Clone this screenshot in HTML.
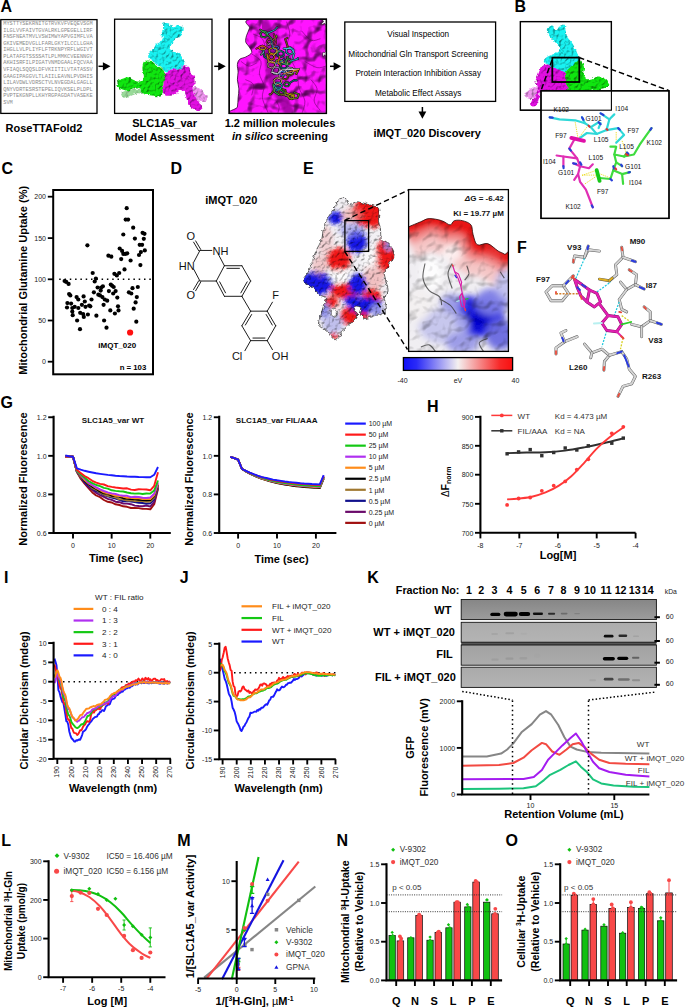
<!DOCTYPE html>
<html><head><meta charset="utf-8"><title>Figure</title>
<style>
html,body{margin:0;padding:0;background:#fff;}
body{width:685px;height:1007px;overflow:hidden;font-family:"Liberation Sans",sans-serif;}
svg{display:block;font-family:"Liberation Sans",sans-serif;}
</style></head><body>
<svg width="685" height="1007" viewBox="0 0 685 1007">
<rect width="685" height="1007" fill="#fff"/>
<defs>
<filter id="bump" x="-5%" y="-5%" width="110%" height="110%" color-interpolation-filters="sRGB">
 <feTurbulence type="fractalNoise" baseFrequency="0.28" numOctaves="2" seed="3" result="n"/>
 <feDisplacementMap in="SourceGraphic" in2="n" scale="4" xChannelSelector="R" yChannelSelector="G" result="d"/>
 <feTurbulence type="fractalNoise" baseFrequency="0.33" numOctaves="2" seed="9" result="n2"/>
 <feColorMatrix in="n2" type="matrix" values="0 0 0 0 0  0 0 0 0 0  0 0 0 0 0  1 0 0 0 0" result="na"/>
 <feDiffuseLighting in="na" surfaceScale="1.7" diffuseConstant="1.12" lighting-color="#ffffff" result="lit"><feDistantLight azimuth="230" elevation="62"/></feDiffuseLighting>
 <feComposite in="lit" in2="d" operator="arithmetic" k1="1" k2="0" k3="0" k4="0"/>
</filter>
<filter id="bumpE" x="-5%" y="-5%" width="110%" height="110%" color-interpolation-filters="sRGB">
 <feTurbulence type="fractalNoise" baseFrequency="0.26" numOctaves="2" seed="11" result="n"/>
 <feDisplacementMap in="SourceGraphic" in2="n" scale="4" xChannelSelector="R" yChannelSelector="G" result="d"/>
 <feTurbulence type="fractalNoise" baseFrequency="0.3" numOctaves="2" seed="21" result="n2"/>
 <feColorMatrix in="n2" type="matrix" values="0 0 0 0 0  0 0 0 0 0  0 0 0 0 0  1 0 0 0 0" result="na"/>
 <feDiffuseLighting in="na" surfaceScale="1.7" diffuseConstant="1.14" lighting-color="#ffffff" result="lit"><feDistantLight azimuth="230" elevation="62"/></feDiffuseLighting>
 <feComposite in="lit" in2="d" operator="arithmetic" k1="1" k2="0" k3="0" k4="0"/>
</filter>
<filter id="bumpM" x="0" y="0" width="100%" height="100%" color-interpolation-filters="sRGB">
 <feTurbulence type="fractalNoise" baseFrequency="0.075" numOctaves="2" seed="14" result="n2"/>
 <feColorMatrix in="n2" type="matrix" values="0 0 0 0 0  0 0 0 0 0  0 0 0 0 0  1 0 0 0 0" result="na"/>
 <feDiffuseLighting in="na" surfaceScale="8" diffuseConstant="1.14" lighting-color="#ffffff" result="lit"><feDistantLight azimuth="235" elevation="66"/></feDiffuseLighting>
 <feComposite in="lit" in2="SourceGraphic" operator="arithmetic" k1="1" k2="0" k3="0" k4="0"/>
</filter>
<filter id="blur15"><feGaussianBlur stdDeviation="1.5"/></filter>
<filter id="bumpI" x="0" y="0" width="100%" height="100%" color-interpolation-filters="sRGB">
 <feTurbulence type="fractalNoise" baseFrequency="0.085" numOctaves="2" seed="5" result="n2"/>
 <feColorMatrix in="n2" type="matrix" values="0 0 0 0 0  0 0 0 0 0  0 0 0 0 0  1 0 0 0 0" result="na"/>
 <feDiffuseLighting in="na" surfaceScale="2.6" diffuseConstant="1.1" lighting-color="#ffffff" result="lit"><feDistantLight azimuth="235" elevation="66"/></feDiffuseLighting>
 <feComposite in="lit" in2="SourceGraphic" operator="arithmetic" k1="1" k2="0" k3="0" k4="0"/>
</filter>
<filter id="blur1"><feGaussianBlur stdDeviation="1"/></filter>
<filter id="blur2"><feGaussianBlur stdDeviation="2"/></filter>
<filter id="blur3"><feGaussianBlur stdDeviation="3"/></filter>
<filter id="blur05"><feGaussianBlur stdDeviation="0.5"/></filter>
</defs>
<text x="0.4" y="11.8" font-size="16" font-weight="bold" text-anchor="start" fill="#000" >A</text>
<rect x="0.8" y="19.6" width="96.2" height="93.8" fill="#fff" stroke="#000" stroke-width="1.3"/>
<text x="3.2" y="25.30" font-family="Liberation Mono, monospace" font-size="4.6" fill="#8a8a8a" textLength="89.5" lengthAdjust="spacingAndGlyphs">MYSTTYSEKRNITGTRVKVFVEQEVSGM</text>
<text x="3.2" y="31.83" font-family="Liberation Mono, monospace" font-size="4.6" fill="#8a8a8a" textLength="89.5" lengthAdjust="spacingAndGlyphs">ILGLVVFAIVTGVALRKLGPEGELLIRF</text>
<text x="3.2" y="38.36" font-family="Liberation Mono, monospace" font-size="4.6" fill="#8a8a8a" textLength="89.5" lengthAdjust="spacingAndGlyphs">FNSFNEATMVLVSWIMWYAPVGIMFLVA</text>
<text x="3.2" y="44.89" font-family="Liberation Mono, monospace" font-size="4.6" fill="#8a8a8a" textLength="89.5" lengthAdjust="spacingAndGlyphs">GKIVEMEDVGLLFARLGKYILCCLLGHA</text>
<text x="3.2" y="51.42" font-family="Liberation Mono, monospace" font-size="4.6" fill="#8a8a8a" textLength="89.5" lengthAdjust="spacingAndGlyphs">IHGLLVLPLIYFLFTRKNPYRFLWGIVT</text>
<text x="3.2" y="57.95" font-family="Liberation Mono, monospace" font-size="4.6" fill="#8a8a8a" textLength="89.5" lengthAdjust="spacingAndGlyphs">PLATAFGTSSSSATLPLMMKCVEENNGV</text>
<text x="3.2" y="64.48" font-family="Liberation Mono, monospace" font-size="4.6" fill="#8a8a8a" textLength="89.5" lengthAdjust="spacingAndGlyphs">AKHISRFILPIGATVNMDGAALFQCVAA</text>
<text x="3.2" y="71.01" font-family="Liberation Mono, monospace" font-size="4.6" fill="#8a8a8a" textLength="89.5" lengthAdjust="spacingAndGlyphs">VFIAQLSQQSLDFVKIITILVTATASSV</text>
<text x="3.2" y="77.54" font-family="Liberation Mono, monospace" font-size="4.6" fill="#8a8a8a" textLength="89.5" lengthAdjust="spacingAndGlyphs">GAAGIPAGGVLTLAIILEAVNLPVDHIS</text>
<text x="3.2" y="84.07" font-family="Liberation Mono, monospace" font-size="4.6" fill="#8a8a8a" textLength="89.5" lengthAdjust="spacingAndGlyphs">LILAVDWLVDRSCTVLNVEGDALGAGLL</text>
<text x="3.2" y="90.60" font-family="Liberation Mono, monospace" font-size="4.6" fill="#8a8a8a" textLength="89.5" lengthAdjust="spacingAndGlyphs">QNYVDRTESRSTEPELIQVKSELPLDPL</text>
<text x="3.2" y="97.13" font-family="Liberation Mono, monospace" font-size="4.6" fill="#8a8a8a" textLength="89.5" lengthAdjust="spacingAndGlyphs">PVPTEKGNPLLKHYRGPAGDATVASEKE</text>
<text x="3.2" y="103.66" font-family="Liberation Mono, monospace" font-size="4.6" fill="#8a8a8a" textLength="9.6" lengthAdjust="spacingAndGlyphs">SVM</text>
<text x="5.5" y="132.4" font-size="11" font-weight="bold" text-anchor="start" fill="#000" >RoseTTAFold2</text>
<path d="M98.5,66.3H103.9" stroke="#000" stroke-width="1.5"/><path d="M110.5,66.3L102.9,62.199999999999996V70.39999999999999Z" fill="#000"/>
<rect x="114.6" y="19.2" width="97.4" height="94.2" fill="#fff" stroke="#000" stroke-width="1.3"/>
<g filter="url(#bump)">
<path d="M121.1,93.4C121.5,92.0 123.9,91.1 127.2,90.4C130.5,89.6 138.3,88.4 140.8,88.9C143.4,89.4 142.9,92.7 142.4,93.4C141.9,94.2 139.8,93.0 137.8,93.4C135.8,93.8 132.4,94.8 130.2,95.7C128.1,96.6 126.4,99.1 124.9,98.7C123.4,98.4 120.7,94.8 121.1,93.4Z" fill="#7fd27f" opacity="0.8"/>
<path d="M192.5,87.4C193.2,86.5 196.5,87.1 198.5,88.1C200.6,89.1 203.1,92.2 204.6,93.4C206.1,94.7 207.4,94.4 207.6,95.7C207.9,97.0 207.1,100.1 206.1,101.0C205.1,101.9 203.1,101.3 201.6,101.0C200.1,100.8 198.3,100.8 197.0,99.5C195.8,98.2 194.7,95.4 194.0,93.4C193.2,91.4 191.7,88.2 192.5,87.4Z" fill="#ee82ee" opacity="0.85"/>
<path d="M163.6,22.8C164.6,21.8 167.4,22.8 168.9,23.6C170.4,24.3 171.3,27.1 172.7,27.4C174.1,27.6 175.8,25.4 177.3,25.1C178.8,24.9 180.9,25.0 181.8,25.9C182.7,26.8 182.7,28.8 182.6,30.4C182.5,32.1 182.2,34.3 181.1,35.7C179.9,37.1 177.4,37.4 175.8,38.8C174.1,40.2 172.2,42.4 171.2,44.1C170.2,45.7 169.2,47.4 169.7,48.6C170.2,49.9 172.6,50.8 174.2,51.7C175.9,52.6 178.0,52.6 179.6,54.0C181.1,55.3 182.6,58.3 183.4,60.0C184.1,61.8 184.6,63.2 184.1,64.6C183.6,66.0 182.2,67.6 180.3,68.4C178.4,69.1 175.0,68.6 172.7,69.1C170.4,69.6 168.4,71.5 166.7,71.4C164.9,71.3 163.6,69.5 162.1,68.4C160.6,67.2 159.1,65.7 157.5,64.6C156.0,63.4 154.5,62.7 153.0,61.5C151.5,60.4 149.1,59.1 148.4,57.7C147.8,56.4 148.3,54.7 149.2,53.2C150.1,51.7 152.6,50.2 153.7,48.6C154.9,47.1 154.9,45.4 156.0,44.1C157.2,42.8 159.4,42.3 160.6,41.0C161.7,39.8 162.9,37.4 162.9,36.5C162.9,35.6 160.6,36.9 160.6,35.7C160.6,34.6 162.4,31.8 162.9,29.7C163.4,27.5 162.6,23.8 163.6,22.8Z" fill="#19f2f2"/>
<path d="M143.9,61.5C145.1,60.2 147.9,60.3 150.0,60.8C152.0,61.3 154.0,63.2 156.0,64.6C158.1,66.0 160.6,67.6 162.1,69.1C163.6,70.7 164.9,71.4 165.1,73.7C165.4,76.0 164.0,79.8 163.6,82.8C163.2,85.8 163.4,89.6 162.9,91.9C162.4,94.2 162.0,95.8 160.6,96.5C159.2,97.1 156.5,96.0 154.5,95.7C152.5,95.4 150.5,95.3 148.4,94.9C146.4,94.6 143.6,94.4 142.4,93.4C141.1,92.4 141.9,89.9 140.8,88.9C139.8,87.9 137.8,87.4 136.3,87.4C134.8,87.4 133.3,88.4 131.7,88.9C130.2,89.4 129.0,90.4 127.2,90.4C125.4,90.4 122.9,89.8 121.1,88.9C119.3,88.0 117.1,86.5 116.6,85.1C116.0,83.7 116.8,81.7 118.1,80.5C119.3,79.4 122.4,78.7 124.1,78.2C125.9,77.7 126.9,77.1 128.7,77.5C130.5,77.9 132.7,79.9 134.8,80.5C136.8,81.2 139.3,81.9 140.8,81.3C142.4,80.6 143.6,78.7 143.9,76.7C144.1,74.7 142.4,71.7 142.4,69.1C142.4,66.6 142.6,62.9 143.9,61.5Z" fill="#0fe60f"/>
<path d="M165.1,73.7C166.7,71.4 170.2,70.0 172.7,69.1C175.3,68.2 178.3,69.0 180.3,68.4C182.3,67.7 183.4,65.5 184.9,65.3C186.4,65.2 188.4,66.2 189.4,67.6C190.4,69.0 190.1,72.2 190.9,73.7C191.8,75.2 194.0,75.2 194.7,76.7C195.5,78.2 195.9,81.0 195.5,82.8C195.1,84.6 192.7,85.6 192.5,87.4C192.2,89.1 193.2,91.4 194.0,93.4C194.7,95.4 195.9,97.5 197.0,99.5C198.2,101.5 200.2,103.8 200.8,105.6C201.4,107.3 201.4,109.2 200.8,110.1C200.2,111.0 198.5,111.3 197.0,110.9C195.5,110.5 193.2,109.0 191.7,107.8C190.2,106.7 188.8,105.7 187.9,104.1C187.0,102.4 186.9,100.0 186.4,98.0C185.9,96.0 185.9,93.2 184.9,91.9C183.9,90.6 181.8,90.1 180.3,90.4C178.8,90.6 177.5,92.5 175.8,93.4C174.0,94.3 171.6,95.4 169.7,95.7C167.8,96.0 165.5,95.6 164.4,94.9C163.2,94.3 163.0,93.9 162.9,91.9C162.7,89.9 163.2,85.8 163.6,82.8C164.0,79.8 163.6,76.0 165.1,73.7Z" fill="#e10fe1"/>
</g>
<text x="164.6" y="127" font-size="11" font-weight="bold" text-anchor="middle" fill="#000" >SLC1A5_var</text>
<text x="164.6" y="140.6" font-size="11" font-weight="bold" text-anchor="middle" fill="#000" >Model Assessment</text>
<path d="M214.2,66.3H219.20000000000002" stroke="#000" stroke-width="1.5"/><path d="M225.8,66.3L218.20000000000002,62.199999999999996V70.39999999999999Z" fill="#000"/>
<rect x="229.2" y="19.2" width="97.2" height="94.2" fill="#fff" stroke="#000" stroke-width="1.3"/>
<clipPath id="cb3"><rect x="229.8" y="19.8" width="96" height="93"/></clipPath>
<g clip-path="url(#cb3)">
<g filter="url(#bumpM)"><path d="M251.0,19.3C239.8,20.8 250.3,25.4 249.5,28.1C248.8,30.9 247.1,33.5 246.5,35.7C245.9,38.0 245.4,40.0 245.7,41.8C246.1,43.6 247.8,44.6 248.8,46.4C249.8,48.1 252.3,50.7 251.8,52.4C251.3,54.2 247.8,55.9 245.7,57.0C243.7,58.1 241.1,58.0 239.7,59.3C238.3,60.5 237.6,62.4 237.4,64.6C237.1,66.7 238.1,69.6 238.1,72.2C238.1,74.7 237.3,77.0 237.4,79.8C237.5,82.5 238.8,85.8 238.9,88.9C239.0,91.9 238.4,94.9 238.1,98.0C237.9,101.0 237.9,104.5 237.4,107.1C236.9,109.7 220.4,112.4 235.1,113.5C249.8,114.5 310.6,122.5 325.7,113.5C340.8,104.4 326.2,68.7 325.7,59.3C325.3,49.9 323.6,58.1 323.2,57.0C322.7,55.9 322.4,53.6 322.9,52.4C323.3,51.3 325.3,54.7 325.7,50.2C326.2,45.7 326.4,29.7 325.7,25.4C325.1,21.1 323.1,25.4 321.6,24.3C320.2,23.3 328.9,20.2 317.1,19.3C305.3,18.5 262.3,17.9 251.0,19.3Z" fill="#ff14ff"/></g>
<path d="M251.0,19.3C239.8,20.8 250.3,25.4 249.5,28.1C248.8,30.9 247.1,33.5 246.5,35.7C245.9,38.0 245.4,40.0 245.7,41.8C246.1,43.6 247.8,44.6 248.8,46.4C249.8,48.1 252.3,50.7 251.8,52.4C251.3,54.2 247.8,55.9 245.7,57.0C243.7,58.1 241.1,58.0 239.7,59.3C238.3,60.5 237.6,62.4 237.4,64.6C237.1,66.7 238.1,69.6 238.1,72.2C238.1,74.7 237.3,77.0 237.4,79.8C237.5,82.5 238.8,85.8 238.9,88.9C239.0,91.9 238.4,94.9 238.1,98.0C237.9,101.0 237.9,104.5 237.4,107.1C236.9,109.7 220.4,112.4 235.1,113.5C249.8,114.5 310.6,122.5 325.7,113.5C340.8,104.4 326.2,68.7 325.7,59.3C325.3,49.9 323.6,58.1 323.2,57.0C322.7,55.9 322.4,53.6 322.9,52.4C323.3,51.3 325.3,54.7 325.7,50.2C326.2,45.7 326.4,29.7 325.7,25.4C325.1,21.1 323.1,25.4 321.6,24.3C320.2,23.3 328.9,20.2 317.1,19.3C305.3,18.5 262.3,17.9 251.0,19.3Z" fill="none" stroke="#300030" stroke-width="0.8"/>
<g filter="url(#blur1)">
<path d="M264.7,25.1C265.9,27.4 270.7,33.7 271.5,38.8C272.4,43.8 270.0,49.7 270.0,55.5C270.0,61.3 270.5,68.4 271.5,73.7C272.6,79.0 274.1,82.8 276.1,87.4C278.1,91.9 281.4,96.7 283.7,101.0C286.0,105.4 288.7,111.4 289.8,113.5" fill="none" stroke="#8a008a" stroke-width="10" stroke-linecap="round" opacity="0.7"/>
</g>
<g filter="url(#blur05)">
<path d="M286.7,22.1C287.2,24.1 289.8,30.2 289.8,34.2C289.8,38.3 286.5,42.1 286.7,46.4C287.0,50.7 289.5,55.5 291.3,60.0C293.1,64.6 296.1,69.1 297.4,73.7C298.6,78.2 297.6,82.8 298.9,87.4C300.1,91.9 304.4,96.7 304.9,101.0C305.4,105.4 302.4,111.4 301.9,113.5" fill="none" stroke="#5a005a" stroke-width="1.0" stroke-linecap="round" opacity="0.5"/>
<path d="M251.8,54.0C253.3,55.2 259.7,58.3 260.9,61.5C262.2,64.8 258.9,69.6 259.4,73.7C259.9,77.7 263.4,81.8 264.0,85.8C264.5,89.9 261.7,93.4 262.4,98.0C263.2,102.6 267.5,110.9 268.5,113.5" fill="none" stroke="#5a005a" stroke-width="1.0" stroke-linecap="round" opacity="0.5"/>
<path d="M304.9,61.5C307.0,62.6 313.6,66.9 317.1,67.6C320.6,68.4 324.3,66.4 325.7,66.1" fill="none" stroke="#5a005a" stroke-width="1.0" stroke-linecap="round" opacity="0.5"/>
<path d="M301.9,31.2C303.4,32.7 308.0,39.0 311.0,40.3C314.1,41.6 318.6,39.0 320.1,38.8" fill="none" stroke="#5a005a" stroke-width="1.0" stroke-linecap="round" opacity="0.5"/>
<path d="M245.7,79.8C247.0,80.5 252.3,81.8 253.3,84.3C254.3,86.8 252.1,93.2 251.8,94.9" fill="none" stroke="#5a005a" stroke-width="1.0" stroke-linecap="round" opacity="0.5"/>
<path d="M311.0,79.8C312.0,81.3 316.6,85.3 317.1,88.9C317.6,92.4 313.5,97.5 314.1,101.0C314.6,104.6 319.1,108.6 320.1,110.1" fill="none" stroke="#5a005a" stroke-width="1.0" stroke-linecap="round" opacity="0.5"/>
<path d="M253.3,34.2C254.8,35.0 260.4,36.2 262.4,38.8C264.5,41.3 265.0,47.6 265.5,49.4" fill="none" stroke="#5a005a" stroke-width="1.0" stroke-linecap="round" opacity="0.5"/>
<path d="M241.2,61.5C242.4,62.3 246.2,65.8 248.8,66.1C251.3,66.4 255.1,63.6 256.4,63.1" fill="none" stroke="#5a005a" stroke-width="1.0" stroke-linecap="round" opacity="0.5"/>
<path d="M276.1,101.0C276.6,102.0 278.9,105.0 279.1,107.1C279.4,109.2 277.9,112.4 277.6,113.5" fill="none" stroke="#5a005a" stroke-width="1.0" stroke-linecap="round" opacity="0.5"/>
</g>
<path d="M261.4,36.6L260.3,33.4L262.9,31.0L266.5,31.8L267.6,35.0L265.0,37.4Z" fill="none" stroke="#1a1a1a" stroke-width="2.1" stroke-linejoin="round" stroke-linecap="round"/>
<path d="M267.4,33.3L274.6,30.1L277.2,27.3" fill="none" stroke="#1a1a1a" stroke-width="2.1" stroke-linejoin="round" stroke-linecap="round"/>
<path d="M266.6,42.3L267.8,39.6L271.2,39.1L273.4,41.3L272.2,44.0L268.9,44.5Z" fill="none" stroke="#1a1a1a" stroke-width="2.1" stroke-linejoin="round" stroke-linecap="round"/>
<path d="M272.8,40.4L276.5,37.1L276.3,35.6" fill="none" stroke="#1a1a1a" stroke-width="2.1" stroke-linejoin="round" stroke-linecap="round"/>
<path d="M261.6,49.6L259.0,48.4L259.8,46.6L263.3,46.1L265.9,47.4L265.0,49.1Z" fill="none" stroke="#1a1a1a" stroke-width="2.1" stroke-linejoin="round" stroke-linecap="round"/>
<path d="M263.2,50.3L264.3,56.7L266.8,58.3" fill="none" stroke="#1a1a1a" stroke-width="2.1" stroke-linejoin="round" stroke-linecap="round"/>
<path d="M273.8,48.9L273.4,47.2L275.8,46.2L278.4,46.9L278.7,48.5L276.4,49.5Z" fill="none" stroke="#1a1a1a" stroke-width="2.1" stroke-linejoin="round" stroke-linecap="round"/>
<path d="M274.0,46.5L270.5,42.8L267.5,45.1" fill="none" stroke="#1a1a1a" stroke-width="2.1" stroke-linejoin="round" stroke-linecap="round"/>
<path d="M273.9,58.8L271.1,59.9L268.8,58.1L269.2,55.1L272.0,54.1L274.3,55.9Z" fill="none" stroke="#1a1a1a" stroke-width="2.1" stroke-linejoin="round" stroke-linecap="round"/>
<path d="M273.6,55.5L277.4,50.9L280.2,51.2" fill="none" stroke="#1a1a1a" stroke-width="2.1" stroke-linejoin="round" stroke-linecap="round"/>
<path d="M292.8,53.1L289.3,54.6L286.2,52.4L286.7,48.7L290.2,47.2L293.3,49.5Z" fill="none" stroke="#1a1a1a" stroke-width="2.1" stroke-linejoin="round" stroke-linecap="round"/>
<path d="M288.4,48.4L285.1,39.1L287.5,37.9" fill="none" stroke="#1a1a1a" stroke-width="2.1" stroke-linejoin="round" stroke-linecap="round"/>
<path d="M282.0,62.5L279.1,63.4L276.3,62.5L276.3,60.6L279.1,59.7L281.9,60.6Z" fill="none" stroke="#1a1a1a" stroke-width="2.1" stroke-linejoin="round" stroke-linecap="round"/>
<path d="M282.1,62.4L287.2,65.0L287.8,62.0" fill="none" stroke="#1a1a1a" stroke-width="2.1" stroke-linejoin="round" stroke-linecap="round"/>
<path d="M285.6,68.3L281.7,68.2L279.9,66.1L281.8,63.9L285.6,63.9L287.5,66.1Z" fill="none" stroke="#1a1a1a" stroke-width="2.1" stroke-linejoin="round" stroke-linecap="round"/>
<path d="M285.3,63.7L287.9,56.8L286.8,56.7" fill="none" stroke="#1a1a1a" stroke-width="2.1" stroke-linejoin="round" stroke-linecap="round"/>
<path d="M279.9,71.3L277.4,74.2L273.6,73.6L272.3,70.0L274.8,67.1L278.6,67.7Z" fill="none" stroke="#1a1a1a" stroke-width="2.1" stroke-linejoin="round" stroke-linecap="round"/>
<path d="M279.9,71.0L287.6,72.3L289.7,69.4" fill="none" stroke="#1a1a1a" stroke-width="2.1" stroke-linejoin="round" stroke-linecap="round"/>
<path d="M291.4,73.5L287.4,73.2L285.8,70.3L288.1,67.8L292.1,68.1L293.8,71.0Z" fill="none" stroke="#1a1a1a" stroke-width="2.1" stroke-linejoin="round" stroke-linecap="round"/>
<path d="M293.8,70.8L298.0,71.1L296.1,73.9" fill="none" stroke="#1a1a1a" stroke-width="2.1" stroke-linejoin="round" stroke-linecap="round"/>
<path d="M283.1,78.7L282.4,75.9L284.5,74.0L287.3,74.7L288.0,77.5L285.9,79.5Z" fill="none" stroke="#1a1a1a" stroke-width="2.1" stroke-linejoin="round" stroke-linecap="round"/>
<path d="M288.0,76.0L293.3,73.6L292.4,73.8" fill="none" stroke="#1a1a1a" stroke-width="2.1" stroke-linejoin="round" stroke-linecap="round"/>
<path d="M281.4,82.4L278.3,84.7L274.6,83.6L273.8,80.1L276.9,77.8L280.7,79.0Z" fill="none" stroke="#1a1a1a" stroke-width="2.1" stroke-linejoin="round" stroke-linecap="round"/>
<path d="M278.8,78.6L281.2,69.5L278.4,72.2" fill="none" stroke="#1a1a1a" stroke-width="2.1" stroke-linejoin="round" stroke-linecap="round"/>
<path d="M288.1,86.3L285.3,86.2L284.0,84.3L285.4,82.4L288.2,82.4L289.5,84.4Z" fill="none" stroke="#1a1a1a" stroke-width="2.1" stroke-linejoin="round" stroke-linecap="round"/>
<path d="M289.1,83.4L294.1,80.1L296.6,80.4" fill="none" stroke="#1a1a1a" stroke-width="2.1" stroke-linejoin="round" stroke-linecap="round"/>
<path d="M279.3,90.4L276.2,90.5L274.5,89.0L275.9,87.3L279.1,87.2L280.8,88.8Z" fill="none" stroke="#1a1a1a" stroke-width="2.1" stroke-linejoin="round" stroke-linecap="round"/>
<path d="M280.4,89.9L284.6,92.6L285.7,95.6" fill="none" stroke="#1a1a1a" stroke-width="2.1" stroke-linejoin="round" stroke-linecap="round"/>
<path d="M294.1,96.9L292.3,99.1L289.5,98.7L288.4,96.0L290.2,93.8L293.1,94.2Z" fill="none" stroke="#1a1a1a" stroke-width="2.1" stroke-linejoin="round" stroke-linecap="round"/>
<path d="M288.5,96.0L282.6,94.6L281.0,95.2" fill="none" stroke="#1a1a1a" stroke-width="2.1" stroke-linejoin="round" stroke-linecap="round"/>
<path d="M282.7,94.8L279.0,93.7L278.4,90.8L281.6,89.0L285.4,90.1L286.0,93.0Z" fill="none" stroke="#1a1a1a" stroke-width="2.1" stroke-linejoin="round" stroke-linecap="round"/>
<path d="M286.0,92.9L294.1,96.2L291.3,96.2" fill="none" stroke="#1a1a1a" stroke-width="2.1" stroke-linejoin="round" stroke-linecap="round"/>
<path d="M275.3,66.0L272.0,68.1L268.2,66.7L267.8,63.2L271.1,61.0L274.8,62.5Z" fill="none" stroke="#1a1a1a" stroke-width="2.1" stroke-linejoin="round" stroke-linecap="round"/>
<path d="M275.4,63.7L282.2,61.1L284.0,58.7" fill="none" stroke="#1a1a1a" stroke-width="2.1" stroke-linejoin="round" stroke-linecap="round"/>
<path d="M283.7,55.4L280.8,57.1L277.8,55.7L277.6,52.5L280.5,50.8L283.5,52.2Z" fill="none" stroke="#1a1a1a" stroke-width="2.1" stroke-linejoin="round" stroke-linecap="round"/>
<path d="M279.7,56.2L278.0,63.2L281.0,65.3" fill="none" stroke="#1a1a1a" stroke-width="2.1" stroke-linejoin="round" stroke-linecap="round"/>
<path d="M273.7,54.1L269.6,52.9L269.0,49.7L272.4,47.7L276.5,48.9L277.1,52.1Z" fill="none" stroke="#1a1a1a" stroke-width="2.1" stroke-linejoin="round" stroke-linecap="round"/>
<path d="M272.5,47.9L271.7,40.3L270.4,39.7" fill="none" stroke="#1a1a1a" stroke-width="2.1" stroke-linejoin="round" stroke-linecap="round"/>
<path d="M289.3,64.2L286.5,63.8L285.4,61.2L287.2,58.9L290.0,59.3L291.1,61.9Z" fill="none" stroke="#1a1a1a" stroke-width="2.1" stroke-linejoin="round" stroke-linecap="round"/>
<path d="M291.0,61.0L297.9,59.0L297.9,58.0" fill="none" stroke="#1a1a1a" stroke-width="2.1" stroke-linejoin="round" stroke-linecap="round"/>
<path d="M284.0,75.5L281.3,76.0L279.5,74.2L280.4,71.8L283.1,71.4L284.9,73.2Z" fill="none" stroke="#1a1a1a" stroke-width="2.1" stroke-linejoin="round" stroke-linecap="round"/>
<path d="M284.0,72.3L287.9,67.3L289.6,69.0" fill="none" stroke="#1a1a1a" stroke-width="2.1" stroke-linejoin="round" stroke-linecap="round"/>
<path d="M276.5,88.8L274.5,85.9L276.4,82.9L280.3,82.9L282.2,85.8L280.3,88.8Z" fill="none" stroke="#1a1a1a" stroke-width="2.1" stroke-linejoin="round" stroke-linecap="round"/>
<path d="M275.9,87.9L270.9,94.4L269.6,94.4" fill="none" stroke="#1a1a1a" stroke-width="2.1" stroke-linejoin="round" stroke-linecap="round"/>
<path d="M260.2,29.7L267.0,34.2L271.5,38.8" fill="none" stroke="#1a1a1a" stroke-width="2.1" stroke-linejoin="round" stroke-linecap="round"/>
<path d="M256.4,48.6L262.4,45.6L267.7,48.6" fill="none" stroke="#1a1a1a" stroke-width="2.1" stroke-linejoin="round" stroke-linecap="round"/>
<path d="M273.8,34.2L276.1,41.8L274.6,46.4" fill="none" stroke="#1a1a1a" stroke-width="2.1" stroke-linejoin="round" stroke-linecap="round"/>
<path d="M271.5,72.2L277.6,73.7L282.2,69.9L298.9,69.1" fill="none" stroke="#1a1a1a" stroke-width="2.1" stroke-linejoin="round" stroke-linecap="round"/>
<path d="M283.7,73.7L291.3,71.4L298.9,69.4" fill="none" stroke="#1a1a1a" stroke-width="2.1" stroke-linejoin="round" stroke-linecap="round"/>
<path d="M285.2,94.9L291.3,98.7L297.4,98.0L298.9,94.2L294.3,92.7" fill="none" stroke="#1a1a1a" stroke-width="2.1" stroke-linejoin="round" stroke-linecap="round"/>
<path d="M267.0,54.0L268.5,61.5L274.6,63.1" fill="none" stroke="#1a1a1a" stroke-width="2.1" stroke-linejoin="round" stroke-linecap="round"/>
<path d="M283.7,48.6L291.3,48.6L294.3,53.2L292.8,58.5" fill="none" stroke="#1a1a1a" stroke-width="2.1" stroke-linejoin="round" stroke-linecap="round"/>
<path d="M273.1,84.3L274.6,91.9L279.1,94.9" fill="none" stroke="#1a1a1a" stroke-width="2.1" stroke-linejoin="round" stroke-linecap="round"/>
<path d="M260.9,54.7L264.0,51.7" fill="none" stroke="#1a1a1a" stroke-width="2.1" stroke-linejoin="round" stroke-linecap="round"/>
<path d="M261.4,36.6L260.3,33.4L262.9,31.0L266.5,31.8L267.6,35.0L265.0,37.4Z" fill="none" stroke="#2f9e44" stroke-width="0.9" stroke-linejoin="round" stroke-linecap="round"/>
<path d="M267.4,33.3L274.6,30.1L277.2,27.3" fill="none" stroke="#22b8cf" stroke-width="0.9" stroke-linejoin="round" stroke-linecap="round"/>
<path d="M266.6,42.3L267.8,39.6L271.2,39.1L273.4,41.3L272.2,44.0L268.9,44.5Z" fill="none" stroke="#c2255c" stroke-width="0.9" stroke-linejoin="round" stroke-linecap="round"/>
<path d="M272.8,40.4L276.5,37.1L276.3,35.6" fill="none" stroke="#74b816" stroke-width="0.9" stroke-linejoin="round" stroke-linecap="round"/>
<path d="M261.6,49.6L259.0,48.4L259.8,46.6L263.3,46.1L265.9,47.4L265.0,49.1Z" fill="none" stroke="#c9a800" stroke-width="0.9" stroke-linejoin="round" stroke-linecap="round"/>
<path d="M263.2,50.3L264.3,56.7L266.8,58.3" fill="none" stroke="#0b7285" stroke-width="0.9" stroke-linejoin="round" stroke-linecap="round"/>
<path d="M273.8,48.9L273.4,47.2L275.8,46.2L278.4,46.9L278.7,48.5L276.4,49.5Z" fill="none" stroke="#3b5bdb" stroke-width="0.9" stroke-linejoin="round" stroke-linecap="round"/>
<path d="M274.0,46.5L270.5,42.8L267.5,45.1" fill="none" stroke="#9c8cc0" stroke-width="0.9" stroke-linejoin="round" stroke-linecap="round"/>
<path d="M273.9,58.8L271.1,59.9L268.8,58.1L269.2,55.1L272.0,54.1L274.3,55.9Z" fill="none" stroke="#e8590c" stroke-width="0.9" stroke-linejoin="round" stroke-linecap="round"/>
<path d="M273.6,55.5L277.4,50.9L280.2,51.2" fill="none" stroke="#b8b8b8" stroke-width="0.9" stroke-linejoin="round" stroke-linecap="round"/>
<path d="M292.8,53.1L289.3,54.6L286.2,52.4L286.7,48.7L290.2,47.2L293.3,49.5Z" fill="none" stroke="#22b8cf" stroke-width="0.9" stroke-linejoin="round" stroke-linecap="round"/>
<path d="M288.4,48.4L285.1,39.1L287.5,37.9" fill="none" stroke="#8a5a20" stroke-width="0.9" stroke-linejoin="round" stroke-linecap="round"/>
<path d="M282.0,62.5L279.1,63.4L276.3,62.5L276.3,60.6L279.1,59.7L281.9,60.6Z" fill="none" stroke="#74b816" stroke-width="0.9" stroke-linejoin="round" stroke-linecap="round"/>
<path d="M282.1,62.4L287.2,65.0L287.8,62.0" fill="none" stroke="#d9a066" stroke-width="0.9" stroke-linejoin="round" stroke-linecap="round"/>
<path d="M285.6,68.3L281.7,68.2L279.9,66.1L281.8,63.9L285.6,63.9L287.5,66.1Z" fill="none" stroke="#0b7285" stroke-width="0.9" stroke-linejoin="round" stroke-linecap="round"/>
<path d="M285.3,63.7L287.9,56.8L286.8,56.7" fill="none" stroke="#2b8a3e" stroke-width="0.9" stroke-linejoin="round" stroke-linecap="round"/>
<path d="M279.9,71.3L277.4,74.2L273.6,73.6L272.3,70.0L274.8,67.1L278.6,67.7Z" fill="none" stroke="#9c8cc0" stroke-width="0.9" stroke-linejoin="round" stroke-linecap="round"/>
<path d="M279.9,71.0L287.6,72.3L289.7,69.4" fill="none" stroke="#1864ab" stroke-width="0.9" stroke-linejoin="round" stroke-linecap="round"/>
<path d="M291.4,73.5L287.4,73.2L285.8,70.3L288.1,67.8L292.1,68.1L293.8,71.0Z" fill="none" stroke="#b8b8b8" stroke-width="0.9" stroke-linejoin="round" stroke-linecap="round"/>
<path d="M293.8,70.8L298.0,71.1L296.1,73.9" fill="none" stroke="#b08900" stroke-width="0.9" stroke-linejoin="round" stroke-linecap="round"/>
<path d="M283.1,78.7L282.4,75.9L284.5,74.0L287.3,74.7L288.0,77.5L285.9,79.5Z" fill="none" stroke="#8a5a20" stroke-width="0.9" stroke-linejoin="round" stroke-linecap="round"/>
<path d="M288.0,76.0L293.3,73.6L292.4,73.8" fill="none" stroke="#5c6b00" stroke-width="0.9" stroke-linejoin="round" stroke-linecap="round"/>
<path d="M281.4,82.4L278.3,84.7L274.6,83.6L273.8,80.1L276.9,77.8L280.7,79.0Z" fill="none" stroke="#d9a066" stroke-width="0.9" stroke-linejoin="round" stroke-linecap="round"/>
<path d="M278.8,78.6L281.2,69.5L278.4,72.2" fill="none" stroke="#c98a9a" stroke-width="0.9" stroke-linejoin="round" stroke-linecap="round"/>
<path d="M288.1,86.3L285.3,86.2L284.0,84.3L285.4,82.4L288.2,82.4L289.5,84.4Z" fill="none" stroke="#2b8a3e" stroke-width="0.9" stroke-linejoin="round" stroke-linecap="round"/>
<path d="M289.1,83.4L294.1,80.1L296.6,80.4" fill="none" stroke="#087f7f" stroke-width="0.9" stroke-linejoin="round" stroke-linecap="round"/>
<path d="M279.3,90.4L276.2,90.5L274.5,89.0L275.9,87.3L279.1,87.2L280.8,88.8Z" fill="none" stroke="#1864ab" stroke-width="0.9" stroke-linejoin="round" stroke-linecap="round"/>
<path d="M280.4,89.9L284.6,92.6L285.7,95.6" fill="none" stroke="#2f9e44" stroke-width="0.9" stroke-linejoin="round" stroke-linecap="round"/>
<path d="M294.1,96.9L292.3,99.1L289.5,98.7L288.4,96.0L290.2,93.8L293.1,94.2Z" fill="none" stroke="#b08900" stroke-width="0.9" stroke-linejoin="round" stroke-linecap="round"/>
<path d="M288.5,96.0L282.6,94.6L281.0,95.2" fill="none" stroke="#c2255c" stroke-width="0.9" stroke-linejoin="round" stroke-linecap="round"/>
<path d="M282.7,94.8L279.0,93.7L278.4,90.8L281.6,89.0L285.4,90.1L286.0,93.0Z" fill="none" stroke="#5c6b00" stroke-width="0.9" stroke-linejoin="round" stroke-linecap="round"/>
<path d="M286.0,92.9L294.1,96.2L291.3,96.2" fill="none" stroke="#c9a800" stroke-width="0.9" stroke-linejoin="round" stroke-linecap="round"/>
<path d="M275.3,66.0L272.0,68.1L268.2,66.7L267.8,63.2L271.1,61.0L274.8,62.5Z" fill="none" stroke="#c98a9a" stroke-width="0.9" stroke-linejoin="round" stroke-linecap="round"/>
<path d="M275.4,63.7L282.2,61.1L284.0,58.7" fill="none" stroke="#3b5bdb" stroke-width="0.9" stroke-linejoin="round" stroke-linecap="round"/>
<path d="M283.7,55.4L280.8,57.1L277.8,55.7L277.6,52.5L280.5,50.8L283.5,52.2Z" fill="none" stroke="#087f7f" stroke-width="0.9" stroke-linejoin="round" stroke-linecap="round"/>
<path d="M279.7,56.2L278.0,63.2L281.0,65.3" fill="none" stroke="#e8590c" stroke-width="0.9" stroke-linejoin="round" stroke-linecap="round"/>
<path d="M273.7,54.1L269.6,52.9L269.0,49.7L272.4,47.7L276.5,48.9L277.1,52.1Z" fill="none" stroke="#c9a800" stroke-width="0.9" stroke-linejoin="round" stroke-linecap="round"/>
<path d="M272.5,47.9L271.7,40.3L270.4,39.7" fill="none" stroke="#0b7285" stroke-width="0.9" stroke-linejoin="round" stroke-linecap="round"/>
<path d="M289.3,64.2L286.5,63.8L285.4,61.2L287.2,58.9L290.0,59.3L291.1,61.9Z" fill="none" stroke="#2f9e44" stroke-width="0.9" stroke-linejoin="round" stroke-linecap="round"/>
<path d="M291.0,61.0L297.9,59.0L297.9,58.0" fill="none" stroke="#22b8cf" stroke-width="0.9" stroke-linejoin="round" stroke-linecap="round"/>
<path d="M284.0,75.5L281.3,76.0L279.5,74.2L280.4,71.8L283.1,71.4L284.9,73.2Z" fill="none" stroke="#3b5bdb" stroke-width="0.9" stroke-linejoin="round" stroke-linecap="round"/>
<path d="M284.0,72.3L287.9,67.3L289.6,69.0" fill="none" stroke="#9c8cc0" stroke-width="0.9" stroke-linejoin="round" stroke-linecap="round"/>
<path d="M276.5,88.8L274.5,85.9L276.4,82.9L280.3,82.9L282.2,85.8L280.3,88.8Z" fill="none" stroke="#22b8cf" stroke-width="0.9" stroke-linejoin="round" stroke-linecap="round"/>
<path d="M275.9,87.9L270.9,94.4L269.6,94.4" fill="none" stroke="#8a5a20" stroke-width="0.9" stroke-linejoin="round" stroke-linecap="round"/>
<path d="M260.2,29.7L267.0,34.2L271.5,38.8" fill="none" stroke="#3cb44b" stroke-width="0.9" stroke-linejoin="round" stroke-linecap="round"/>
<path d="M256.4,48.6L262.4,45.6L267.7,48.6" fill="none" stroke="#e6194b" stroke-width="0.9" stroke-linejoin="round" stroke-linecap="round"/>
<path d="M273.8,34.2L276.1,41.8L274.6,46.4" fill="none" stroke="#d01c5c" stroke-width="0.9" stroke-linejoin="round" stroke-linecap="round"/>
<path d="M271.5,72.2L277.6,73.7L282.2,69.9L298.9,69.1" fill="none" stroke="#e0e0e0" stroke-width="0.9" stroke-linejoin="round" stroke-linecap="round"/>
<path d="M283.7,73.7L291.3,71.4L298.9,69.4" fill="none" stroke="#f58231" stroke-width="0.9" stroke-linejoin="round" stroke-linecap="round"/>
<path d="M285.2,94.9L291.3,98.7L297.4,98.0L298.9,94.2L294.3,92.7" fill="none" stroke="#6b8e23" stroke-width="0.9" stroke-linejoin="round" stroke-linecap="round"/>
<path d="M267.0,54.0L268.5,61.5L274.6,63.1" fill="none" stroke="#d4a017" stroke-width="0.9" stroke-linejoin="round" stroke-linecap="round"/>
<path d="M283.7,48.6L291.3,48.6L294.3,53.2L292.8,58.5" fill="none" stroke="#42d4f4" stroke-width="0.9" stroke-linejoin="round" stroke-linecap="round"/>
<path d="M273.1,84.3L274.6,91.9L279.1,94.9" fill="none" stroke="#3cb44b" stroke-width="0.9" stroke-linejoin="round" stroke-linecap="round"/>
<path d="M260.9,54.7L264.0,51.7" fill="none" stroke="#9ad0d0" stroke-width="0.9" stroke-linejoin="round" stroke-linecap="round"/>
</g>
<rect x="229.2" y="19.2" width="97.2" height="94.2" fill="none" stroke="#000" stroke-width="1.3"/>
<text x="280" y="126.6" font-size="11" font-weight="bold" text-anchor="middle" fill="#000" >1.2 million molecules</text>
<text x="280" y="139.7" font-size="11" font-weight="bold" text-anchor="middle"><tspan font-style="italic">in silico</tspan> screening</text>
<path d="M330,66.3H334.59999999999997" stroke="#000" stroke-width="1.5"/><path d="M341.2,66.3L333.59999999999997,62.199999999999996V70.39999999999999Z" fill="#000"/>
<rect x="344.8" y="22" width="150.8" height="79.4" fill="#fff" stroke="#000" stroke-width="1.3"/>
<text x="418.2" y="36.7" font-size="8.2" font-weight="normal" text-anchor="middle" fill="#000" >Visual Inspection</text>
<text x="418.2" y="56.5" font-size="8.2" font-weight="normal" text-anchor="middle" fill="#000" >Mitochondrial Gln Transport Screening</text>
<text x="418.2" y="76.1" font-size="8.2" font-weight="normal" text-anchor="middle" fill="#000" >Protein Interaction Inhibition Assay</text>
<text x="418.2" y="95.8" font-size="8.2" font-weight="normal" text-anchor="middle" fill="#000" >Metabolic Effect Assays</text>
<path d="M422.4,107V112.39999999999999" stroke="#000" stroke-width="1.5"/><path d="M422.4,118.8L418.5,111.39999999999999H426.29999999999995Z" fill="#000"/>
<text x="427.2" y="137" font-size="11" font-weight="bold" text-anchor="middle" fill="#000" >iMQT_020 Discovery</text>
<text x="514.5" y="12.3" font-size="16" font-weight="bold" text-anchor="start" fill="#000" >B</text>
<rect x="520.4" y="21.6" width="91" height="88.6" fill="#fff" stroke="#000" stroke-width="1.3"/>
<g filter="url(#bump)">
<path d="M524.1,94.2C524.4,92.9 527.1,91.7 528.7,90.4C530.2,89.1 531.7,87.1 533.2,86.6C534.7,86.1 537.4,86.0 537.8,87.4C538.2,88.7 536.5,93.0 535.5,94.9C534.5,96.8 533.1,98.2 531.7,98.7C530.3,99.2 528.4,98.7 527.1,98.0C525.9,97.2 523.9,95.4 524.1,94.2Z" fill="#ee82ee" opacity="0.85"/>
<path d="M547.6,27.4C548.5,26.6 550.7,26.2 552.2,26.6C553.7,27.0 555.5,29.8 556.7,29.7C558.0,29.5 558.5,26.6 559.8,25.9C561.1,25.1 563.3,24.2 564.3,25.1C565.4,26.0 565.4,29.2 565.9,31.2C566.4,33.2 566.4,35.4 567.4,37.3C568.4,39.2 570.7,40.7 571.9,42.6C573.2,44.5 574.2,46.7 575.0,48.6C575.7,50.5 575.7,52.6 576.5,54.0C577.2,55.3 579.0,55.7 579.5,57.0C580.0,58.3 580.2,60.5 579.5,61.5C578.9,62.6 578.1,61.2 575.7,63.1C573.3,65.0 568.9,72.2 565.1,72.9C561.3,73.7 555.9,69.0 553.0,67.6C550.0,66.2 549.2,65.6 547.6,64.6C546.1,63.6 544.0,62.8 543.8,61.5C543.7,60.3 545.2,58.3 546.9,57.0C548.5,55.7 551.7,55.1 553.7,54.0C555.7,52.8 558.4,51.7 559.0,50.2C559.7,48.6 558.5,46.5 557.5,44.8C556.5,43.2 554.3,41.8 553.0,40.3C551.6,38.8 550.2,37.3 549.2,35.7C548.1,34.2 547.1,32.6 546.9,31.2C546.6,29.8 546.8,28.1 547.6,27.4Z" fill="#19f2f2"/>
<path d="M565.1,72.9C567.1,69.3 575.2,62.7 578.0,60.8C580.8,58.9 580.8,60.4 581.8,61.5C582.8,62.7 583.8,65.6 584.1,67.6C584.3,69.6 582.9,71.9 583.3,73.7C583.7,75.5 585.1,77.2 586.4,78.2C587.6,79.3 589.1,80.0 590.9,79.8C592.7,79.5 595.0,77.1 597.0,76.7C599.0,76.3 601.3,76.9 603.1,77.5C604.8,78.1 606.7,79.3 607.6,80.5C608.5,81.8 608.9,83.8 608.4,85.1C607.9,86.3 606.5,87.4 604.6,88.1C602.7,88.9 599.8,89.1 597.0,89.6C594.2,90.1 593.1,90.9 587.9,91.1C582.7,91.4 569.5,92.5 565.9,91.1C562.2,89.8 566.0,85.8 565.9,82.8C565.7,79.8 563.1,76.6 565.1,72.9Z" fill="#0fe60f"/>
<path d="M541.6,66.9C543.2,65.1 545.7,64.5 547.6,64.6C549.5,64.7 550.0,66.2 553.0,67.6C555.9,69.0 562.9,70.4 565.1,72.9C567.2,75.5 565.7,79.8 565.9,82.8C566.0,85.8 569.8,89.8 565.9,91.1C561.9,92.5 546.8,90.3 542.3,91.1C537.9,92.0 540.0,94.6 539.3,96.5C538.5,98.4 538.5,100.9 537.8,102.5C537.0,104.2 536.0,105.9 534.7,106.3C533.5,106.7 530.7,105.8 530.2,104.8C529.7,103.8 530.8,101.9 531.7,100.3C532.6,98.6 534.5,97.1 535.5,94.9C536.5,92.8 537.8,89.6 537.8,87.4C537.8,85.1 535.5,83.3 535.5,81.3C535.5,79.3 536.8,77.6 537.8,75.2C538.8,72.8 539.9,68.6 541.6,66.9Z" fill="#e10fe1"/>
</g>
<rect x="541" y="90.8" width="128" height="127.6" fill="#fff" stroke="#000" stroke-width="1.3"/>
<path d="M575.2,122.2L578.1,138.9" stroke="#e8d800" stroke-width="0.8" stroke-dasharray="1.3,0.9" fill="none"/>
<path d="M586.9,127.1L578.1,138.9" stroke="#e8d800" stroke-width="0.8" stroke-dasharray="1.3,0.9" fill="none"/>
<path d="M616.2,132.0L616.2,141.8" stroke="#e8d800" stroke-width="0.8" stroke-dasharray="1.3,0.9" fill="none"/>
<path d="M622.1,140.8L626.0,152.6" stroke="#e8d800" stroke-width="0.8" stroke-dasharray="1.3,0.9" fill="none"/>
<path d="M582.0,175.1L596.7,175.1" stroke="#e8d800" stroke-width="0.8" stroke-dasharray="1.3,0.9" fill="none"/>
<path d="M582.0,175.4L596.7,170.2" stroke="#e8d800" stroke-width="0.8" stroke-dasharray="1.3,0.9" fill="none"/>
<path d="M584.9,183.9L596.7,176.0" stroke="#e8d800" stroke-width="0.8" stroke-dasharray="1.3,0.9" fill="none"/>
<path d="M600.6,174.1L610.4,178.0" stroke="#e8d800" stroke-width="0.8" stroke-dasharray="1.3,0.9" fill="none"/>
<path d="M549.7,117.3L559.5,119.3L575.2,120.3L584.9,123.2L590.8,127.1L596.7,134.0L606.5,130.1L618.2,128.1L624.1,134.9L616.2,142.8" fill="none" stroke="#2fd8d8" stroke-width="2.2" stroke-linejoin="round" stroke-linecap="round"/>
<path d="M606.5,130.1L609.4,119.3L614.3,114.4" fill="none" stroke="#2fd8d8" stroke-width="2.2" stroke-linejoin="round" stroke-linecap="round"/>
<path d="M609.4,119.3L600.6,113.4" fill="none" stroke="#2fd8d8" stroke-width="2.2" stroke-linejoin="round" stroke-linecap="round"/>
<path d="M584.9,123.2L582.0,117.3" fill="none" stroke="#2fd8d8" stroke-width="2.2" stroke-linejoin="round" stroke-linecap="round"/>
<path d="M590.8,127.1L598.6,122.2" fill="none" stroke="#2fd8d8" stroke-width="2.2" stroke-linejoin="round" stroke-linecap="round"/>
<path d="M596.7,134.0L586.9,133.0L580.1,137.9" fill="none" stroke="#2fd8d8" stroke-width="2.2" stroke-linejoin="round" stroke-linecap="round"/>
<path d="M598.6,128.1L600.6,123.2" fill="none" stroke="#2fd8d8" stroke-width="2.2" stroke-linejoin="round" stroke-linecap="round"/>
<path d="M574.2,139.8L569.3,148.6L577.1,158.4L580.1,166.2L578.1,174.1L580.1,181.9L585.9,189.7L589.8,199.5L592.8,207.3" fill="none" stroke="#e02fb4" stroke-width="2.2" stroke-linejoin="round" stroke-linecap="round"/>
<path d="M577.1,158.4L563.4,156.5L556.6,155.5" fill="none" stroke="#e02fb4" stroke-width="2.2" stroke-linejoin="round" stroke-linecap="round"/>
<path d="M563.4,156.5L563.4,166.2" fill="none" stroke="#e02fb4" stroke-width="2.2" stroke-linejoin="round" stroke-linecap="round"/>
<path d="M580.1,166.2L588.9,168.2L592.8,164.3" fill="none" stroke="#e02fb4" stroke-width="2.2" stroke-linejoin="round" stroke-linecap="round"/>
<path d="M580.1,166.2L573.2,163.3" fill="none" stroke="#e02fb4" stroke-width="2.2" stroke-linejoin="round" stroke-linecap="round"/>
<path d="M578.1,174.1L574.2,179.9" fill="none" stroke="#e02fb4" stroke-width="2.2" stroke-linejoin="round" stroke-linecap="round"/>
<path d="M599.6,178.0L610.4,179.0L613.3,170.2L616.2,162.3L614.3,154.5L624.1,156.5L633.9,154.5L639.7,144.7L646.6,134.9L651.5,128.1" fill="none" stroke="#3fdc3f" stroke-width="2.2" stroke-linejoin="round" stroke-linecap="round"/>
<path d="M613.3,170.2L622.1,174.1L629.9,172.1" fill="none" stroke="#3fdc3f" stroke-width="2.2" stroke-linejoin="round" stroke-linecap="round"/>
<path d="M622.1,174.1L623.1,183.9" fill="none" stroke="#3fdc3f" stroke-width="2.2" stroke-linejoin="round" stroke-linecap="round"/>
<path d="M616.2,162.3L622.1,166.2" fill="none" stroke="#3fdc3f" stroke-width="2.2" stroke-linejoin="round" stroke-linecap="round"/>
<path d="M614.3,154.5L616.2,146.7L610.4,146.7" fill="none" stroke="#3fdc3f" stroke-width="2.2" stroke-linejoin="round" stroke-linecap="round"/>
<path d="M624.1,156.5L627.0,152.6" fill="none" stroke="#3fdc3f" stroke-width="2.2" stroke-linejoin="round" stroke-linecap="round"/>
<path d="M571.3,137.9L584.0,140.8" fill="none" stroke="#e010a8" stroke-width="3.8" stroke-linejoin="round" stroke-linecap="round"/>
<path d="M596.7,170.2L599.6,180.9" fill="none" stroke="#18c818" stroke-width="3.8" stroke-linejoin="round" stroke-linecap="round"/>
<path d="M549.7,117.3L552.7,117.7" fill="none" stroke="#2a3fd8" stroke-width="2.2" stroke-linejoin="round" stroke-linecap="round"/>
<path d="M582.0,117.3L583.4,119.7" fill="none" stroke="#2a3fd8" stroke-width="2.2" stroke-linejoin="round" stroke-linecap="round"/>
<path d="M598.6,122.2L600.6,124.2" fill="none" stroke="#2a3fd8" stroke-width="2.2" stroke-linejoin="round" stroke-linecap="round"/>
<path d="M600.6,113.4L603.5,115.0" fill="none" stroke="#2a3fd8" stroke-width="2.2" stroke-linejoin="round" stroke-linecap="round"/>
<path d="M618.2,128.1L619.8,129.7" fill="none" stroke="#2a3fd8" stroke-width="2.2" stroke-linejoin="round" stroke-linecap="round"/>
<path d="M569.3,148.6L570.9,150.6" fill="none" stroke="#2a3fd8" stroke-width="2.2" stroke-linejoin="round" stroke-linecap="round"/>
<path d="M580.1,162.3L581.4,164.7" fill="none" stroke="#2a3fd8" stroke-width="2.2" stroke-linejoin="round" stroke-linecap="round"/>
<path d="M573.2,163.3L576.1,163.9" fill="none" stroke="#2a3fd8" stroke-width="2.2" stroke-linejoin="round" stroke-linecap="round"/>
<path d="M563.4,166.2L563.6,168.2" fill="none" stroke="#2a3fd8" stroke-width="2.2" stroke-linejoin="round" stroke-linecap="round"/>
<path d="M592.8,207.3L591.8,205.4" fill="none" stroke="#2a3fd8" stroke-width="2.2" stroke-linejoin="round" stroke-linecap="round"/>
<path d="M613.3,166.2L613.9,168.6" fill="none" stroke="#2a3fd8" stroke-width="2.2" stroke-linejoin="round" stroke-linecap="round"/>
<path d="M622.1,166.2L621.1,164.7" fill="none" stroke="#2a3fd8" stroke-width="2.2" stroke-linejoin="round" stroke-linecap="round"/>
<path d="M629.9,172.1L628.4,172.5" fill="none" stroke="#2a3fd8" stroke-width="2.2" stroke-linejoin="round" stroke-linecap="round"/>
<path d="M651.5,128.1L650.3,129.9" fill="none" stroke="#2a3fd8" stroke-width="2.2" stroke-linejoin="round" stroke-linecap="round"/>
<path d="M610.4,179.0L611.9,180.3" fill="none" stroke="#2a3fd8" stroke-width="2.2" stroke-linejoin="round" stroke-linecap="round"/>
<path d="M627.0,152.6L628.4,154.1" fill="none" stroke="#2a3fd8" stroke-width="2.2" stroke-linejoin="round" stroke-linecap="round"/>
<path d="M588.5,125.6L589.6,126.7" fill="none" stroke="#e03030" stroke-width="2.0" stroke-linejoin="round" stroke-linecap="round"/>
<path d="M606.5,129.1L607.6,129.9" fill="none" stroke="#e03030" stroke-width="2.0" stroke-linejoin="round" stroke-linecap="round"/>
<path d="M626.0,154.1L628.0,155.3" fill="none" stroke="#e03030" stroke-width="2.0" stroke-linejoin="round" stroke-linecap="round"/>
<path d="M615.3,168.2L616.2,169.4" fill="none" stroke="#e03030" stroke-width="2.0" stroke-linejoin="round" stroke-linecap="round"/>
<text x="553.6" y="111.5" font-size="6.6" font-weight="normal" text-anchor="start" fill="#111" >K102</text>
<text x="585.5" y="120.9" font-size="6.6" font-weight="normal" text-anchor="start" fill="#111" >G101</text>
<text x="615.3" y="111.1" font-size="6.6" font-weight="normal" text-anchor="start" fill="#111" >I104</text>
<text x="555.2" y="137.9" font-size="6.6" font-weight="normal" text-anchor="start" fill="#111" >F97</text>
<text x="593.8" y="142.4" font-size="6.6" font-weight="normal" text-anchor="start" fill="#111" >L105</text>
<text x="627.6" y="133.0" font-size="6.6" font-weight="normal" text-anchor="start" fill="#111" >F97</text>
<text x="646.6" y="144.7" font-size="6.6" font-weight="normal" text-anchor="start" fill="#111" >K102</text>
<text x="619.2" y="148.6" font-size="6.6" font-weight="normal" text-anchor="start" fill="#111" >L105</text>
<text x="588.5" y="160.0" font-size="6.6" font-weight="normal" text-anchor="start" fill="#111" >L105</text>
<text x="542.9" y="163.9" font-size="6.6" font-weight="normal" text-anchor="start" fill="#111" >I104</text>
<text x="558.1" y="175.4" font-size="6.6" font-weight="normal" text-anchor="start" fill="#111" >G101</text>
<text x="625.1" y="168.8" font-size="6.6" font-weight="normal" text-anchor="start" fill="#111" >G101</text>
<text x="629.0" y="185.2" font-size="6.6" font-weight="normal" text-anchor="start" fill="#111" >I104</text>
<text x="597.1" y="193.6" font-size="6.6" font-weight="normal" text-anchor="start" fill="#111" >F97</text>
<text x="565.4" y="208.7" font-size="6.6" font-weight="normal" text-anchor="start" fill="#111" >K102</text>
<rect x="520.4" y="21.6" width="91" height="88.6" fill="none" stroke="#000" stroke-width="1.1"/>
<rect x="541" y="90.8" width="128" height="127.6" fill="none" stroke="#000" stroke-width="1.3"/>
<rect x="552.3" y="57.6" width="27" height="24.4" fill="none" stroke="#000" stroke-width="1.8"/>
<path d="M579,57.5L669,90.6" stroke="#000" stroke-width="1.5" stroke-dasharray="5.5,3"/>
<path d="M552,60L541,90.5" stroke="#000" stroke-width="1.5" stroke-dasharray="5.5,3"/>
<text x="1.5" y="174.3" font-size="16" font-weight="bold" text-anchor="start" fill="#000" >C</text>
<rect x="53.2" y="190" width="99.8" height="184.3" fill="#fff" stroke="#000" stroke-width="2"/>
<path d="M47.80,196.70L53.00,196.70" stroke="#000" stroke-width="1.8" fill="none" />
<text x="46" y="199.29999999999998" font-size="7" font-weight="normal" text-anchor="end" fill="#222" >200</text>
<path d="M47.80,238.10L53.00,238.10" stroke="#000" stroke-width="1.8" fill="none" />
<text x="46" y="240.7" font-size="7" font-weight="normal" text-anchor="end" fill="#222" >150</text>
<path d="M47.80,279.30L53.00,279.30" stroke="#000" stroke-width="1.8" fill="none" />
<text x="46" y="281.90000000000003" font-size="7" font-weight="normal" text-anchor="end" fill="#222" >100</text>
<path d="M47.80,320.50L53.00,320.50" stroke="#000" stroke-width="1.8" fill="none" />
<text x="46" y="323.1" font-size="7" font-weight="normal" text-anchor="end" fill="#222" >50</text>
<path d="M47.80,361.70L53.00,361.70" stroke="#000" stroke-width="1.8" fill="none" />
<text x="46" y="364.3" font-size="7" font-weight="normal" text-anchor="end" fill="#222" >0</text>
<text transform="translate(26.8,280.3) rotate(-90)" font-size="11" font-weight="bold" text-anchor="middle" fill="#000">Mitochondrial Glutamine Uptake (%)</text>
<path d="M59.20,279.30L153.00,279.30" stroke="#000" stroke-width="1.5" fill="none" stroke-dasharray="1.5,3.8"/>
<circle cx="64.6" cy="281.0" r="2.1"/>
<circle cx="66.2" cy="281.9" r="2.1"/>
<circle cx="68.6" cy="283.9" r="2.1"/>
<circle cx="69.1" cy="294.0" r="2.1"/>
<circle cx="70.3" cy="295.4" r="2.1"/>
<circle cx="67.4" cy="303.1" r="2.1"/>
<circle cx="71.1" cy="303.6" r="2.1"/>
<circle cx="67.0" cy="307.5" r="2.1"/>
<circle cx="72.3" cy="308.0" r="2.1"/>
<circle cx="74.7" cy="306.8" r="2.1"/>
<circle cx="76.6" cy="297.1" r="2.1"/>
<circle cx="78.3" cy="299.5" r="2.1"/>
<circle cx="72.3" cy="311.6" r="2.1"/>
<circle cx="72.7" cy="315.2" r="2.1"/>
<circle cx="77.1" cy="320.5" r="2.1"/>
<circle cx="78.3" cy="308.0" r="2.1"/>
<circle cx="80.0" cy="329.2" r="2.1"/>
<circle cx="80.2" cy="312.8" r="2.1"/>
<circle cx="81.9" cy="304.8" r="2.1"/>
<circle cx="83.1" cy="314.0" r="2.1"/>
<circle cx="83.8" cy="316.9" r="2.1"/>
<circle cx="83.6" cy="296.4" r="2.1"/>
<circle cx="84.8" cy="301.5" r="2.1"/>
<circle cx="85.5" cy="306.8" r="2.1"/>
<circle cx="87.4" cy="245.3" r="2.1"/>
<circle cx="87.9" cy="314.5" r="2.1"/>
<circle cx="89.1" cy="305.5" r="2.1"/>
<circle cx="90.3" cy="306.3" r="2.1"/>
<circle cx="91.5" cy="299.5" r="2.1"/>
<circle cx="92.7" cy="273.0" r="2.1"/>
<circle cx="93.9" cy="292.3" r="2.1"/>
<circle cx="94.7" cy="281.5" r="2.1"/>
<circle cx="95.9" cy="278.6" r="2.1"/>
<circle cx="96.4" cy="315.7" r="2.1"/>
<circle cx="97.6" cy="287.5" r="2.1"/>
<circle cx="98.3" cy="294.7" r="2.1"/>
<circle cx="100.0" cy="295.4" r="2.1"/>
<circle cx="100.7" cy="290.6" r="2.1"/>
<circle cx="101.2" cy="287.5" r="2.1"/>
<circle cx="102.4" cy="297.1" r="2.1"/>
<circle cx="102.9" cy="286.3" r="2.1"/>
<circle cx="103.6" cy="304.8" r="2.1"/>
<circle cx="104.1" cy="320.5" r="2.1"/>
<circle cx="104.8" cy="299.5" r="2.1"/>
<circle cx="106.5" cy="327.7" r="2.1"/>
<circle cx="107.2" cy="300.7" r="2.1"/>
<circle cx="108.4" cy="255.7" r="2.1"/>
<circle cx="108.9" cy="291.1" r="2.1"/>
<circle cx="110.3" cy="310.4" r="2.1"/>
<circle cx="110.8" cy="284.6" r="2.1"/>
<circle cx="111.3" cy="256.7" r="2.1"/>
<circle cx="112.2" cy="285.8" r="2.1"/>
<circle cx="113.2" cy="293.5" r="2.1"/>
<circle cx="113.7" cy="287.0" r="2.1"/>
<circle cx="114.4" cy="273.8" r="2.1"/>
<circle cx="114.9" cy="313.5" r="2.1"/>
<circle cx="115.6" cy="291.1" r="2.1"/>
<circle cx="116.8" cy="275.4" r="2.1"/>
<circle cx="117.3" cy="297.6" r="2.1"/>
<circle cx="118.0" cy="306.3" r="2.1"/>
<circle cx="118.5" cy="310.4" r="2.1"/>
<circle cx="119.2" cy="273.0" r="2.1"/>
<circle cx="119.7" cy="248.5" r="2.1"/>
<circle cx="121.2" cy="259.1" r="2.1"/>
<circle cx="122.1" cy="250.9" r="2.1"/>
<circle cx="123.3" cy="253.8" r="2.1"/>
<circle cx="123.3" cy="234.5" r="2.1"/>
<circle cx="124.5" cy="269.4" r="2.1"/>
<circle cx="125.3" cy="253.8" r="2.1"/>
<circle cx="125.7" cy="219.6" r="2.1"/>
<circle cx="126.7" cy="208.2" r="2.1"/>
<circle cx="127.2" cy="253.3" r="2.1"/>
<circle cx="128.1" cy="219.6" r="2.1"/>
<circle cx="128.9" cy="292.3" r="2.1"/>
<circle cx="130.6" cy="260.5" r="2.1"/>
<circle cx="131.3" cy="293.5" r="2.1"/>
<circle cx="132.5" cy="288.2" r="2.1"/>
<circle cx="133.2" cy="227.7" r="2.1"/>
<circle cx="133.7" cy="308.7" r="2.1"/>
<circle cx="134.9" cy="238.6" r="2.1"/>
<circle cx="135.6" cy="302.4" r="2.1"/>
<circle cx="136.3" cy="321.7" r="2.1"/>
<circle cx="136.8" cy="297.1" r="2.1"/>
<circle cx="137.8" cy="287.0" r="2.1"/>
<circle cx="139.0" cy="255.0" r="2.1"/>
<circle cx="139.7" cy="244.8" r="2.1"/>
<circle cx="140.4" cy="265.1" r="2.1"/>
<circle cx="140.9" cy="252.1" r="2.1"/>
<circle cx="142.1" cy="244.8" r="2.1"/>
<circle cx="142.6" cy="232.8" r="2.1"/>
<circle cx="143.8" cy="238.8" r="2.1"/>
<circle cx="144.5" cy="233.8" r="2.1"/>
<circle cx="144.8" cy="250.4" r="2.1"/>
<circle cx="130.1" cy="332.5" r="3.1" fill="#ff1010"/>
<text x="117.2" y="347.8" font-size="8" font-weight="bold" text-anchor="middle" fill="#000" >iMQT_020</text>
<text x="146.3" y="369.5" font-size="7.8" font-weight="bold" text-anchor="end" fill="#000" >n = 103</text>
<text x="170.5" y="174.3" font-size="16" font-weight="bold" text-anchor="start" fill="#000" >D</text>
<text x="231.3" y="203.5" font-size="11" font-weight="bold" text-anchor="middle" fill="#000" >iMQT_020</text>
<path d="M199.95,250.44L211.83,250.44" stroke="#111" stroke-width="0.95" fill="none" stroke-linecap="round"/>
<path d="M218.43,254.42L224.41,265.73" stroke="#111" stroke-width="0.95" fill="none" stroke-linecap="round"/>
<path d="M224.41,265.73L216.33,281.02" stroke="#111" stroke-width="0.95" fill="none" stroke-linecap="round"/>
<path d="M216.33,281.02L199.95,281.02" stroke="#111" stroke-width="0.95" fill="none" stroke-linecap="round"/>
<path d="M199.95,281.02L193.97,269.71" stroke="#111" stroke-width="0.95" fill="none" stroke-linecap="round"/>
<path d="M193.97,261.75L199.95,250.44" stroke="#111" stroke-width="0.95" fill="none" stroke-linecap="round"/>
<path d="M200.98,249.83L195.46,240.58" stroke="#111" stroke-width="0.95" fill="none" />
<path d="M198.91,251.06L193.40,241.81" stroke="#111" stroke-width="0.95" fill="none" />
<path d="M198.91,280.41L193.36,289.86" stroke="#111" stroke-width="0.95" fill="none" />
<path d="M200.98,281.63L195.43,291.08" stroke="#111" stroke-width="0.95" fill="none" />
<path d="M224.41,265.73L241.88,265.73" stroke="#111" stroke-width="0.95" fill="none" stroke-linecap="round"/>
<path d="M241.88,265.73L250.62,281.02" stroke="#111" stroke-width="0.95" fill="none" stroke-linecap="round"/>
<path d="M250.62,281.02L241.88,296.31" stroke="#111" stroke-width="0.95" fill="none" stroke-linecap="round"/>
<path d="M241.88,296.31L224.41,296.31" stroke="#111" stroke-width="0.95" fill="none" stroke-linecap="round"/>
<path d="M224.41,296.31L216.33,281.02" stroke="#111" stroke-width="0.95" fill="none" stroke-linecap="round"/>
<path d="M226.85,268.33L239.43,268.33" stroke="#111" stroke-width="0.95" fill="none" stroke-linecap="round"/>
<path d="M247.15,281.85L240.86,292.86" stroke="#111" stroke-width="0.95" fill="none" stroke-linecap="round"/>
<path d="M225.51,292.83L219.69,281.83" stroke="#111" stroke-width="0.95" fill="none" stroke-linecap="round"/>
<path d="M241.88,296.31L250.62,311.16" stroke="#111" stroke-width="0.95" fill="none" stroke-linecap="round"/>
<path d="M250.62,311.16L267.21,311.16" stroke="#111" stroke-width="0.95" fill="none" stroke-linecap="round"/>
<path d="M267.21,311.16L275.73,325.79" stroke="#111" stroke-width="0.95" fill="none" stroke-linecap="round"/>
<path d="M275.73,325.79L267.21,340.65" stroke="#111" stroke-width="0.95" fill="none" stroke-linecap="round"/>
<path d="M267.21,340.65L250.62,340.65" stroke="#111" stroke-width="0.95" fill="none" stroke-linecap="round"/>
<path d="M250.62,340.65L241.88,325.79" stroke="#111" stroke-width="0.95" fill="none" stroke-linecap="round"/>
<path d="M241.88,325.79L250.62,311.16" stroke="#111" stroke-width="0.95" fill="none" stroke-linecap="round"/>
<path d="M251.64,314.51L245.35,325.05" stroke="#111" stroke-width="0.95" fill="none" stroke-linecap="round"/>
<path d="M266.16,314.52L272.29,325.05" stroke="#111" stroke-width="0.95" fill="none" stroke-linecap="round"/>
<path d="M264.89,338.05L252.94,338.05" stroke="#111" stroke-width="0.95" fill="none" stroke-linecap="round"/>
<path d="M267.21,311.16L272.44,302.17" stroke="#111" stroke-width="0.95" fill="none" stroke-linecap="round"/>
<path d="M250.62,340.65L244.92,350.71" stroke="#111" stroke-width="0.95" fill="none" stroke-linecap="round"/>
<path d="M267.21,340.65L272.44,349.63" stroke="#111" stroke-width="0.95" fill="none" stroke-linecap="round"/>
<text x="190.8" y="239.5" font-size="11" font-weight="normal" text-anchor="middle" fill="#111" >O</text>
<text x="190.8" y="299.4" font-size="11" font-weight="normal" text-anchor="middle" fill="#111" >O</text>
<text x="220.5" y="255.0" font-size="11" font-weight="normal" text-anchor="middle" fill="#111" >NH</text>
<text x="186.8" y="270.1" font-size="11" font-weight="normal" text-anchor="middle" fill="#111" >HN</text>
<text x="275.7" y="299.4" font-size="11" font-weight="normal" text-anchor="middle" fill="#111" >F</text>
<text x="237.1" y="360.3" font-size="11" font-weight="normal" text-anchor="middle" fill="#111" >Cl</text>
<text x="280.1" y="360.3" font-size="11" font-weight="normal" text-anchor="middle" fill="#111" >OH</text>
<text x="303" y="174.3" font-size="16" font-weight="bold" text-anchor="start" fill="#000" >E</text>
<clipPath id="ce1"><path d="M339.6,198.9C341.3,198.0 344.7,198.0 346.2,198.9C347.8,199.9 347.2,204.1 349.1,204.6C351.0,205.1 354.0,201.6 357.6,201.8C361.3,201.9 367.4,204.4 370.9,205.5C374.4,206.7 377.2,205.9 378.5,208.4C379.8,210.9 378.2,217.4 378.5,220.7C378.8,224.1 379.9,225.2 380.4,228.3C380.9,231.5 380.4,237.5 381.4,239.7C382.3,241.9 384.2,240.0 386.1,241.6C388.0,243.2 391.5,246.7 392.7,249.2C394.0,251.7 394.5,253.9 393.7,256.8C392.9,259.6 389.6,263.8 388.0,266.3C386.4,268.8 384.5,269.4 384.2,272.0C383.9,274.5 385.5,278.3 386.1,281.5C386.7,284.6 388.3,288.1 388.0,291.0C387.7,293.8 384.5,296.0 384.2,298.5C383.9,301.1 386.3,303.6 386.1,306.1C385.9,308.7 385.1,312.1 383.3,313.7C381.4,315.3 377.7,314.8 374.7,315.6C371.7,316.4 367.6,318.6 365.2,318.5C362.8,318.3 361.1,316.4 360.5,314.7C359.8,312.9 362.2,309.5 361.4,308.0C360.6,306.6 357.0,305.8 355.7,306.1C354.5,306.5 353.5,308.7 353.8,309.9C354.2,311.2 357.3,312.1 357.6,313.7C357.9,315.3 357.3,317.5 355.7,319.4C354.2,321.3 350.2,323.2 348.1,325.1C346.1,327.0 345.5,328.4 343.4,330.8C341.3,333.2 337.9,338.4 335.8,339.4C333.7,340.3 332.8,338.1 331.1,336.5C329.3,334.9 327.4,331.8 325.4,329.9C323.3,328.0 319.5,327.5 318.7,325.1C317.9,322.7 319.8,318.8 320.6,315.6C321.4,312.5 322.5,309.0 323.5,306.1C324.4,303.3 326.9,300.4 326.3,298.5C325.7,296.6 321.7,296.3 319.7,294.8C317.6,293.2 316.7,291.4 314.0,289.1C311.3,286.7 304.5,283.4 303.5,280.5C302.6,277.7 306.9,275.0 308.3,272.0C309.7,269.0 310.8,266.0 312.1,262.5C313.3,259.0 314.3,254.9 315.9,251.1C317.5,247.3 320.3,243.5 321.6,239.7C322.8,235.9 322.5,231.8 323.5,228.3C324.4,224.8 325.8,221.7 327.3,218.8C328.7,216.0 330.6,213.6 332.0,211.2C333.4,208.9 334.5,206.7 335.8,204.6C337.1,202.5 337.9,199.9 339.6,198.9Z"/></clipPath>
<g filter="url(#bumpE)">
<g clip-path="url(#ce1)"><rect x="295" y="190" width="115" height="160" fill="#f2f0f4"/>
<g filter="url(#blur2)">
<ellipse cx="368.1" cy="212.2" rx="15.7" ry="14.4" fill="#f01414" opacity="1"/>
<ellipse cx="374.7" cy="216.9" rx="7.9" ry="10.5" fill="#f01414" opacity="1"/>
<ellipse cx="338.7" cy="259.6" rx="11.8" ry="11.8" fill="#f01414" opacity="1"/>
<ellipse cx="386.1" cy="255.8" rx="10.5" ry="17.0" fill="#f01414" opacity="1"/>
<ellipse cx="346.2" cy="291.0" rx="15.7" ry="7.9" fill="#f01414" opacity="1"/>
<ellipse cx="371.9" cy="296.6" rx="9.2" ry="7.9" fill="#f01414" opacity="1"/>
<ellipse cx="350.0" cy="315.6" rx="9.2" ry="9.2" fill="#f01414" opacity="1"/>
<ellipse cx="330.1" cy="302.3" rx="7.9" ry="5.8" fill="#f01414" opacity="1"/>
<ellipse cx="363.3" cy="315.6" rx="5.2" ry="4.7" fill="#f01414" opacity="1"/>
<ellipse cx="333.9" cy="336.5" rx="3.9" ry="3.1" fill="#f01414" opacity="1"/>
<ellipse cx="335.8" cy="217.9" rx="7.3" ry="6.5" fill="#1414e6" opacity="1"/>
<ellipse cx="356.7" cy="241.6" rx="10.0" ry="11.0" fill="#1414e6" opacity="1"/>
<ellipse cx="315.9" cy="283.4" rx="17.0" ry="11.8" fill="#1414e6" opacity="1"/>
<ellipse cx="357.6" cy="284.3" rx="9.2" ry="10.5" fill="#1414e6" opacity="1"/>
<ellipse cx="365.2" cy="305.2" rx="17.0" ry="7.9" fill="#1414e6" opacity="1"/>
<ellipse cx="351.9" cy="300.4" rx="7.9" ry="5.2" fill="#1414e6" opacity="1"/>
<ellipse cx="388.0" cy="245.4" rx="3.9" ry="5.2" fill="#8f8fe8" opacity="1"/>
<ellipse cx="323.5" cy="309.9" rx="6.5" ry="7.9" fill="#8f8fe8" opacity="1"/>
<ellipse cx="376.6" cy="309.9" rx="6.5" ry="6.5" fill="#8f8fe8" opacity="1"/>
<ellipse cx="351.9" cy="230.2" rx="13.1" ry="7.9" fill="#8f8fe8" opacity="0.6"/>
<ellipse cx="333.0" cy="323.2" rx="10.5" ry="10.5" fill="#8f8fe8" opacity="0.5"/>
<ellipse cx="325.4" cy="241.6" rx="7.9" ry="15.7" fill="#f0a0a0" opacity="0.4"/>
<ellipse cx="374.7" cy="275.8" rx="10.5" ry="13.1" fill="#f0a0a0" opacity="0.6"/>
<ellipse cx="319.7" cy="266.3" rx="7.9" ry="10.5" fill="#f0a0a0" opacity="0.5"/>
<ellipse cx="351.9" cy="215.0" rx="10.5" ry="7.9" fill="#f0a0a0" opacity="0.6"/>
<ellipse cx="338.7" cy="275.8" rx="10.5" ry="6.5" fill="#fff" opacity="0.8"/>
<ellipse cx="370.9" cy="258.7" rx="7.9" ry="10.5" fill="#fff" opacity="0.6"/>
</g></g>
<path d="M339.6,198.9C341.3,198.0 344.7,198.0 346.2,198.9C347.8,199.9 347.2,204.1 349.1,204.6C351.0,205.1 354.0,201.6 357.6,201.8C361.3,201.9 367.4,204.4 370.9,205.5C374.4,206.7 377.2,205.9 378.5,208.4C379.8,210.9 378.2,217.4 378.5,220.7C378.8,224.1 379.9,225.2 380.4,228.3C380.9,231.5 380.4,237.5 381.4,239.7C382.3,241.9 384.2,240.0 386.1,241.6C388.0,243.2 391.5,246.7 392.7,249.2C394.0,251.7 394.5,253.9 393.7,256.8C392.9,259.6 389.6,263.8 388.0,266.3C386.4,268.8 384.5,269.4 384.2,272.0C383.9,274.5 385.5,278.3 386.1,281.5C386.7,284.6 388.3,288.1 388.0,291.0C387.7,293.8 384.5,296.0 384.2,298.5C383.9,301.1 386.3,303.6 386.1,306.1C385.9,308.7 385.1,312.1 383.3,313.7C381.4,315.3 377.7,314.8 374.7,315.6C371.7,316.4 367.6,318.6 365.2,318.5C362.8,318.3 361.1,316.4 360.5,314.7C359.8,312.9 362.2,309.5 361.4,308.0C360.6,306.6 357.0,305.8 355.7,306.1C354.5,306.5 353.5,308.7 353.8,309.9C354.2,311.2 357.3,312.1 357.6,313.7C357.9,315.3 357.3,317.5 355.7,319.4C354.2,321.3 350.2,323.2 348.1,325.1C346.1,327.0 345.5,328.4 343.4,330.8C341.3,333.2 337.9,338.4 335.8,339.4C333.7,340.3 332.8,338.1 331.1,336.5C329.3,334.9 327.4,331.8 325.4,329.9C323.3,328.0 319.5,327.5 318.7,325.1C317.9,322.7 319.8,318.8 320.6,315.6C321.4,312.5 322.5,309.0 323.5,306.1C324.4,303.3 326.9,300.4 326.3,298.5C325.7,296.6 321.7,296.3 319.7,294.8C317.6,293.2 316.7,291.4 314.0,289.1C311.3,286.7 304.5,283.4 303.5,280.5C302.6,277.7 306.9,275.0 308.3,272.0C309.7,269.0 310.8,266.0 312.1,262.5C313.3,259.0 314.3,254.9 315.9,251.1C317.5,247.3 320.3,243.5 321.6,239.7C322.8,235.9 322.5,231.8 323.5,228.3C324.4,224.8 325.8,221.7 327.3,218.8C328.7,216.0 330.6,213.6 332.0,211.2C333.4,208.9 334.5,206.7 335.8,204.6C337.1,202.5 337.9,199.9 339.6,198.9Z" fill="none" stroke="#222" stroke-width="0.7"/>
<ellipse cx="333.9" cy="312.8" rx="3.6" ry="4.6" fill="#fff" stroke="#222" stroke-width="0.5"/>
</g>
<rect x="344.9" y="220.6" width="23.7" height="30.8" fill="none" stroke="#000" stroke-width="1.3"/>
<path d="M344.7,220.4L408.6,190" stroke="#000" stroke-width="1.4" stroke-dasharray="5.5,3.2"/>
<path d="M344.7,251.5L407.5,349.5" stroke="#000" stroke-width="1.4" stroke-dasharray="5.5,3.2"/>
<clipPath id="ce2"><rect x="408.6" y="189.6" width="99.8" height="161.8"/></clipPath>
<g clip-path="url(#ce2)">
<clipPath id="ce3"><path d="M404.2,229.0C404.9,207.0 405.6,228.2 408.3,227.0C411.1,225.7 417.4,223.1 420.9,221.7C424.3,220.3 425.7,218.8 429.2,218.6C432.7,218.4 438.3,219.6 441.7,220.7C445.2,221.7 448.0,224.9 450.1,224.9C452.2,224.9 452.2,221.4 454.3,220.7C456.3,220.0 459.8,220.0 462.6,220.7C465.4,221.4 469.2,222.6 471.0,224.9C472.7,227.1 472.0,231.0 473.0,234.3C474.1,237.6 474.8,243.1 477.2,244.7C479.6,246.3 484.2,242.6 487.6,243.6C491.1,244.7 495.3,249.2 498.1,251.0C500.9,252.7 501.9,252.5 504.3,254.1C506.8,255.6 511.3,242.8 512.7,260.3C514.1,277.9 530.8,342.9 512.7,359.5C494.6,376.0 422.3,381.2 404.2,359.5C386.1,337.7 403.5,251.1 404.2,229.0Z"/></clipPath>
<g clip-path="url(#ce3)"><g filter="url(#bumpI)"><rect x="400" y="180" width="120" height="180" fill="#f0eef2"/>
<g filter="url(#blur3)">
<path d="M404.2,229.0C404.9,228.7 405.6,228.2 408.3,227.0C411.1,225.7 417.4,223.1 420.9,221.7C424.3,220.3 425.7,218.8 429.2,218.6C432.7,218.4 438.3,219.6 441.7,220.7C445.2,221.7 448.0,224.9 450.1,224.9C452.2,224.9 452.2,221.4 454.3,220.7C456.3,220.0 459.8,220.0 462.6,220.7C465.4,221.4 469.2,222.6 471.0,224.9C472.7,227.1 472.0,231.0 473.0,234.3C474.1,237.6 474.8,243.1 477.2,244.7C479.6,246.3 484.2,242.6 487.6,243.6C491.1,244.7 495.3,249.2 498.1,251.0C500.9,252.7 501.9,252.5 504.3,254.1C506.8,255.6 511.3,259.3 512.7,260.3" fill="none" stroke="#f6c4c4" stroke-width="62" opacity="0.95"/>
<path d="M404.2,229.0C404.9,228.7 405.6,228.2 408.3,227.0C411.1,225.7 417.4,223.1 420.9,221.7C424.3,220.3 425.7,218.8 429.2,218.6C432.7,218.4 438.3,219.6 441.7,220.7C445.2,221.7 448.0,224.9 450.1,224.9C452.2,224.9 452.2,221.4 454.3,220.7C456.3,220.0 459.8,220.0 462.6,220.7C465.4,221.4 469.2,222.6 471.0,224.9C472.7,227.1 472.0,231.0 473.0,234.3C474.1,237.6 474.8,243.1 477.2,244.7C479.6,246.3 484.2,242.6 487.6,243.6C491.1,244.7 495.3,249.2 498.1,251.0C500.9,252.7 501.9,252.5 504.3,254.1C506.8,255.6 511.3,259.3 512.7,260.3" fill="none" stroke="#f08080" stroke-width="34" opacity="0.8"/>
<path d="M404.2,229.0C404.9,228.7 405.6,228.2 408.3,227.0C411.1,225.7 417.4,223.1 420.9,221.7C424.3,220.3 425.7,218.8 429.2,218.6C432.7,218.4 438.3,219.6 441.7,220.7C445.2,221.7 448.0,224.9 450.1,224.9C452.2,224.9 452.2,221.4 454.3,220.7C456.3,220.0 459.8,220.0 462.6,220.7C465.4,221.4 469.2,222.6 471.0,224.9C472.7,227.1 472.0,231.0 473.0,234.3C474.1,237.6 474.8,243.1 477.2,244.7C479.6,246.3 484.2,242.6 487.6,243.6C491.1,244.7 495.3,249.2 498.1,251.0C500.9,252.7 501.9,252.5 504.3,254.1C506.8,255.6 511.3,259.3 512.7,260.3" fill="none" stroke="#e81414" stroke-width="17"/>
<ellipse cx="462.6" cy="227.0" rx="11.5" ry="7.3" fill="#e81818" opacity="1"/>
<ellipse cx="481.4" cy="244.7" rx="12.5" ry="10.4" fill="#e81818" opacity="1"/>
<ellipse cx="493.9" cy="252.0" rx="10.4" ry="5.8" fill="#e83030" opacity="1"/>
<ellipse cx="433.4" cy="221.7" rx="20.9" ry="4.6" fill="#e81818" opacity="1"/>
<ellipse cx="479.3" cy="317.7" rx="25.0" ry="19.2" fill="#1212de" opacity="1"/>
<ellipse cx="476.2" cy="315.6" rx="15.7" ry="12.1" fill="#0606cc" opacity="1"/>
<ellipse cx="468.9" cy="305.2" rx="12.5" ry="9.4" fill="#2424e0" opacity="1"/>
<ellipse cx="491.8" cy="302.1" rx="16.7" ry="13.6" fill="#7c7ce6" opacity="0.95"/>
<ellipse cx="500.2" cy="334.4" rx="14.6" ry="15.7" fill="#6a6ae0" opacity="0.95"/>
<ellipse cx="443.8" cy="326.1" rx="25.0" ry="17.7" fill="#c0c0ec" opacity="0.85"/>
<ellipse cx="452.2" cy="303.1" rx="11.5" ry="9.4" fill="#9090e6" opacity="0.85"/>
<ellipse cx="504.3" cy="284.3" rx="9.4" ry="14.6" fill="#bcbcee" opacity="0.85"/>
<ellipse cx="462.6" cy="342.8" rx="16.7" ry="10.4" fill="#8c8ce6" opacity="0.8"/>
<ellipse cx="431.3" cy="273.9" rx="10.4" ry="16.7" fill="#ffffff" opacity="0.9"/>
<ellipse cx="452.2" cy="253.0" rx="10.4" ry="8.3" fill="#ffffff" opacity="0.7"/>
<ellipse cx="418.8" cy="305.2" rx="12.5" ry="16.7" fill="#f4f0f0" opacity="0.8"/>
</g></g>
<g filter="url(#blur05)" opacity="0.75">
<path d="M425.0,263.5C424.7,265.9 422.3,273.6 423.0,278.1C423.7,282.6 426.4,287.5 429.2,290.6C432.0,293.7 437.6,294.4 439.6,296.9C441.7,299.3 441.4,303.8 441.7,305.2" fill="none" stroke="#333" stroke-width="1.1"/>
<path d="M452.2,263.5C451.5,265.2 448.0,269.7 448.0,273.9C448.0,278.1 451.5,286.1 452.2,288.5" fill="none" stroke="#333" stroke-width="1.1"/>
<path d="M439.6,298.9C441.4,300.0 447.3,302.8 450.1,305.2C452.9,307.6 455.3,312.2 456.3,313.6" fill="none" stroke="#333" stroke-width="1.1"/>
<path d="M420.9,346.9C422.3,346.6 426.8,344.1 429.2,344.9C431.6,345.6 434.4,350.4 435.5,351.5" fill="none" stroke="#333" stroke-width="1.1"/>
<path d="M483.5,351.5C482.8,350.1 478.6,344.9 479.3,342.8C480.0,340.6 486.3,339.3 487.6,338.6" fill="none" stroke="#333" stroke-width="1.1"/>
<path d="M500.2,271.8C500.9,272.9 503.6,277.0 504.3,278.1" fill="none" stroke="#333" stroke-width="1.1"/>
<path d="M466.8,265.6C467.1,267.0 469.2,271.5 468.9,273.9C468.5,276.3 465.4,279.1 464.7,280.2" fill="none" stroke="#333" stroke-width="1.1"/>
</g>
</g>
<path d="M404.2,229.0C404.9,207.0 405.6,228.2 408.3,227.0C411.1,225.7 417.4,223.1 420.9,221.7C424.3,220.3 425.7,218.8 429.2,218.6C432.7,218.4 438.3,219.6 441.7,220.7C445.2,221.7 448.0,224.9 450.1,224.9C452.2,224.9 452.2,221.4 454.3,220.7C456.3,220.0 459.8,220.0 462.6,220.7C465.4,221.4 469.2,222.6 471.0,224.9C472.7,227.1 472.0,231.0 473.0,234.3C474.1,237.6 474.8,243.1 477.2,244.7C479.6,246.3 484.2,242.6 487.6,243.6C491.1,244.7 495.3,249.2 498.1,251.0C500.9,252.7 501.9,252.5 504.3,254.1C506.8,255.6 511.3,242.8 512.7,260.3C514.1,277.9 530.8,342.9 512.7,359.5C494.6,376.0 422.3,381.2 404.2,359.5C386.1,337.7 403.5,251.1 404.2,229.0Z" fill="none" stroke="#2a0808" stroke-width="0.8"/>
<path d="M452.6,265.1L454.7,271.8L458.4,279.1L460.9,286.4L462.6,294.8L463.6,303.1L465.1,310.4" fill="none" stroke="#d81fa8" stroke-width="1.2" stroke-linejoin="round"/>
<path d="M454.7,271.8L458.4,273.9L461.6,282.3L460.9,286.4" fill="none" stroke="#d81fa8" stroke-width="1.2" stroke-linejoin="round"/>
<path d="M459.5,296.9L461.6,293.7L465.1,300.0L464.3,307.3L461.6,306.3L459.5,296.9" fill="none" stroke="#d81fa8" stroke-width="1.2" stroke-linejoin="round"/>
<path d="M454.7,274.9L456.8,278.1" stroke="#2a2ae0" stroke-width="1.2"/>
<path d="M452.2,264.5L453.2,266.6" stroke="#f04030" stroke-width="1.2"/>
<path d="M464.7,308.3L465.7,311.1" stroke="#f04030" stroke-width="1.2"/>
<path d="M465.1,299.4L468.4,298.5" stroke="#20c020" stroke-width="1.1"/>
<path d="M459.5,300.6L456.3,301.5" stroke="#b0f0f0" stroke-width="1.1"/>
</g>
<rect x="408.6" y="189.6" width="99.8" height="161.8" fill="none" stroke="#000" stroke-width="1.3"/>
<text x="503.8" y="200.9" font-size="8" font-weight="bold" text-anchor="end" fill="#111"><tspan font-style="italic">&#916;</tspan>G = -6.42</text>
<text x="503.8" y="215.6" font-size="8" font-weight="bold" text-anchor="end" fill="#111" >Ki = 19.77 &#181;M</text>
<linearGradient id="cbar" x1="0" x2="1" y1="0" y2="0"><stop offset="0" stop-color="#1010f8"/><stop offset="0.12" stop-color="#2a2af8"/><stop offset="0.5" stop-color="#f4f0f0"/><stop offset="0.88" stop-color="#f82a2a"/><stop offset="1" stop-color="#f81010"/></linearGradient>
<rect x="403.4" y="357.6" width="109.2" height="12.8" fill="url(#cbar)" stroke="#000" stroke-width="1.3"/>
<text x="402.5" y="382.6" font-size="7" font-weight="normal" text-anchor="middle" fill="#222" >-40</text>
<text x="458" y="382.6" font-size="7" font-weight="normal" text-anchor="middle" fill="#222" >eV</text>
<text x="515.5" y="382.6" font-size="7" font-weight="normal" text-anchor="middle" fill="#222" >40</text>
<text x="517" y="252.8" font-size="16" font-weight="bold" text-anchor="start" fill="#000" >F</text>
<path d="M573.3,262.2L574.6,256.0L584.5,257.3L588.2,249.8L599.4,251.1" fill="none" stroke="#5a5a5a" stroke-width="2.9" stroke-linejoin="round" stroke-linecap="round"/><path d="M573.3,262.2L574.6,256.0L584.5,257.3L588.2,249.8L599.4,251.1" fill="none" stroke="#d4d4d4" stroke-width="2.0" stroke-linejoin="round" stroke-linecap="round"/>
<path d="M584.5,257.3L588.2,246.1" fill="none" stroke="#5a5a5a" stroke-width="2.9" stroke-linejoin="round" stroke-linecap="round"/><path d="M584.5,257.3L588.2,246.1" fill="none" stroke="#d4d4d4" stroke-width="2.0" stroke-linejoin="round" stroke-linecap="round"/>
<path d="M621.7,247.3L623.0,257.3L615.5,264.7L616.8,274.6L609.3,280.8" fill="none" stroke="#5a5a5a" stroke-width="2.9" stroke-linejoin="round" stroke-linecap="round"/><path d="M621.7,247.3L623.0,257.3L615.5,264.7L616.8,274.6L609.3,280.8" fill="none" stroke="#d4d4d4" stroke-width="2.0" stroke-linejoin="round" stroke-linecap="round"/>
<path d="M623.0,257.3L635.4,261.7" fill="none" stroke="#5a5a5a" stroke-width="2.9" stroke-linejoin="round" stroke-linecap="round"/><path d="M623.0,257.3L635.4,261.7" fill="none" stroke="#d4d4d4" stroke-width="2.0" stroke-linejoin="round" stroke-linecap="round"/>
<path d="M629.2,269.7L636.6,274.6L635.4,284.6L626.7,289.5L620.5,282.1" fill="none" stroke="#5a5a5a" stroke-width="2.9" stroke-linejoin="round" stroke-linecap="round"/><path d="M629.2,269.7L636.6,274.6L635.4,284.6L626.7,289.5L620.5,282.1" fill="none" stroke="#d4d4d4" stroke-width="2.0" stroke-linejoin="round" stroke-linecap="round"/>
<path d="M635.4,284.6L644.1,289.0" fill="none" stroke="#5a5a5a" stroke-width="2.9" stroke-linejoin="round" stroke-linecap="round"/><path d="M635.4,284.6L644.1,289.0" fill="none" stroke="#d4d4d4" stroke-width="2.0" stroke-linejoin="round" stroke-linecap="round"/>
<path d="M626.7,289.5L619.2,299.5L621.7,309.4L626.7,311.9" fill="none" stroke="#5a5a5a" stroke-width="2.9" stroke-linejoin="round" stroke-linecap="round"/><path d="M626.7,289.5L619.2,299.5L621.7,309.4L626.7,311.9" fill="none" stroke="#d4d4d4" stroke-width="2.0" stroke-linejoin="round" stroke-linecap="round"/>
<path d="M644.1,306.9L650.3,311.9L650.3,320.6L641.6,326.8L631.7,324.3" fill="none" stroke="#5a5a5a" stroke-width="2.9" stroke-linejoin="round" stroke-linecap="round"/><path d="M644.1,306.9L650.3,311.9L650.3,320.6L641.6,326.8L631.7,324.3" fill="none" stroke="#d4d4d4" stroke-width="2.0" stroke-linejoin="round" stroke-linecap="round"/>
<path d="M641.6,326.8L641.6,336.7" fill="none" stroke="#5a5a5a" stroke-width="2.9" stroke-linejoin="round" stroke-linecap="round"/><path d="M641.6,326.8L641.6,336.7" fill="none" stroke="#d4d4d4" stroke-width="2.0" stroke-linejoin="round" stroke-linecap="round"/>
<path d="M650.3,320.6L661.4,324.3" fill="none" stroke="#5a5a5a" stroke-width="2.9" stroke-linejoin="round" stroke-linecap="round"/><path d="M650.3,320.6L661.4,324.3" fill="none" stroke="#d4d4d4" stroke-width="2.0" stroke-linejoin="round" stroke-linecap="round"/>
<path d="M546.0,292.0L552.2,285.8L563.4,285.8L568.4,293.3L562.2,300.7L551.0,300.7L546.0,292.0" fill="none" stroke="#5a5a5a" stroke-width="2.9" stroke-linejoin="round" stroke-linecap="round"/><path d="M546.0,292.0L552.2,285.8L563.4,285.8L568.4,293.3L562.2,300.7L551.0,300.7L546.0,292.0" fill="none" stroke="#d4d4d4" stroke-width="2.0" stroke-linejoin="round" stroke-linecap="round"/>
<path d="M563.4,285.8L568.4,280.8L573.3,275.9" fill="none" stroke="#5a5a5a" stroke-width="2.9" stroke-linejoin="round" stroke-linecap="round"/><path d="M563.4,285.8L568.4,280.8L573.3,275.9" fill="none" stroke="#d4d4d4" stroke-width="2.0" stroke-linejoin="round" stroke-linecap="round"/>
<path d="M556.0,354.1L556.0,347.9L564.6,341.7L577.1,336.7" fill="none" stroke="#5a5a5a" stroke-width="2.9" stroke-linejoin="round" stroke-linecap="round"/><path d="M556.0,354.1L556.0,347.9L564.6,341.7L577.1,336.7" fill="none" stroke="#d4d4d4" stroke-width="2.0" stroke-linejoin="round" stroke-linecap="round"/>
<path d="M564.6,341.7L560.9,333.0L565.9,330.5" fill="none" stroke="#5a5a5a" stroke-width="2.9" stroke-linejoin="round" stroke-linecap="round"/><path d="M564.6,341.7L560.9,333.0L565.9,330.5" fill="none" stroke="#d4d4d4" stroke-width="2.0" stroke-linejoin="round" stroke-linecap="round"/>
<path d="M584.5,344.1L591.9,352.8L601.9,349.1L609.3,355.3L604.4,361.5L603.9,370.2" fill="none" stroke="#5a5a5a" stroke-width="2.9" stroke-linejoin="round" stroke-linecap="round"/><path d="M584.5,344.1L591.9,352.8L601.9,349.1L609.3,355.3L604.4,361.5L603.9,370.2" fill="none" stroke="#d4d4d4" stroke-width="2.0" stroke-linejoin="round" stroke-linecap="round"/>
<path d="M591.9,352.8L590.7,357.8" fill="none" stroke="#5a5a5a" stroke-width="2.9" stroke-linejoin="round" stroke-linecap="round"/><path d="M591.9,352.8L590.7,357.8" fill="none" stroke="#d4d4d4" stroke-width="2.0" stroke-linejoin="round" stroke-linecap="round"/>
<path d="M609.3,355.3L621.7,351.6" fill="none" stroke="#5a5a5a" stroke-width="2.9" stroke-linejoin="round" stroke-linecap="round"/><path d="M609.3,355.3L621.7,351.6" fill="none" stroke="#d4d4d4" stroke-width="2.0" stroke-linejoin="round" stroke-linecap="round"/>
<path d="M621.7,351.6L626.7,359.0L629.2,369.0L635.4,376.4L631.7,383.8L623.0,386.3L618.0,396.3" fill="none" stroke="#5a5a5a" stroke-width="2.9" stroke-linejoin="round" stroke-linecap="round"/><path d="M621.7,351.6L626.7,359.0L629.2,369.0L635.4,376.4L631.7,383.8L623.0,386.3L618.0,396.3" fill="none" stroke="#d4d4d4" stroke-width="2.0" stroke-linejoin="round" stroke-linecap="round"/>
<path d="M609.3,280.8L599.4,279.1" fill="none" stroke="#5a5a5a" stroke-width="2.9" stroke-linejoin="round" stroke-linecap="round"/><path d="M609.3,280.8L599.4,279.1" fill="none" stroke="#e0b020" stroke-width="2.0" stroke-linejoin="round" stroke-linecap="round"/>
<path d="M609.3,280.8L612.3,278.1" fill="none" stroke="#5a5a5a" stroke-width="2.9" stroke-linejoin="round" stroke-linecap="round"/><path d="M609.3,280.8L612.3,278.1" fill="none" stroke="#e0b020" stroke-width="2.0" stroke-linejoin="round" stroke-linecap="round"/>
<path d="M588.2,246.1L587.5,249.3" fill="none" stroke="#2a3be0" stroke-width="2.0" stroke-linejoin="round" stroke-linecap="round"/>
<path d="M635.4,261.7L631.7,260.5" fill="none" stroke="#2a3be0" stroke-width="2.0" stroke-linejoin="round" stroke-linecap="round"/>
<path d="M644.1,289.0L639.8,287.1" fill="none" stroke="#2a3be0" stroke-width="2.0" stroke-linejoin="round" stroke-linecap="round"/>
<path d="M661.4,324.3L657.0,322.8" fill="none" stroke="#2a3be0" stroke-width="2.0" stroke-linejoin="round" stroke-linecap="round"/>
<path d="M568.4,280.8L565.9,283.6" fill="none" stroke="#2a3be0" stroke-width="2.0" stroke-linejoin="round" stroke-linecap="round"/>
<path d="M621.7,351.6L617.3,353.1" fill="none" stroke="#2a3be0" stroke-width="2.0" stroke-linejoin="round" stroke-linecap="round"/>
<path d="M624.2,355.3L628.7,366.5" fill="none" stroke="#2a3be0" stroke-width="2.0" stroke-linejoin="round" stroke-linecap="round"/>
<path d="M562.2,337.9L563.6,341.2" fill="none" stroke="#2a3be0" stroke-width="2.0" stroke-linejoin="round" stroke-linecap="round"/>
<path d="M573.3,262.2L573.6,259.7" fill="none" stroke="#e84a3a" stroke-width="1.8" stroke-linejoin="round" stroke-linecap="round"/>
<path d="M621.7,247.3L622.2,250.3" fill="none" stroke="#e84a3a" stroke-width="1.8" stroke-linejoin="round" stroke-linecap="round"/>
<path d="M629.2,269.7L631.7,271.4" fill="none" stroke="#e84a3a" stroke-width="1.8" stroke-linejoin="round" stroke-linecap="round"/>
<path d="M644.1,306.9L646.0,308.9" fill="none" stroke="#e84a3a" stroke-width="1.8" stroke-linejoin="round" stroke-linecap="round"/>
<path d="M573.3,275.9L571.6,277.9" fill="none" stroke="#e84a3a" stroke-width="1.8" stroke-linejoin="round" stroke-linecap="round"/>
<path d="M556.0,354.1L556.0,351.1" fill="none" stroke="#e84a3a" stroke-width="1.8" stroke-linejoin="round" stroke-linecap="round"/>
<path d="M603.9,370.2L604.1,367.0" fill="none" stroke="#e84a3a" stroke-width="1.8" stroke-linejoin="round" stroke-linecap="round"/>
<path d="M618.0,396.3L619.2,393.8" fill="none" stroke="#e84a3a" stroke-width="1.8" stroke-linejoin="round" stroke-linecap="round"/>
<path d="M556.0,293.8L556.0,292.0" fill="none" stroke="#e84a3a" stroke-width="1.8" stroke-linejoin="round" stroke-linecap="round"/>
<path d="M619.2,311.9L621.2,312.4" fill="none" stroke="#e84a3a" stroke-width="1.8" stroke-linejoin="round" stroke-linecap="round"/>
<path d="M575.8,278.4L584.5,258.5" stroke="#1cc8dc" stroke-width="1.25" stroke-dasharray="2,1.3" fill="none"/>
<path d="M596.9,292.0L610.6,282.1" stroke="#1cc8dc" stroke-width="1.25" stroke-dasharray="2,1.3" fill="none"/>
<path d="M619.2,301.9L614.3,315.6" stroke="#1cc8dc" stroke-width="1.25" stroke-dasharray="2,1.3" fill="none"/>
<path d="M606.8,330.5L601.9,346.6" stroke="#1cc8dc" stroke-width="1.25" stroke-dasharray="2,1.3" fill="none"/>
<path d="M621.7,315.6L630.4,321.8" stroke="#d8d020" stroke-width="1.3" stroke-dasharray="2,1.3" fill="none"/>
<path d="M623.0,337.9L620.5,349.1" stroke="#d8d020" stroke-width="1.3" stroke-dasharray="2,1.3" fill="none"/>
<path d="M556.0,293.8L580.8,293.8" stroke="#d08030" stroke-width="1.4" stroke-dasharray="2,1.3" fill="none"/>
<path d="M574.6,279.6L582.0,284.6L589.5,290.0L596.9,293.3L600.6,301.9L594.4,306.9L587.0,301.9L580.8,295.7L577.1,287.1L574.6,279.6" fill="none" stroke="#8a0a6a" stroke-width="3" stroke-linejoin="round" stroke-linecap="round"/>
<path d="M589.5,290.0L587.0,301.9" fill="none" stroke="#8a0a6a" stroke-width="3" stroke-linejoin="round" stroke-linecap="round"/>
<path d="M599.4,303.9L608.1,315.6" fill="none" stroke="#8a0a6a" stroke-width="3" stroke-linejoin="round" stroke-linecap="round"/>
<path d="M601.9,323.0L608.1,315.6L618.0,316.8L621.7,324.3L616.8,331.7L606.8,330.5L601.9,323.0" fill="none" stroke="#8a0a6a" stroke-width="3" stroke-linejoin="round" stroke-linecap="round"/>
<path d="M574.6,279.6L582.0,284.6L589.5,290.0L596.9,293.3L600.6,301.9L594.4,306.9L587.0,301.9L580.8,295.7L577.1,287.1L574.6,279.6" fill="none" stroke="#e020b0" stroke-width="2.2" stroke-linejoin="round" stroke-linecap="round"/>
<path d="M589.5,290.0L587.0,301.9" fill="none" stroke="#e020b0" stroke-width="2.2" stroke-linejoin="round" stroke-linecap="round"/>
<path d="M599.4,303.9L608.1,315.6" fill="none" stroke="#e020b0" stroke-width="2.2" stroke-linejoin="round" stroke-linecap="round"/>
<path d="M601.9,323.0L608.1,315.6L618.0,316.8L621.7,324.3L616.8,331.7L606.8,330.5L601.9,323.0" fill="none" stroke="#e020b0" stroke-width="2.2" stroke-linejoin="round" stroke-linecap="round"/>
<path d="M616.8,331.7L623.0,337.9" fill="none" stroke="#e020b0" stroke-width="2.0" stroke-linejoin="round" stroke-linecap="round"/>
<path d="M621.2,336.2L623.5,338.4" fill="none" stroke="#e84a3a" stroke-width="2.0" stroke-linejoin="round" stroke-linecap="round"/>
<path d="M601.9,323.0L593.9,323.5" fill="none" stroke="#b8f0f0" stroke-width="1.8" stroke-linejoin="round" stroke-linecap="round"/>
<path d="M621.7,324.3L631.2,322.0" fill="none" stroke="#28d028" stroke-width="1.8" stroke-linejoin="round" stroke-linecap="round"/>
<path d="M574.6,279.6L572.6,275.9" fill="none" stroke="#e84a3a" stroke-width="1.8" stroke-linejoin="round" stroke-linecap="round"/>
<path d="M577.1,287.1L580.0,290.0" fill="none" stroke="#2a3be0" stroke-width="1.8" stroke-linejoin="round" stroke-linecap="round"/>
<path d="M582.0,284.6L585.7,287.1" fill="none" stroke="#2a3be0" stroke-width="1.8" stroke-linejoin="round" stroke-linecap="round"/>
<path d="M580.8,295.7L581.5,299.0" fill="none" stroke="#e84a3a" stroke-width="1.6" stroke-linejoin="round" stroke-linecap="round"/>
<text x="567.1" y="249.8" font-size="8" font-weight="bold" text-anchor="start" fill="#111" >V93</text>
<text x="629.7" y="244.4" font-size="8" font-weight="bold" text-anchor="start" fill="#111" >M90</text>
<text x="536.1" y="281.6" font-size="8" font-weight="bold" text-anchor="start" fill="#111" >F97</text>
<text x="645.8" y="287.5" font-size="8" font-weight="bold" text-anchor="start" fill="#111" >I87</text>
<text x="648.3" y="342.9" font-size="8" font-weight="bold" text-anchor="start" fill="#111" >V83</text>
<text x="569.1" y="369.7" font-size="8" font-weight="bold" text-anchor="start" fill="#111" >L260</text>
<text x="642.1" y="378.9" font-size="8" font-weight="bold" text-anchor="start" fill="#111" >R263</text>
<text x="0.5" y="408.4" font-size="16" font-weight="bold" text-anchor="start" fill="#000" >G</text>
<path d="M65.3,456.6L69.1,456.2L73.0,456.8L76.9,472.1L80.7,478.7L84.6,483.7L88.5,488.1L92.3,492.4L96.2,495.5L100.1,497.2L103.9,500.0L107.8,501.8L111.7,502.5L115.5,504.3L119.4,505.0L123.2,506.3L127.1,506.8L131.0,508.0L134.8,508.0L138.7,508.1L142.6,508.9L146.4,508.9L150.3,509.3L154.2,504.2L158.0,489.0" fill="none" stroke="#a01010" stroke-width="1.9" stroke-linejoin="round"/>
<path d="M65.3,456.9L69.1,456.2L73.0,456.8L76.9,471.5L80.7,477.6L84.6,482.8L88.5,487.2L92.3,489.7L96.2,493.0L100.1,495.1L103.9,496.9L107.8,498.8L111.7,499.9L115.5,501.7L119.4,502.2L123.2,503.5L127.1,503.6L131.0,504.2L134.8,505.6L138.7,506.0L142.6,506.2L146.4,505.6L150.3,506.5L154.2,501.8L158.0,487.7" fill="none" stroke="#6a0a6a" stroke-width="1.9" stroke-linejoin="round"/>
<path d="M65.3,456.0L69.1,456.2L73.0,456.8L76.9,471.7L80.7,476.9L84.6,481.6L88.5,485.5L92.3,488.4L96.2,491.1L100.1,492.9L103.9,495.1L107.8,496.3L111.7,497.7L115.5,498.7L119.4,499.9L123.2,501.3L127.1,501.1L131.0,501.5L134.8,502.1L138.7,502.8L142.6,503.0L146.4,503.8L150.3,503.3L154.2,499.2L158.0,486.7" fill="none" stroke="#10108c" stroke-width="1.9" stroke-linejoin="round"/>
<path d="M65.3,456.1L69.1,456.2L73.0,456.8L76.9,471.6L80.7,477.0L84.6,480.5L88.5,484.0L92.3,488.1L96.2,489.8L100.1,492.4L103.9,494.5L107.8,495.8L111.7,496.5L115.5,497.4L119.4,499.3L123.2,499.3L127.1,500.6L131.0,500.3L134.8,501.2L138.7,500.9L142.6,501.1L146.4,501.9L150.3,501.6L154.2,497.6L158.0,485.7" fill="none" stroke="#a07830" stroke-width="1.9" stroke-linejoin="round"/>
<path d="M65.3,456.5L69.1,456.2L73.0,456.8L76.9,471.6L80.7,476.0L84.6,480.8L88.5,484.1L92.3,486.8L96.2,489.0L100.1,491.6L103.9,493.4L107.8,493.9L111.7,495.7L115.5,496.0L119.4,496.9L123.2,498.2L127.1,498.7L131.0,499.1L134.8,499.4L138.7,499.8L142.6,500.1L146.4,500.3L150.3,500.1L154.2,496.3L158.0,484.8" fill="none" stroke="#000000" stroke-width="1.9" stroke-linejoin="round"/>
<path d="M65.3,456.2L69.1,456.2L73.0,456.8L76.9,471.1L80.7,475.5L84.6,480.1L88.5,483.3L92.3,485.4L96.2,488.2L100.1,490.2L103.9,492.4L107.8,493.3L111.7,494.3L115.5,495.9L119.4,496.0L123.2,496.6L127.1,497.9L131.0,497.7L134.8,498.3L138.7,498.3L142.6,499.0L146.4,498.8L150.3,499.0L154.2,495.2L158.0,483.8" fill="none" stroke="#ff8c1a" stroke-width="1.9" stroke-linejoin="round"/>
<path d="M65.3,457.0L69.1,456.2L73.0,456.8L76.9,471.3L80.7,475.2L84.6,478.7L88.5,482.7L92.3,485.2L96.2,487.3L100.1,489.4L103.9,491.0L107.8,492.3L111.7,493.4L115.5,494.0L119.4,495.1L123.2,495.7L127.1,495.8L131.0,497.1L134.8,496.8L138.7,497.0L142.6,497.7L146.4,498.0L150.3,497.5L154.2,493.8L158.0,482.5" fill="none" stroke="#b030f0" stroke-width="1.9" stroke-linejoin="round"/>
<path d="M65.3,456.6L69.1,456.2L73.0,456.8L76.9,470.7L80.7,474.4L84.6,477.5L88.5,481.0L92.3,483.1L96.2,485.0L100.1,486.1L103.9,487.9L107.8,488.6L111.7,490.3L115.5,490.9L119.4,491.3L123.2,491.5L127.1,492.5L131.0,493.2L134.8,493.6L138.7,493.4L142.6,494.0L146.4,493.5L150.3,493.6L154.2,490.4L158.0,480.5" fill="none" stroke="#14c814" stroke-width="1.9" stroke-linejoin="round"/>
<path d="M65.3,456.7L69.1,456.2L73.0,456.8L76.9,470.1L80.7,473.0L84.6,476.0L88.5,478.2L92.3,480.8L96.2,482.7L100.1,483.9L103.9,484.5L107.8,486.1L111.7,486.9L115.5,487.5L119.4,488.0L123.2,488.5L127.1,488.3L131.0,489.6L134.8,490.0L138.7,489.2L142.6,489.4L146.4,489.5L150.3,490.3L154.2,485.8L158.0,472.2" fill="none" stroke="#ff1a1a" stroke-width="1.9" stroke-linejoin="round"/>
<path d="M65.3,455.5L69.1,456.2L73.0,456.8L76.9,468.4L80.7,469.7L84.6,470.8L88.5,471.7L92.3,472.5L96.2,473.3L100.1,473.9L103.9,474.4L107.8,474.9L111.7,475.3L115.5,475.7L119.4,476.0L123.2,476.2L127.1,476.5L131.0,476.7L134.8,476.8L138.7,477.0L142.6,477.1L146.4,477.2L150.3,477.3L154.2,474.8L158.0,467.0" fill="none" stroke="#1a1aff" stroke-width="1.9" stroke-linejoin="round"/>
<path d="M53.6,415.75V533H170.8" fill="none" stroke="#000" stroke-width="2.1" stroke-linejoin="miter"/>
<path d="M48.20,417.26L53.60,417.26" stroke="#000" stroke-width="1.9" fill="none" />
<text x="46.6" y="419.96" font-size="7" font-weight="normal" text-anchor="end" fill="#222" >1.2</text>
<path d="M48.20,455.84L53.60,455.84" stroke="#000" stroke-width="1.9" fill="none" />
<text x="46.6" y="458.53999999999996" font-size="7" font-weight="normal" text-anchor="end" fill="#222" >1.0</text>
<path d="M48.20,494.42L53.60,494.42" stroke="#000" stroke-width="1.9" fill="none" />
<text x="46.6" y="497.11999999999995" font-size="7" font-weight="normal" text-anchor="end" fill="#222" >0.8</text>
<path d="M48.20,533.00L53.60,533.00" stroke="#000" stroke-width="1.9" fill="none" />
<text x="46.6" y="535.7" font-size="7" font-weight="normal" text-anchor="end" fill="#222" >0.6</text>
<path d="M73.00,533.00L73.00,538.60" stroke="#000" stroke-width="1.9" fill="none" />
<text x="73.0" y="548.2" font-size="7" font-weight="normal" text-anchor="middle" fill="#222" >0</text>
<path d="M111.65,533.00L111.65,538.60" stroke="#000" stroke-width="1.9" fill="none" />
<text x="111.65" y="548.2" font-size="7" font-weight="normal" text-anchor="middle" fill="#222" >10</text>
<path d="M150.30,533.00L150.30,538.60" stroke="#000" stroke-width="1.9" fill="none" />
<text x="150.3" y="548.2" font-size="7" font-weight="normal" text-anchor="middle" fill="#222" >20</text>
<text transform="translate(27.2,479) rotate(-90)" font-size="11" font-weight="bold" text-anchor="middle" fill="#000">Normalized Fluorescence</text>
<text x="116" y="562.4" font-size="11" font-weight="bold" text-anchor="middle" fill="#000" >Time (sec)</text>
<text x="113" y="422.8" font-size="8.1" font-weight="bold" text-anchor="middle" fill="#111" >SLC1A5_var WT</text>
<path d="M230.3,456.8L234.2,458.2L238.1,459.7L242.0,469.0L245.9,471.1L249.8,473.1L253.7,474.7L257.6,476.2L261.4,477.6L265.3,478.7L269.2,479.8L273.1,480.7L277.0,481.5L280.9,482.2L284.8,482.8L288.7,483.3L292.6,483.8L296.4,484.3L300.3,484.6L304.2,485.0L308.1,485.3L312.0,485.5L315.9,485.8L319.8,486.0L323.7,476.6" fill="none" stroke="#a01010" stroke-width="1.9" stroke-linejoin="round"/>
<path d="M230.3,456.8L234.2,458.2L238.1,459.7L242.0,469.0L245.9,471.2L249.8,473.2L253.7,474.9L257.6,476.5L261.4,477.8L265.3,479.0L269.2,480.1L273.1,481.0L277.0,481.9L280.9,482.6L284.8,483.2L288.7,483.8L292.6,484.3L296.4,484.7L300.3,485.1L304.2,485.5L308.1,485.8L312.0,486.0L315.9,486.3L319.8,486.5L323.7,477.2" fill="none" stroke="#6a0a6a" stroke-width="1.9" stroke-linejoin="round"/>
<path d="M230.3,456.8L234.2,458.2L238.1,459.7L242.0,469.0L245.9,471.3L249.8,473.3L253.7,475.1L257.6,476.7L261.4,478.1L265.3,479.3L269.2,480.4L273.1,481.4L277.0,482.2L280.9,483.0L284.8,483.7L288.7,484.2L292.6,484.8L296.4,485.2L300.3,485.6L304.2,486.0L308.1,486.3L312.0,486.6L315.9,486.8L319.8,487.0L323.7,477.7" fill="none" stroke="#10108c" stroke-width="1.9" stroke-linejoin="round"/>
<path d="M230.3,456.8L234.2,458.2L238.1,459.7L242.0,469.0L245.9,471.4L249.8,473.5L253.7,475.4L257.6,477.0L261.4,478.5L265.3,479.7L269.2,480.9L273.1,481.9L277.0,482.8L280.9,483.5L284.8,484.2L288.7,484.8L292.6,485.4L296.4,485.9L300.3,486.3L304.2,486.6L308.1,487.0L312.0,487.2L315.9,487.5L319.8,487.7L323.7,478.4" fill="none" stroke="#a07830" stroke-width="1.9" stroke-linejoin="round"/>
<path d="M230.3,456.8L234.2,458.2L238.1,459.7L242.0,469.0L245.9,471.4L249.8,473.6L253.7,475.5L257.6,477.2L261.4,478.6L265.3,479.9L269.2,481.1L273.1,482.1L277.0,483.0L280.9,483.8L284.8,484.5L288.7,485.1L292.6,485.7L296.4,486.2L300.3,486.6L304.2,487.0L308.1,487.3L312.0,487.6L315.9,487.9L319.8,488.1L323.7,478.7" fill="none" stroke="#000000" stroke-width="1.9" stroke-linejoin="round"/>
<path d="M230.3,456.8L234.2,458.2L238.1,459.7L242.0,469.0L245.9,471.3L249.8,473.4L253.7,475.2L257.6,476.9L261.4,478.3L265.3,479.5L269.2,480.7L273.1,481.6L277.0,482.5L280.9,483.3L284.8,483.9L288.7,484.5L292.6,485.1L296.4,485.5L300.3,485.9L304.2,486.3L308.1,486.6L312.0,486.9L315.9,487.2L319.8,487.4L323.7,478.0" fill="none" stroke="#ff8c1a" stroke-width="1.9" stroke-linejoin="round"/>
<path d="M230.3,456.8L234.2,458.2L238.1,459.7L242.0,469.0L245.9,471.2L249.8,473.3L253.7,475.0L257.6,476.6L261.4,478.0L265.3,479.2L269.2,480.3L273.1,481.3L277.0,482.1L280.9,482.9L284.8,483.5L288.7,484.1L292.6,484.6L296.4,485.1L300.3,485.5L304.2,485.8L308.1,486.1L312.0,486.4L315.9,486.6L319.8,486.8L323.7,477.5" fill="none" stroke="#b030f0" stroke-width="1.9" stroke-linejoin="round"/>
<path d="M230.3,456.8L234.2,458.2L238.1,459.7L242.0,469.0L245.9,471.2L249.8,473.1L253.7,474.9L257.6,476.4L261.4,477.7L265.3,478.9L269.2,480.0L273.1,480.9L277.0,481.7L280.9,482.4L284.8,483.1L288.7,483.6L292.6,484.1L296.4,484.6L300.3,485.0L304.2,485.3L308.1,485.6L312.0,485.9L315.9,486.1L319.8,486.3L323.7,477.0" fill="none" stroke="#14c814" stroke-width="1.9" stroke-linejoin="round"/>
<path d="M230.3,456.8L234.2,458.2L238.1,459.7L242.0,469.0L245.9,471.0L249.8,472.8L253.7,474.4L257.6,475.9L261.4,477.1L265.3,478.2L269.2,479.2L273.1,480.1L277.0,480.8L280.9,481.5L284.8,482.1L288.7,482.6L292.6,483.1L296.4,483.5L300.3,483.8L304.2,484.1L308.1,484.4L312.0,484.7L315.9,484.9L319.8,485.1L323.7,475.8" fill="none" stroke="#ff1a1a" stroke-width="1.9" stroke-linejoin="round"/>
<path d="M230.3,456.8L234.2,458.2L238.1,459.7L242.0,469.0L245.9,470.9L249.8,472.7L253.7,474.2L257.6,475.6L261.4,476.8L265.3,477.8L269.2,478.7L273.1,479.6L277.0,480.3L280.9,480.9L284.8,481.5L288.7,482.0L292.6,482.4L296.4,482.8L300.3,483.2L304.2,483.5L308.1,483.7L312.0,484.0L315.9,484.2L319.8,484.4L323.7,475.1" fill="none" stroke="#1a1aff" stroke-width="1.9" stroke-linejoin="round"/>
<path d="M219.2,415.75V533H336.4" fill="none" stroke="#000" stroke-width="2.1" stroke-linejoin="miter"/>
<path d="M213.80,417.26L219.20,417.26" stroke="#000" stroke-width="1.9" fill="none" />
<text x="212.2" y="419.96" font-size="7" font-weight="normal" text-anchor="end" fill="#222" >1.2</text>
<path d="M213.80,455.84L219.20,455.84" stroke="#000" stroke-width="1.9" fill="none" />
<text x="212.2" y="458.53999999999996" font-size="7" font-weight="normal" text-anchor="end" fill="#222" >1.0</text>
<path d="M213.80,494.42L219.20,494.42" stroke="#000" stroke-width="1.9" fill="none" />
<text x="212.2" y="497.11999999999995" font-size="7" font-weight="normal" text-anchor="end" fill="#222" >0.8</text>
<path d="M213.80,533.00L219.20,533.00" stroke="#000" stroke-width="1.9" fill="none" />
<text x="212.2" y="535.7" font-size="7" font-weight="normal" text-anchor="end" fill="#222" >0.6</text>
<path d="M238.10,533.00L238.10,538.60" stroke="#000" stroke-width="1.9" fill="none" />
<text x="238.1" y="548.2" font-size="7" font-weight="normal" text-anchor="middle" fill="#222" >0</text>
<path d="M277.00,533.00L277.00,538.60" stroke="#000" stroke-width="1.9" fill="none" />
<text x="277.0" y="548.2" font-size="7" font-weight="normal" text-anchor="middle" fill="#222" >10</text>
<path d="M315.90,533.00L315.90,538.60" stroke="#000" stroke-width="1.9" fill="none" />
<text x="315.9" y="548.2" font-size="7" font-weight="normal" text-anchor="middle" fill="#222" >20</text>
<text transform="translate(193.4,479) rotate(-90)" font-size="11" font-weight="bold" text-anchor="middle" fill="#000">Normalized Fluorescence</text>
<text x="281.5" y="562.8" font-size="11" font-weight="bold" text-anchor="middle" fill="#000" >Time (sec)</text>
<text x="276.7" y="423.2" font-size="8.1" font-weight="bold" text-anchor="middle" fill="#111" >SLC1A5_var FIL/AAA</text>
<path d="M345.20,423.60L365.80,423.60" stroke="#1a1aff" stroke-width="2.2" fill="none" />
<text x="368.7" y="426.3" font-size="7" fill="#222">100 &#181;M</text>
<path d="M345.20,434.63L365.80,434.63" stroke="#ff1a1a" stroke-width="2.2" fill="none" />
<text x="368.7" y="437.3" font-size="7" fill="#222">50 &#181;M</text>
<path d="M345.20,445.66L365.80,445.66" stroke="#14c814" stroke-width="2.2" fill="none" />
<text x="368.7" y="448.4" font-size="7" fill="#222">25 &#181;M</text>
<path d="M345.20,456.69L365.80,456.69" stroke="#b030f0" stroke-width="2.2" fill="none" />
<text x="368.7" y="459.4" font-size="7" fill="#222">10 &#181;M</text>
<path d="M345.20,467.72L365.80,467.72" stroke="#ff8c1a" stroke-width="2.2" fill="none" />
<text x="368.7" y="470.4" font-size="7" fill="#222">5 &#181;M</text>
<path d="M345.20,478.75L365.80,478.75" stroke="#000000" stroke-width="2.2" fill="none" />
<text x="368.7" y="481.4" font-size="7" fill="#222">2.5 &#181;M</text>
<path d="M345.20,489.78L365.80,489.78" stroke="#a07830" stroke-width="2.2" fill="none" />
<text x="368.7" y="492.5" font-size="7" fill="#222">1 &#181;M</text>
<path d="M345.20,500.81L365.80,500.81" stroke="#10108c" stroke-width="2.2" fill="none" />
<text x="368.7" y="503.5" font-size="7" fill="#222">0.5 &#181;M</text>
<path d="M345.20,511.84L365.80,511.84" stroke="#6a0a6a" stroke-width="2.2" fill="none" />
<text x="368.7" y="514.5" font-size="7" fill="#222">0.25 &#181;M</text>
<path d="M345.20,522.87L365.80,522.87" stroke="#a01010" stroke-width="2.2" fill="none" />
<text x="368.7" y="525.6" font-size="7" fill="#222">0 &#181;M</text>
<text x="427" y="412.4" font-size="16" font-weight="bold" text-anchor="start" fill="#000" >H</text>
<path d="M507.1,453.2C510.3,453.1 519.9,452.7 526.4,452.5C532.8,452.4 539.2,452.5 545.6,452.2C552.0,451.9 558.5,451.4 564.9,450.6C571.3,449.8 577.7,448.6 584.2,447.4C590.6,446.2 596.9,444.7 603.4,443.2C610.0,441.7 620.0,439.2 623.3,438.4" fill="none" stroke="#303030" stroke-width="1.9"/>
<path d="M507.1,499.4C509.2,499.3 515.6,498.9 519.9,498.5C524.2,498.0 528.5,497.6 532.8,496.5C537.1,495.5 541.3,494.1 545.6,492.4C549.9,490.6 554.2,488.6 558.5,485.9C562.8,483.3 567.0,480.2 571.3,476.3C575.6,472.4 579.9,467.5 584.2,462.8C588.4,458.2 592.7,452.6 597.0,448.4C601.3,444.1 605.5,440.6 609.9,437.1C614.2,433.6 621.1,429.1 623.3,427.5" fill="none" stroke="#ff3838" stroke-width="1.9"/>
<rect x="505.4" y="452.1" width="3.4" height="3.4" fill="#303030"/>
<rect x="516.9" y="450.2" width="3.4" height="3.4" fill="#303030"/>
<rect x="528.5" y="447.9" width="3.4" height="3.4" fill="#303030"/>
<rect x="540.1" y="454.0" width="3.4" height="3.4" fill="#303030"/>
<rect x="552.0" y="450.8" width="3.4" height="3.4" fill="#303030"/>
<rect x="563.5" y="446.3" width="3.4" height="3.4" fill="#303030"/>
<rect x="575.1" y="448.3" width="3.4" height="3.4" fill="#303030"/>
<rect x="586.6" y="444.1" width="3.4" height="3.4" fill="#303030"/>
<rect x="610.1" y="441.5" width="3.4" height="3.4" fill="#303030"/>
<rect x="621.6" y="436.4" width="3.4" height="3.4" fill="#303030"/>
<circle cx="507.1" cy="504.9" r="1.9" fill="#ff3838"/>
<circle cx="518.6" cy="498.5" r="1.9" fill="#ff3838"/>
<circle cx="530.2" cy="497.5" r="1.9" fill="#ff3838"/>
<circle cx="541.8" cy="490.8" r="1.9" fill="#ff3838"/>
<circle cx="553.7" cy="485.6" r="1.9" fill="#ff3838"/>
<circle cx="565.2" cy="481.4" r="1.9" fill="#ff3838"/>
<circle cx="576.8" cy="469.6" r="1.9" fill="#ff3838"/>
<circle cx="588.3" cy="459.3" r="1.9" fill="#ff3838"/>
<circle cx="611.8" cy="433.3" r="1.9" fill="#ff3838"/>
<circle cx="623.3" cy="426.8" r="1.9" fill="#ff3838"/>
<path d="M480.4,415.84999999999997V532.8H635.6" fill="none" stroke="#000" stroke-width="2.1" stroke-linejoin="miter"/>
<path d="M475.00,416.90L480.40,416.90" stroke="#000" stroke-width="1.9" fill="none" />
<text x="473.4" y="419.59999999999997" font-size="7" font-weight="normal" text-anchor="end" fill="#222" >900</text>
<path d="M475.00,445.80L480.40,445.80" stroke="#000" stroke-width="1.9" fill="none" />
<text x="473.4" y="448.5" font-size="7" font-weight="normal" text-anchor="end" fill="#222" >850</text>
<path d="M475.00,474.70L480.40,474.70" stroke="#000" stroke-width="1.9" fill="none" />
<text x="473.4" y="477.4" font-size="7" font-weight="normal" text-anchor="end" fill="#222" >800</text>
<path d="M475.00,503.80L480.40,503.80" stroke="#000" stroke-width="1.9" fill="none" />
<text x="473.4" y="506.5" font-size="7" font-weight="normal" text-anchor="end" fill="#222" >750</text>
<path d="M475.00,532.80L480.40,532.80" stroke="#000" stroke-width="1.9" fill="none" />
<text x="473.4" y="535.5" font-size="7" font-weight="normal" text-anchor="end" fill="#222" >700</text>
<path d="M480.40,532.80L480.40,538.40" stroke="#000" stroke-width="1.9" fill="none" />
<text x="480.4" y="548" font-size="7" font-weight="normal" text-anchor="middle" fill="#222" >-8</text>
<path d="M519.30,532.80L519.30,538.40" stroke="#000" stroke-width="1.9" fill="none" />
<text x="519.3" y="548" font-size="7" font-weight="normal" text-anchor="middle" fill="#222" >-7</text>
<path d="M557.90,532.80L557.90,538.40" stroke="#000" stroke-width="1.9" fill="none" />
<text x="557.9" y="548" font-size="7" font-weight="normal" text-anchor="middle" fill="#222" >-6</text>
<path d="M596.70,532.80L596.70,538.40" stroke="#000" stroke-width="1.9" fill="none" />
<text x="596.7" y="548" font-size="7" font-weight="normal" text-anchor="middle" fill="#222" >-5</text>
<path d="M635.60,532.80L635.60,538.40" stroke="#000" stroke-width="1.9" fill="none" />
<text x="635.6" y="548" font-size="7" font-weight="normal" text-anchor="middle" fill="#222" >-4</text>
<text x="558" y="558.9" font-size="11" font-weight="bold" text-anchor="middle" fill="#000" >Log[M]</text>
<text transform="translate(449.2,481.8) rotate(-90)" font-size="10.5" font-weight="bold" text-anchor="middle"><tspan font-weight="normal" font-size="10">&#916;</tspan>F<tspan font-size="7" dy="2">norm</tspan></text>
<path d="M491.30,415.40L512.30,415.40" stroke="#ff3838" stroke-width="1.5" fill="none" />
<circle cx="501.8" cy="415.4" r="1.9" fill="#ff3838"/>
<path d="M491.30,430.80L512.30,430.80" stroke="#303030" stroke-width="1.5" fill="none" />
<rect x="500.1" y="429.1" width="3.4" height="3.4" fill="#303030"/>
<text x="517.6" y="418.9" font-size="8" font-weight="normal" text-anchor="start" fill="#333" >WT</text>
<text x="554.8" y="418.9" font-size="8" font-weight="normal" text-anchor="start" fill="#333" >Kd = 4.473 &#181;M</text>
<text x="517.6" y="433.8" font-size="8" font-weight="normal" text-anchor="start" fill="#333" >FIL/AAA</text>
<text x="554.8" y="433.8" font-size="8" font-weight="normal" text-anchor="start" fill="#333" >Kd = NA</text>
<text x="4" y="582.6" font-size="16" font-weight="bold" text-anchor="start" fill="#000" >I</text>
<path d="M63.00,681.70L171.00,681.70" stroke="#000" stroke-width="1.5" fill="none" stroke-dasharray="1.5,3.76"/>
<path d="M54.5,658.6L55.5,661.9L56.5,665.3L57.4,675.1L58.4,690.1L59.4,692.1L60.4,696.1L61.4,699.4L62.4,702.1L63.4,702.9L64.4,708.8L65.4,714.9L66.3,721.1L67.3,721.7L68.3,724.8L69.3,731.5L70.3,735.1L71.3,737.9L72.3,739.0L73.3,740.1L74.2,741.5L75.2,741.6L76.2,740.2L77.2,740.6L78.2,739.9L79.2,739.5L80.2,739.7L81.2,737.3L82.2,734.8L83.1,731.6L84.1,731.1L85.1,730.3L86.1,729.0L87.1,726.7L88.1,725.2L89.1,724.2L90.1,722.4L91.1,721.6L92.0,720.3L93.0,718.8L94.0,717.9L95.0,717.1L96.0,716.8L97.0,716.6L98.0,714.4L99.0,714.0L100.0,712.0L100.9,712.0L101.9,710.3L102.9,710.3L103.9,711.1L104.9,709.2L105.9,706.3L106.9,705.7L107.9,704.0L108.9,704.8L109.8,704.2L110.8,701.4L111.8,699.4L112.8,698.9L113.8,698.7L114.8,697.9L115.8,695.9L116.8,695.1L117.8,695.0L118.7,693.6L119.7,692.9L120.7,692.6L121.7,691.0L122.7,691.7L123.7,690.1L124.7,689.5L125.7,689.1L126.7,687.4L127.6,688.2L128.6,687.1L129.6,687.8L130.6,686.7L131.6,686.4L132.6,685.7L133.6,683.8L134.6,683.9L135.6,684.7L136.5,683.4L137.5,684.4L138.5,683.6L139.5,682.4L140.5,682.4L141.5,683.3L142.5,681.5L143.5,683.0L144.5,683.0L145.4,682.0L146.4,682.9L147.4,682.9L148.4,683.4L149.4,683.4L150.4,682.5L151.4,683.2L152.4,682.5L153.3,683.0L154.3,682.9L155.3,681.9L156.3,682.9L157.3,682.8L158.3,682.2L159.3,683.6L160.3,683.7L161.3,682.3L162.2,682.5L163.2,683.6L164.2,683.8L165.2,682.7L166.2,682.4L167.2,683.8L168.2,682.4L169.2,682.5L170.2,683.0" fill="none" stroke="#1a1aff" stroke-width="1.9" stroke-linejoin="round"/>
<path d="M54.5,664.6L55.5,668.4L56.5,673.5L57.4,672.5L58.4,679.6L59.4,684.7L60.4,688.5L61.4,689.7L62.4,695.7L63.4,701.5L64.4,704.1L65.4,704.6L66.3,712.3L67.3,717.5L68.3,719.9L69.3,719.9L70.3,723.5L71.3,728.1L72.3,728.5L73.3,731.5L74.2,732.9L75.2,733.1L76.2,733.4L77.2,735.0L78.2,734.1L79.2,732.2L80.2,730.1L81.2,730.4L82.2,728.7L83.1,726.6L84.1,725.2L85.1,724.5L86.1,722.4L87.1,721.1L88.1,721.7L89.1,721.6L90.1,720.0L91.1,714.6L92.0,713.0L93.0,710.2L94.0,712.7L95.0,710.3L96.0,710.3L97.0,708.6L98.0,709.3L99.0,706.4L100.0,709.4L100.9,707.5L101.9,706.2L102.9,704.9L103.9,704.7L104.9,704.1L105.9,703.3L106.9,702.7L107.9,704.0L108.9,701.6L109.8,699.1L110.8,697.3L111.8,697.2L112.8,694.7L113.8,694.0L114.8,694.7L115.8,693.7L116.8,693.4L117.8,691.5L118.7,690.3L119.7,691.3L120.7,689.0L121.7,687.5L122.7,687.3L123.7,687.0L124.7,687.2L125.7,685.1L126.7,684.9L127.6,685.0L128.6,683.5L129.6,685.7L130.6,682.7L131.6,684.4L132.6,681.6L133.6,681.4L134.6,681.9L135.6,680.2L136.5,680.7L137.5,680.0L138.5,678.5L139.5,680.4L140.5,680.9L141.5,679.7L142.5,678.4L143.5,680.1L144.5,680.2L145.4,677.8L146.4,678.7L147.4,679.6L148.4,678.1L149.4,680.2L150.4,679.2L151.4,680.9L152.4,680.2L153.3,679.0L154.3,678.7L155.3,678.8L156.3,680.6L157.3,679.9L158.3,680.8L159.3,681.5L160.3,680.3L161.3,679.2L162.2,679.2L163.2,679.8L164.2,679.1L165.2,681.5L166.2,681.9L167.2,681.0L168.2,681.7L169.2,681.9L170.2,681.2" fill="none" stroke="#ff1a1a" stroke-width="1.9" stroke-linejoin="round"/>
<path d="M54.5,675.8L55.5,674.8L56.5,673.0L57.4,671.8L58.4,675.0L59.4,680.2L60.4,682.3L61.4,685.9L62.4,690.9L63.4,697.1L64.4,698.9L65.4,701.2L66.3,706.2L67.3,710.9L68.3,714.8L69.3,715.6L70.3,718.0L71.3,721.7L72.3,723.4L73.3,724.6L74.2,725.6L75.2,727.0L76.2,727.6L77.2,728.1L78.2,727.6L79.2,726.7L80.2,725.6L81.2,724.5L82.2,724.2L83.1,724.4L84.1,722.9L85.1,721.2L86.1,719.2L87.1,716.8L88.1,715.6L89.1,715.7L90.1,714.6L91.1,713.0L92.0,711.1L93.0,710.0L94.0,709.4L95.0,709.0L96.0,708.8L97.0,707.6L98.0,706.7L99.0,707.0L100.0,706.0L100.9,705.9L101.9,705.8L102.9,704.6L103.9,703.6L104.9,702.5L105.9,702.5L106.9,702.1L107.9,701.3L108.9,700.3L109.8,698.8L110.8,697.7L111.8,696.1L112.8,695.5L113.8,694.6L114.8,694.3L115.8,693.7L116.8,692.7L117.8,692.1L118.7,690.5L119.7,689.7L120.7,689.4L121.7,689.6L122.7,688.9L123.7,688.6L124.7,687.3L125.7,686.6L126.7,686.4L127.6,686.4L128.6,685.9L129.6,685.6L130.6,685.0L131.6,684.7L132.6,684.7L133.6,683.6L134.6,684.1L135.6,683.3L136.5,683.7L137.5,683.3L138.5,682.6L139.5,682.9L140.5,682.6L141.5,682.1L142.5,681.9L143.5,681.8L144.5,681.9L145.4,681.7L146.4,682.1L147.4,681.7L148.4,682.6L149.4,682.5L150.4,682.2L151.4,682.5L152.4,682.1L153.3,682.2L154.3,682.4L155.3,682.1L156.3,682.4L157.3,682.7L158.3,682.7L159.3,682.3L160.3,682.3L161.3,682.9L162.2,682.4L163.2,682.3L164.2,682.7L165.2,682.7L166.2,683.1L167.2,682.8L168.2,682.8L169.2,682.8L170.2,683.3" fill="none" stroke="#14c814" stroke-width="1.9" stroke-linejoin="round"/>
<path d="M54.5,683.2L55.5,680.9L56.5,676.1L57.4,673.7L58.4,676.0L59.4,678.9L60.4,679.8L61.4,683.5L62.4,688.2L63.4,693.2L64.4,694.8L65.4,696.7L66.3,701.5L67.3,705.9L68.3,708.9L69.3,709.5L70.3,711.6L71.3,714.6L72.3,717.2L73.3,717.9L74.2,718.9L75.2,719.9L76.2,720.7L77.2,721.8L78.2,720.8L79.2,720.6L80.2,719.3L81.2,718.3L82.2,717.2L83.1,717.3L84.1,716.7L85.1,715.3L86.1,714.6L87.1,713.0L88.1,713.0L89.1,712.4L90.1,712.0L91.1,711.1L92.0,709.8L93.0,709.1L94.0,708.9L95.0,708.6L96.0,707.9L97.0,707.4L98.0,706.6L99.0,705.7L100.0,705.5L100.9,705.4L101.9,704.7L102.9,704.4L103.9,703.6L104.9,703.7L105.9,702.8L106.9,702.7L107.9,702.1L108.9,701.7L109.8,700.4L110.8,698.5L111.8,697.9L112.8,696.3L113.8,696.0L114.8,696.4L115.8,695.4L116.8,693.8L117.8,693.0L118.7,691.9L119.7,690.3L120.7,690.3L121.7,689.8L122.7,689.8L123.7,688.8L124.7,687.7L125.7,687.4L126.7,686.6L127.6,685.8L128.6,685.5L129.6,685.2L130.6,685.6L131.6,684.7L132.6,684.0L133.6,683.9L134.6,683.5L135.6,683.9L136.5,683.8L137.5,683.5L138.5,683.3L139.5,682.5L140.5,682.3L141.5,682.1L142.5,682.4L143.5,682.4L144.5,682.4L145.4,681.8L146.4,681.7L147.4,681.8L148.4,682.6L149.4,682.6L150.4,681.8L151.4,682.3L152.4,682.1L153.3,682.5L154.3,682.4L155.3,682.4L156.3,682.5L157.3,682.4L158.3,683.0L159.3,682.4L160.3,682.3L161.3,683.0L162.2,682.7L163.2,682.5L164.2,682.9L165.2,683.1L166.2,683.1L167.2,682.8L168.2,683.3L169.2,682.5L170.2,682.6" fill="none" stroke="#b030f0" stroke-width="1.9" stroke-linejoin="round"/>
<path d="M54.5,677.6L55.5,675.3L56.5,671.7L57.4,670.2L58.4,672.7L59.4,676.6L60.4,677.6L61.4,680.9L62.4,686.6L63.4,690.8L64.4,693.1L65.4,695.1L66.3,699.6L67.3,704.9L68.3,707.4L69.3,708.3L70.3,711.1L71.3,714.2L72.3,716.6L73.3,717.5L74.2,718.6L75.2,720.6L76.2,720.3L77.2,719.4L78.2,718.5L79.2,716.8L80.2,715.4L81.2,714.8L82.2,714.8L83.1,713.0L84.1,711.7L85.1,710.4L86.1,709.0L87.1,708.7L88.1,708.6L89.1,708.4L90.1,707.3L91.1,707.2L92.0,706.7L93.0,706.3L94.0,706.0L95.0,706.7L96.0,705.7L97.0,705.0L98.0,704.8L99.0,704.3L100.0,704.5L100.9,704.0L101.9,703.1L102.9,702.4L103.9,701.3L104.9,699.9L105.9,699.6L106.9,699.5L107.9,698.6L108.9,698.1L109.8,696.5L110.8,695.5L111.8,694.2L112.8,694.0L113.8,693.2L114.8,692.8L115.8,693.0L116.8,691.4L117.8,691.3L118.7,690.3L119.7,690.0L120.7,689.4L121.7,689.2L122.7,689.3L123.7,687.9L124.7,687.8L125.7,687.1L126.7,686.5L127.6,686.5L128.6,686.5L129.6,685.9L130.6,685.5L131.6,685.3L132.6,684.4L133.6,684.4L134.6,684.5L135.6,684.2L136.5,684.3L137.5,683.9L138.5,683.0L139.5,683.0L140.5,682.3L141.5,682.3L142.5,682.9L143.5,682.0L144.5,682.1L145.4,682.9L146.4,682.1L147.4,682.6L148.4,682.6L149.4,682.2L150.4,682.9L151.4,682.6L152.4,682.3L153.3,682.5L154.3,682.8L155.3,682.4L156.3,682.6L157.3,682.8L158.3,683.3L159.3,682.9L160.3,683.1L161.3,683.3L162.2,683.5L163.2,683.1L164.2,683.5L165.2,683.2L166.2,683.0L167.2,683.3L168.2,683.5L169.2,683.2L170.2,683.3" fill="none" stroke="#ff8c1a" stroke-width="1.9" stroke-linejoin="round"/>
<path d="M53.6,641.75V758.7H170.9" fill="none" stroke="#000" stroke-width="2.1" stroke-linejoin="miter"/>
<path d="M48.20,643.05L53.60,643.05" stroke="#000" stroke-width="1.9" fill="none" />
<text x="46.6" y="645.7500000000001" font-size="7" font-weight="normal" text-anchor="end" fill="#222" >10</text>
<path d="M48.20,662.38L53.60,662.38" stroke="#000" stroke-width="1.9" fill="none" />
<text x="46.6" y="665.075" font-size="7" font-weight="normal" text-anchor="end" fill="#222" >5</text>
<path d="M48.20,681.70L53.60,681.70" stroke="#000" stroke-width="1.9" fill="none" />
<text x="46.6" y="684.4000000000001" font-size="7" font-weight="normal" text-anchor="end" fill="#222" >0</text>
<path d="M48.20,701.03L53.60,701.03" stroke="#000" stroke-width="1.9" fill="none" />
<text x="46.6" y="703.7250000000001" font-size="7" font-weight="normal" text-anchor="end" fill="#222" >-5</text>
<path d="M48.20,720.35L53.60,720.35" stroke="#000" stroke-width="1.9" fill="none" />
<text x="46.6" y="723.0500000000001" font-size="7" font-weight="normal" text-anchor="end" fill="#222" >-10</text>
<path d="M48.20,739.68L53.60,739.68" stroke="#000" stroke-width="1.9" fill="none" />
<text x="46.6" y="742.3750000000001" font-size="7" font-weight="normal" text-anchor="end" fill="#222" >-15</text>
<path d="M48.20,759.00L53.60,759.00" stroke="#000" stroke-width="1.9" fill="none" />
<text x="46.6" y="761.7" font-size="7" font-weight="normal" text-anchor="end" fill="#222" >-20</text>
<path d="M57.30,758.70L57.30,764.00" stroke="#000" stroke-width="1.9" fill="none" />
<text transform="translate(59.4,766) rotate(-90)" font-size="7" text-anchor="end" fill="#222">190</text>
<path d="M71.42,758.70L71.42,764.00" stroke="#000" stroke-width="1.9" fill="none" />
<text transform="translate(73.5,766) rotate(-90)" font-size="7" text-anchor="end" fill="#222">200</text>
<path d="M85.55,758.70L85.55,764.00" stroke="#000" stroke-width="1.9" fill="none" />
<text transform="translate(87.6,766) rotate(-90)" font-size="7" text-anchor="end" fill="#222">210</text>
<path d="M99.67,758.70L99.67,764.00" stroke="#000" stroke-width="1.9" fill="none" />
<text transform="translate(101.8,766) rotate(-90)" font-size="7" text-anchor="end" fill="#222">220</text>
<path d="M113.80,758.70L113.80,764.00" stroke="#000" stroke-width="1.9" fill="none" />
<text transform="translate(115.9,766) rotate(-90)" font-size="7" text-anchor="end" fill="#222">230</text>
<path d="M127.92,758.70L127.92,764.00" stroke="#000" stroke-width="1.9" fill="none" />
<text transform="translate(130.0,766) rotate(-90)" font-size="7" text-anchor="end" fill="#222">240</text>
<path d="M142.05,758.70L142.05,764.00" stroke="#000" stroke-width="1.9" fill="none" />
<text transform="translate(144.2,766) rotate(-90)" font-size="7" text-anchor="end" fill="#222">250</text>
<path d="M156.18,758.70L156.18,764.00" stroke="#000" stroke-width="1.9" fill="none" />
<text transform="translate(158.3,766) rotate(-90)" font-size="7" text-anchor="end" fill="#222">260</text>
<path d="M170.30,758.70L170.30,764.00" stroke="#000" stroke-width="1.9" fill="none" />
<text transform="translate(172.4,766) rotate(-90)" font-size="7" text-anchor="end" fill="#222">270</text>
<text transform="translate(27.6,700.5) rotate(-90)" font-size="11" font-weight="bold" text-anchor="middle" fill="#000">Circular Dichroism (mdeg)</text>
<text x="113" y="792" font-size="11" font-weight="bold" text-anchor="middle" fill="#000" >Wavelength (nm)</text>
<text x="119.3" y="600.3" font-size="8.1" font-weight="normal" text-anchor="middle" fill="#222" >WT : FIL ratio</text>
<path d="M73.60,608.90L93.30,608.90" stroke="#ff8c1a" stroke-width="2.2" fill="none" />
<text x="102" y="611.8" font-size="8.1" font-weight="normal" text-anchor="start" fill="#222" >0 : 4</text>
<path d="M73.60,620.52L93.30,620.52" stroke="#b030f0" stroke-width="2.2" fill="none" />
<text x="102" y="623.42" font-size="8.1" font-weight="normal" text-anchor="start" fill="#222" >1 : 3</text>
<path d="M73.60,632.14L93.30,632.14" stroke="#14c814" stroke-width="2.2" fill="none" />
<text x="102" y="635.04" font-size="8.1" font-weight="normal" text-anchor="start" fill="#222" >2 : 2</text>
<path d="M73.60,643.76L93.30,643.76" stroke="#ff1a1a" stroke-width="2.2" fill="none" />
<text x="102" y="646.66" font-size="8.1" font-weight="normal" text-anchor="start" fill="#222" >3 : 1</text>
<path d="M73.60,655.38L93.30,655.38" stroke="#1a1aff" stroke-width="2.2" fill="none" />
<text x="102" y="658.28" font-size="8.1" font-weight="normal" text-anchor="start" fill="#222" >4 : 0</text>
<text x="179.8" y="582.7" font-size="16" font-weight="bold" text-anchor="start" fill="#000" >J</text>
<path d="M234.00,672.70L336.00,672.70" stroke="#000" stroke-width="1.5" fill="none" stroke-dasharray="1.5,3.76"/>
<path d="M219.8,658.9L220.8,661.2L221.8,667.1L222.7,669.9L223.7,674.4L224.7,679.0L225.7,681.0L226.7,684.2L227.7,688.7L228.7,693.3L229.7,695.6L230.6,697.0L231.6,701.5L232.6,707.7L233.6,709.5L234.6,711.8L235.6,715.8L236.6,721.1L237.6,723.1L238.5,724.6L239.5,726.9L240.5,729.9L241.5,731.0L242.5,729.0L243.5,726.7L244.5,725.8L245.5,723.7L246.4,722.5L247.4,720.1L248.4,718.0L249.4,716.7L250.4,712.7L251.4,713.1L252.4,712.6L253.4,712.4L254.3,711.6L255.3,711.6L256.3,711.7L257.3,710.0L258.3,710.7L259.3,709.1L260.3,709.6L261.3,707.8L262.2,707.8L263.2,707.3L264.2,706.0L265.2,705.0L266.2,704.1L267.2,704.7L268.2,702.8L269.2,700.4L270.2,699.8L271.1,697.2L272.1,696.8L273.1,696.9L274.1,695.4L275.1,693.3L276.1,691.6L277.1,689.3L278.1,690.2L279.0,690.4L280.0,689.7L281.0,687.8L282.0,686.6L283.0,687.2L284.0,687.0L285.0,686.2L286.0,684.8L286.9,684.7L287.9,683.2L288.9,683.0L289.9,682.6L290.9,682.7L291.9,681.8L292.9,680.7L293.9,679.0L294.8,679.9L295.8,679.1L296.8,679.0L297.8,678.6L298.8,678.0L299.8,676.2L300.8,676.2L301.8,676.5L302.7,675.4L303.7,674.7L304.7,673.6L305.7,672.9L306.7,673.5L307.7,672.4L308.7,672.5L309.7,673.3L310.6,672.9L311.6,673.9L312.6,674.3L313.6,674.8L314.6,673.8L315.6,675.3L316.6,675.7L317.6,674.4L318.5,674.5L319.5,675.0L320.5,674.4L321.5,675.8L322.5,675.5L323.5,675.4L324.5,675.2L325.5,675.6L326.4,675.8L327.4,675.3L328.4,674.3L329.4,674.1L330.4,674.6L331.4,675.0L332.4,675.5L333.4,674.2L334.4,675.0L335.3,674.6" fill="none" stroke="#1a1aff" stroke-width="1.9" stroke-linejoin="round"/>
<path d="M219.8,671.3L220.8,667.5L221.8,659.7L222.7,657.2L223.7,652.8L224.7,647.7L225.7,646.8L226.7,652.3L227.7,658.5L228.7,662.3L229.7,665.4L230.6,670.0L231.6,670.7L232.6,681.4L233.6,686.1L234.6,687.2L235.6,695.0L236.6,696.6L237.6,695.2L238.5,691.7L239.5,690.9L240.5,691.5L241.5,689.9L242.5,687.0L243.5,686.4L244.5,689.1L245.5,689.8L246.4,690.6L247.4,691.4L248.4,690.4L249.4,692.9L250.4,692.1L251.4,692.9L252.4,693.8L253.4,691.4L254.3,690.9L255.3,689.4L256.3,689.8L257.3,689.7L258.3,688.7L259.3,687.0L260.3,684.7L261.3,684.4L262.2,685.7L263.2,683.7L264.2,683.4L265.2,684.0L266.2,684.3L267.2,687.0L268.2,685.5L269.2,686.5L270.2,683.7L271.1,685.0L272.1,682.7L273.1,683.9L274.1,682.3L275.1,682.8L276.1,682.7L277.1,680.6L278.1,680.0L279.0,677.8L280.0,679.7L281.0,678.8L282.0,678.5L283.0,676.9L284.0,679.4L285.0,677.6L286.0,677.9L286.9,677.0L287.9,676.0L288.9,677.7L289.9,676.0L290.9,676.1L291.9,675.6L292.9,677.0L293.9,674.5L294.8,673.9L295.8,675.8L296.8,675.7L297.8,673.3L298.8,675.8L299.8,675.6L300.8,675.4L301.8,672.7L302.7,672.6L303.7,673.3L304.7,672.6L305.7,674.4L306.7,672.2L307.7,672.9L308.7,672.7L309.7,673.1L310.6,673.1L311.6,673.8L312.6,674.4L313.6,673.3L314.6,674.0L315.6,672.6L316.6,672.4L317.6,672.8L318.5,673.9L319.5,674.7L320.5,674.4L321.5,674.2L322.5,673.9L323.5,673.0L324.5,676.0L325.5,674.8L326.4,674.9L327.4,674.3L328.4,673.9L329.4,674.3L330.4,674.9L331.4,674.6L332.4,674.9L333.4,674.4L334.4,674.9L335.3,675.0" fill="none" stroke="#ff1a1a" stroke-width="1.9" stroke-linejoin="round"/>
<path d="M219.8,663.6L220.8,663.9L221.8,665.3L222.7,665.8L223.7,668.0L224.7,671.3L225.7,672.6L226.7,675.5L227.7,679.2L228.7,682.8L229.7,684.3L230.6,686.0L231.6,689.4L232.6,693.5L233.6,695.8L234.6,695.8L235.6,696.9L236.6,698.2L237.6,699.3L238.5,699.0L239.5,699.1L240.5,699.4L241.5,699.4L242.5,699.2L243.5,699.2L244.5,699.3L245.5,698.4L246.4,698.0L247.4,697.3L248.4,696.4L249.4,696.6L250.4,696.0L251.4,695.7L252.4,694.8L253.4,694.2L254.3,693.7L255.3,693.2L256.3,693.3L257.3,692.8L258.3,692.2L259.3,691.7L260.3,691.3L261.3,690.8L262.2,690.7L263.2,690.6L264.2,689.7L265.2,689.7L266.2,688.6L267.2,688.0L268.2,687.8L269.2,688.0L270.2,687.5L271.1,687.2L272.1,686.1L273.1,685.2L274.1,684.7L275.1,684.2L276.1,683.7L277.1,683.8L278.1,683.2L279.0,682.5L280.0,681.5L281.0,681.1L282.0,680.7L283.0,680.1L284.0,680.0L285.0,679.9L286.0,679.8L286.9,679.3L287.9,678.7L288.9,678.1L289.9,677.8L290.9,677.0L291.9,676.7L292.9,676.5L293.9,676.5L294.8,676.9L295.8,676.4L296.8,676.4L297.8,675.6L298.8,675.4L299.8,675.0L300.8,675.0L301.8,674.7L302.7,673.9L303.7,673.8L304.7,673.5L305.7,673.4L306.7,673.1L307.7,673.4L308.7,673.5L309.7,673.6L310.6,673.9L311.6,674.0L312.6,674.1L313.6,674.9L314.6,675.2L315.6,675.2L316.6,675.3L317.6,675.7L318.5,675.7L319.5,675.8L320.5,675.8L321.5,675.5L322.5,675.4L323.5,675.4L324.5,675.6L325.5,675.6L326.4,675.1L327.4,675.3L328.4,675.3L329.4,675.1L330.4,675.0L331.4,675.1L332.4,675.3L333.4,674.8L334.4,675.2L335.3,675.3" fill="none" stroke="#14c814" stroke-width="1.9" stroke-linejoin="round"/>
<path d="M219.8,665.9L220.8,665.4L221.8,664.8L222.7,664.8L223.7,666.7L224.7,670.0L225.7,671.3L226.7,673.4L227.7,677.5L228.7,681.2L229.7,683.0L230.6,684.9L231.6,688.4L232.6,692.4L233.6,695.0L234.6,695.3L235.6,696.6L236.6,698.5L237.6,699.4L238.5,699.6L239.5,699.8L240.5,700.3L241.5,700.3L242.5,700.3L243.5,700.4L244.5,700.1L245.5,699.7L246.4,699.3L247.4,698.1L248.4,697.7L249.4,697.3L250.4,697.3L251.4,695.9L252.4,695.0L253.4,693.8L254.3,693.0L255.3,692.7L256.3,692.7L257.3,692.3L258.3,691.4L259.3,690.9L260.3,690.0L261.3,689.4L262.2,689.5L263.2,689.5L264.2,689.1L265.2,688.3L266.2,687.6L267.2,687.4L268.2,686.6L269.2,686.7L270.2,686.6L271.1,685.5L272.1,685.0L273.1,683.9L274.1,683.4L275.1,683.0L276.1,682.7L277.1,682.4L278.1,682.0L279.0,681.3L280.0,680.8L281.0,680.2L282.0,680.0L283.0,679.7L284.0,679.6L285.0,679.4L286.0,679.1L286.9,678.5L287.9,678.1L288.9,677.8L289.9,676.9L290.9,676.6L291.9,676.1L292.9,676.0L293.9,676.0L294.8,675.7L295.8,675.9L296.8,675.5L297.8,675.4L298.8,674.6L299.8,674.3L300.8,673.9L301.8,673.2L302.7,673.3L303.7,672.9L304.7,672.3L305.7,672.1L306.7,672.2L307.7,672.4L308.7,672.3L309.7,672.1L310.6,672.5L311.6,672.7L312.6,673.0L313.6,673.1L314.6,673.3L315.6,673.4L316.6,673.5L317.6,673.7L318.5,673.9L319.5,674.0L320.5,673.7L321.5,673.7L322.5,673.7L323.5,674.1L324.5,673.8L325.5,673.8L326.4,674.4L327.4,674.3L328.4,674.1L329.4,674.5L330.4,674.1L331.4,674.5L332.4,674.3L333.4,674.5L334.4,674.6L335.3,674.6" fill="none" stroke="#ff8c1a" stroke-width="1.9" stroke-linejoin="round"/>
<path d="M219.3,642.5500000000001V759.2H335.8" fill="none" stroke="#000" stroke-width="2.1" stroke-linejoin="miter"/>
<path d="M213.80,643.83L219.30,643.83" stroke="#000" stroke-width="1.9" fill="none" />
<text x="212.2" y="646.5250000000001" font-size="7" font-weight="normal" text-anchor="end" fill="#222" >5</text>
<path d="M213.80,672.70L219.30,672.70" stroke="#000" stroke-width="1.9" fill="none" />
<text x="212.2" y="675.4000000000001" font-size="7" font-weight="normal" text-anchor="end" fill="#222" >0</text>
<path d="M213.80,701.58L219.30,701.58" stroke="#000" stroke-width="1.9" fill="none" />
<text x="212.2" y="704.2750000000001" font-size="7" font-weight="normal" text-anchor="end" fill="#222" >-5</text>
<path d="M213.80,730.45L219.30,730.45" stroke="#000" stroke-width="1.9" fill="none" />
<text x="212.2" y="733.1500000000001" font-size="7" font-weight="normal" text-anchor="end" fill="#222" >-10</text>
<path d="M213.80,759.33L219.30,759.33" stroke="#000" stroke-width="1.9" fill="none" />
<text x="212.2" y="762.0250000000001" font-size="7" font-weight="normal" text-anchor="end" fill="#222" >-15</text>
<path d="M222.60,759.20L222.60,764.50" stroke="#000" stroke-width="1.9" fill="none" />
<text transform="translate(224.7,766.5) rotate(-90)" font-size="7" text-anchor="end" fill="#222">190</text>
<path d="M236.71,759.20L236.71,764.50" stroke="#000" stroke-width="1.9" fill="none" />
<text transform="translate(238.8,766.5) rotate(-90)" font-size="7" text-anchor="end" fill="#222">200</text>
<path d="M250.82,759.20L250.82,764.50" stroke="#000" stroke-width="1.9" fill="none" />
<text transform="translate(252.9,766.5) rotate(-90)" font-size="7" text-anchor="end" fill="#222">210</text>
<path d="M264.93,759.20L264.93,764.50" stroke="#000" stroke-width="1.9" fill="none" />
<text transform="translate(267.0,766.5) rotate(-90)" font-size="7" text-anchor="end" fill="#222">220</text>
<path d="M279.04,759.20L279.04,764.50" stroke="#000" stroke-width="1.9" fill="none" />
<text transform="translate(281.1,766.5) rotate(-90)" font-size="7" text-anchor="end" fill="#222">230</text>
<path d="M293.15,759.20L293.15,764.50" stroke="#000" stroke-width="1.9" fill="none" />
<text transform="translate(295.2,766.5) rotate(-90)" font-size="7" text-anchor="end" fill="#222">240</text>
<path d="M307.26,759.20L307.26,764.50" stroke="#000" stroke-width="1.9" fill="none" />
<text transform="translate(309.4,766.5) rotate(-90)" font-size="7" text-anchor="end" fill="#222">250</text>
<path d="M321.37,759.20L321.37,764.50" stroke="#000" stroke-width="1.9" fill="none" />
<text transform="translate(323.5,766.5) rotate(-90)" font-size="7" text-anchor="end" fill="#222">260</text>
<path d="M335.48,759.20L335.48,764.50" stroke="#000" stroke-width="1.9" fill="none" />
<text transform="translate(337.6,766.5) rotate(-90)" font-size="7" text-anchor="end" fill="#222">270</text>
<text transform="translate(194.2,700.5) rotate(-90)" font-size="11" font-weight="bold" text-anchor="middle" fill="#000">Circular Dichroism (mdeg)</text>
<text x="278.7" y="792" font-size="11" font-weight="bold" text-anchor="middle" fill="#000" >Wavelength (nm)</text>
<path d="M241.50,606.30L262.00,606.30" stroke="#ff8c1a" stroke-width="2.2" fill="none" />
<text x="272" y="609.1999999999999" font-size="8.1" font-weight="normal" text-anchor="start" fill="#222" >FIL + iMQT_020</text>
<path d="M241.50,618.05L262.00,618.05" stroke="#14c814" stroke-width="2.2" fill="none" />
<text x="272" y="620.9499999999999" font-size="8.1" font-weight="normal" text-anchor="start" fill="#222" >FIL</text>
<path d="M241.50,629.80L262.00,629.80" stroke="#ff1a1a" stroke-width="2.2" fill="none" />
<text x="272" y="632.6999999999999" font-size="8.1" font-weight="normal" text-anchor="start" fill="#222" >WT + iMQT_020</text>
<path d="M241.50,641.55L262.00,641.55" stroke="#1a1aff" stroke-width="2.2" fill="none" />
<text x="272" y="644.4499999999999" font-size="8.1" font-weight="normal" text-anchor="start" fill="#222" >WT</text>
<text x="367.3" y="582.8" font-size="16" font-weight="bold" text-anchor="start" fill="#000" >K</text>
<text x="459.4" y="593.5" font-size="10.8" font-weight="bold" text-anchor="end" fill="#000" >Fraction No:</text>
<text x="469.1" y="593.8" font-size="10.7" font-weight="bold" text-anchor="middle" fill="#000" >1</text>
<text x="481.2" y="593.8" font-size="10.7" font-weight="bold" text-anchor="middle" fill="#000" >2</text>
<text x="494.6" y="593.8" font-size="10.7" font-weight="bold" text-anchor="middle" fill="#000" >3</text>
<text x="509.4" y="593.8" font-size="10.7" font-weight="bold" text-anchor="middle" fill="#000" >4</text>
<text x="523.8" y="593.8" font-size="10.7" font-weight="bold" text-anchor="middle" fill="#000" >5</text>
<text x="537.3" y="593.8" font-size="10.7" font-weight="bold" text-anchor="middle" fill="#000" >6</text>
<text x="551" y="593.8" font-size="10.7" font-weight="bold" text-anchor="middle" fill="#000" >7</text>
<text x="563.5" y="593.8" font-size="10.7" font-weight="bold" text-anchor="middle" fill="#000" >8</text>
<text x="576.9" y="593.8" font-size="10.7" font-weight="bold" text-anchor="middle" fill="#000" >9</text>
<text x="590" y="593.8" font-size="10.7" font-weight="bold" text-anchor="middle" fill="#000" >10</text>
<text x="606.1" y="593.8" font-size="10.7" font-weight="bold" text-anchor="middle" fill="#000" >11</text>
<text x="620.6" y="593.8" font-size="10.7" font-weight="bold" text-anchor="middle" fill="#000" >12</text>
<text x="634.7" y="593.8" font-size="10.7" font-weight="bold" text-anchor="middle" fill="#000" >13</text>
<text x="647.8" y="593.8" font-size="10.7" font-weight="bold" text-anchor="middle" fill="#000" >14</text>
<text x="664.8" y="594.2" font-size="6.8" font-weight="normal" text-anchor="start" fill="#222" >kDa</text>
<rect x="461.2" y="641.5" width="195.2" height="4" fill="#555"/>
<linearGradient id="sg0" x1="0" x2="0" y1="0" y2="1"><stop offset="0" stop-color="#868686"/><stop offset="1" stop-color="#9c9c9c"/></linearGradient>
<rect x="461.2" y="599.5" width="195.2" height="20.1" fill="url(#sg0)" stroke="#111" stroke-width="0.9"/>
<linearGradient id="sg1" x1="0" x2="0" y1="0" y2="1"><stop offset="0" stop-color="#acacac"/><stop offset="1" stop-color="#b4b4b4"/></linearGradient>
<rect x="461.2" y="622.3" width="195.2" height="19.9" fill="url(#sg1)" stroke="#111" stroke-width="0.9"/>
<linearGradient id="sg2" x1="0" x2="0" y1="0" y2="1"><stop offset="0" stop-color="#a2a2a2"/><stop offset="1" stop-color="#acacac"/></linearGradient>
<rect x="461.2" y="645" width="195.2" height="20.2" fill="url(#sg2)" stroke="#111" stroke-width="0.9"/>
<linearGradient id="sg3" x1="0" x2="0" y1="0" y2="1"><stop offset="0" stop-color="#aaaaaa"/><stop offset="1" stop-color="#b4b4b4"/></linearGradient>
<rect x="461.2" y="667.2" width="195.2" height="20.2" fill="url(#sg3)" stroke="#111" stroke-width="0.9"/>
<rect x="490.3" y="612.7" width="10.1" height="3.4" rx="1.7" fill="#050505" opacity="1" filter="url(#blur05)"/>
<rect x="503.7" y="611.8" width="14.1" height="4.6" rx="2.3" fill="#000" opacity="1" filter="url(#blur05)"/>
<rect x="518.8" y="611.9" width="11.4" height="4.2" rx="2.1" fill="#000" opacity="1" filter="url(#blur05)"/>
<rect x="532.9" y="612.5" width="10.1" height="2.6" rx="1.3" fill="#111" opacity="1" filter="url(#blur05)"/>
<rect x="548.0" y="612.8" width="7.1" height="2.0" rx="1.0" fill="#222" opacity="0.9" filter="url(#blur05)"/>
<rect x="560.8" y="612.8" width="6.7" height="1.6" rx="0.8" fill="#444" opacity="0.5" filter="url(#blur05)"/>
<rect x="574.2" y="612.9" width="5.7" height="1.4" rx="0.7" fill="#555" opacity="0.3" filter="url(#blur05)"/>
<rect x="603.8" y="634.8" width="9.7" height="2.8" rx="1.4" fill="#111" opacity="1" filter="url(#blur05)"/>
<rect x="618.5" y="634.6" width="8.7" height="2.4" rx="1.2" fill="#222" opacity="0.95" filter="url(#blur05)"/>
<rect x="491.3" y="633.0" width="6.7" height="2" rx="1.0" fill="#777" opacity="0.18" filter="url(#blur05)"/>
<rect x="505.4" y="632.2" width="8.7" height="2" rx="1.0" fill="#777" opacity="0.25" filter="url(#blur05)"/>
<rect x="520.5" y="632.7" width="6.7" height="2" rx="1.0" fill="#888" opacity="0.1" filter="url(#blur05)"/>
<rect x="633.0" y="635.4" width="6.0" height="1.6" rx="0.8" fill="#777" opacity="0.25" filter="url(#blur05)"/>
<rect x="602.8" y="656.9" width="12.1" height="3.6" rx="1.8" fill="#000" opacity="1" filter="url(#blur05)"/>
<rect x="617.2" y="656.7" width="11.1" height="3.2" rx="1.6" fill="#050505" opacity="1" filter="url(#blur05)"/>
<rect x="632.0" y="656.7" width="7.4" height="2" rx="1.0" fill="#444" opacity="0.7" filter="url(#blur05)"/>
<rect x="491.3" y="658.6" width="7.4" height="2.2" rx="1.1" fill="#777" opacity="0.2" filter="url(#blur05)"/>
<rect x="505.4" y="657.6" width="8.1" height="2.2" rx="1.1" fill="#777" opacity="0.28" filter="url(#blur05)"/>
<rect x="519.5" y="657.0" width="7.7" height="2.4" rx="1.2" fill="#777" opacity="0.2" filter="url(#blur05)"/>
<rect x="533.9" y="653.7" width="6.7" height="4" rx="2.0" fill="#999" opacity="0.12" filter="url(#blur05)"/>
<rect x="603.8" y="677.8" width="9.7" height="2.8" rx="1.4" fill="#333" opacity="0.85" filter="url(#blur05)"/>
<rect x="617.9" y="678.3" width="11.8" height="2.4" rx="1.2" fill="#555" opacity="0.7" filter="url(#blur05)"/>
<rect x="632.0" y="679.2" width="8.1" height="2" rx="1.0" fill="#666" opacity="0.45" filter="url(#blur05)"/>
<rect x="589.3" y="679.2" width="6.7" height="2" rx="1.0" fill="#777" opacity="0.2" filter="url(#blur05)"/>
<path d="M654.40,617.20L659.90,617.20" stroke="#000" stroke-width="2" fill="none" />
<text x="665.8" y="618.8000000000001" font-size="7" font-weight="normal" text-anchor="start" fill="#222" >60</text>
<path d="M654.40,641.00L659.90,641.00" stroke="#000" stroke-width="2" fill="none" />
<text x="665.8" y="642.6" font-size="7" font-weight="normal" text-anchor="start" fill="#222" >60</text>
<path d="M654.40,662.70L659.90,662.70" stroke="#000" stroke-width="2" fill="none" />
<text x="665.8" y="664.3000000000001" font-size="7" font-weight="normal" text-anchor="start" fill="#222" >60</text>
<path d="M654.40,684.80L659.90,684.80" stroke="#000" stroke-width="2" fill="none" />
<text x="665.8" y="686.4" font-size="7" font-weight="normal" text-anchor="start" fill="#222" >60</text>
<text x="451.4" y="614.3" font-size="11" font-weight="bold" text-anchor="end" fill="#000" >WT</text>
<text x="454.9" y="635.7" font-size="11" font-weight="bold" text-anchor="end" fill="#000" >WT + iMQT_020</text>
<text x="452.8" y="657.5" font-size="11" font-weight="bold" text-anchor="end" fill="#000" >FIL</text>
<text x="455.8" y="680.6" font-size="11" font-weight="bold" text-anchor="end" fill="#000" >FIL + iMQT_020</text>
<path d="M462.2,756.4L486.8,756.4L501.1,753.6L507.2,749.5L513.3,743.4L521.5,732.3L531.7,724.1L539.9,714.7L546.0,711.1L551.3,714.7L558.3,725.0L564.4,737.2L570.5,746.6L576.7,749.5L586.9,751.9L601.2,752.8L649.4,753.6" fill="none" stroke="#868686" stroke-width="2" stroke-linejoin="round"/>
<path d="M462.2,765.8L499.0,765.0L513.3,763.0L523.5,757.7L531.7,750.3L541.9,742.9L546.0,744.2L552.2,751.5L559.5,754.8L566.5,749.5L572.6,744.2L578.7,742.9L584.9,747.4L591.0,753.6L599.2,759.7L609.4,763.0L625.7,763.8L649.4,764.2" fill="none" stroke="#f24a42" stroke-width="2" stroke-linejoin="round"/>
<path d="M462.2,779.3L523.5,778.9L533.8,776.9L541.9,769.9L548.1,759.7L552.2,755.6L562.4,745.4L570.5,738.0L575.9,733.5L580.8,740.5L586.9,751.5L593.0,761.8L599.2,768.3L609.4,772.0L625.7,774.8L649.4,776.5" fill="none" stroke="#a41cf0" stroke-width="2" stroke-linejoin="round"/>
<path d="M462.2,789.1L499.0,788.7L523.5,788.3L535.8,786.3L544.0,780.1L550.1,774.8L560.3,769.9L568.5,765.0L575.9,761.3L580.8,766.7L586.9,772.0L593.0,779.3L601.2,783.4L613.5,785.5L633.9,786.7L649.4,787.1" fill="none" stroke="#1cc47c" stroke-width="2" stroke-linejoin="round"/>
<path d="M512.50,700.50L512.50,794.00" stroke="#000" stroke-width="1.5" fill="none" stroke-dasharray="1.5,3.0999999999999996"/>
<path d="M588.50,700.50L588.50,794.00" stroke="#000" stroke-width="1.5" fill="none" stroke-dasharray="1.5,3.0999999999999996"/>
<path d="M462.20,691.40L512.50,700.00" stroke="#000" stroke-width="1.5" fill="none" stroke-dasharray="1.5,2.1"/>
<path d="M654.30,692.20L588.50,700.00" stroke="#000" stroke-width="1.5" fill="none" stroke-dasharray="1.5,2.1"/>
<path d="M462.2,700.25V794.5H649.4" fill="none" stroke="#000" stroke-width="2.1" stroke-linejoin="miter"/>
<path d="M456.80,701.30L462.20,701.30" stroke="#000" stroke-width="1.9" fill="none" />
<text x="455.2" y="704.0" font-size="7" font-weight="normal" text-anchor="end" fill="#222" >2000</text>
<path d="M456.80,747.90L462.20,747.90" stroke="#000" stroke-width="1.9" fill="none" />
<text x="455.2" y="750.6" font-size="7" font-weight="normal" text-anchor="end" fill="#222" >1000</text>
<path d="M456.80,794.50L462.20,794.50" stroke="#000" stroke-width="1.9" fill="none" />
<text x="455.2" y="797.2" font-size="7" font-weight="normal" text-anchor="end" fill="#222" >0</text>
<path d="M530.50,794.50L530.50,800.00" stroke="#000" stroke-width="1.9" fill="none" />
<text x="530.5" y="807.6" font-size="7" font-weight="normal" text-anchor="middle" fill="#222" >10</text>
<path d="M614.30,794.50L614.30,800.00" stroke="#000" stroke-width="1.9" fill="none" />
<text x="614.3" y="807.6" font-size="7" font-weight="normal" text-anchor="middle" fill="#222" >15</text>
<text x="564" y="818.2" font-size="11" font-weight="bold" text-anchor="middle" fill="#000" >Retention Volume (mL)</text>
<text transform="translate(414,747.4) rotate(-90)" font-size="11" font-weight="bold" text-anchor="middle" fill="#000">GFP</text>
<text transform="translate(427.6,747.4) rotate(-90)" font-size="11" font-weight="bold" text-anchor="middle" fill="#000">Fluorescence (mV)</text>
<text x="649.4" y="747.4" font-size="8.1" font-weight="normal" text-anchor="end" fill="#333" >WT</text>
<text x="684.2" y="760.9" font-size="8.1" font-weight="normal" text-anchor="end" fill="#333" >WT + iMQT_020</text>
<text x="649.4" y="773.2" font-size="8.1" font-weight="normal" text-anchor="end" fill="#333" >FIL</text>
<text x="684.2" y="785.6" font-size="8.1" font-weight="normal" text-anchor="end" fill="#333" >FIL + iMQT_020</text>
<text x="1.3" y="845.8" font-size="16" font-weight="bold" text-anchor="start" fill="#000" >L</text>
<path d="M70.4,889.9C71.8,890.0 75.7,889.9 78.8,890.2C82.0,890.5 85.8,890.8 89.3,891.8C92.8,892.7 96.3,893.9 99.9,895.7C103.4,897.4 106.9,899.5 110.4,902.3C113.9,905.0 117.4,908.3 120.9,912.0C124.4,915.6 127.9,920.2 131.4,924.1C134.9,927.9 138.7,932.0 141.9,935.1C145.0,938.3 148.9,941.7 150.3,943.0" fill="none" stroke="#10c010" stroke-width="2"/>
<path d="M70.4,890.4C71.8,890.7 75.7,890.9 78.8,892.0C82.0,893.1 85.8,894.6 89.3,897.0C92.8,899.4 96.3,902.5 99.9,906.2C103.4,909.9 106.9,914.7 110.4,919.3C113.9,923.9 117.4,929.4 120.9,933.8C124.4,938.2 127.9,942.3 131.4,945.6C134.9,948.9 138.7,951.4 141.9,953.5C145.0,955.6 148.9,957.2 150.3,958.0" fill="none" stroke="#f84848" stroke-width="2"/>
<path d="M124.1,920.0V930.0M122.5,920.0h3.2M122.5,930.0h3.2" stroke="#10c010" stroke-width="0.9" fill="none"/>
<path d="M150.3,927.9V946.9M148.7,927.9h3.2M148.7,946.9h3.2" stroke="#10c010" stroke-width="0.9" fill="none"/>
<path d="M71.8,890.6V901.6M70.2,890.6h3.2M70.2,901.6h3.2" stroke="#f84848" stroke-width="0.9" fill="none"/>
<path d="M71.8,888.3L73.8,890.3L71.8,892.3L69.8,890.3Z" fill="#10c010"/>
<path d="M89.3,886.7L91.3,888.7L89.3,890.7L87.3,888.7Z" fill="#10c010"/>
<path d="M98.0,892.1L100.0,894.1L98.0,896.1L96.0,894.1Z" fill="#10c010"/>
<path d="M106.7,897.9L108.7,899.9L106.7,901.9L104.7,899.9Z" fill="#10c010"/>
<path d="M115.4,896.8L117.4,898.8L115.4,900.8L113.4,898.8Z" fill="#10c010"/>
<path d="M124.1,923.0L126.1,925.0L124.1,927.0L122.1,925.0Z" fill="#10c010"/>
<path d="M132.9,924.2L134.9,926.2L132.9,928.2L130.9,926.2Z" fill="#10c010"/>
<path d="M141.6,932.7L143.6,934.7L141.6,936.7L139.6,934.7Z" fill="#10c010"/>
<path d="M150.3,935.4L152.3,937.4L150.3,939.4L148.3,937.4Z" fill="#10c010"/>
<circle cx="71.8" cy="896.1" r="2.1" fill="#f84848"/>
<circle cx="80.5" cy="892.6" r="2.1" fill="#f84848"/>
<circle cx="89.3" cy="893.0" r="2.1" fill="#f84848"/>
<circle cx="98.0" cy="908.8" r="2.1" fill="#f84848"/>
<circle cx="106.7" cy="915.0" r="2.1" fill="#f84848"/>
<circle cx="124.1" cy="935.9" r="2.1" fill="#f84848"/>
<circle cx="132.9" cy="950.2" r="2.1" fill="#f84848"/>
<circle cx="141.6" cy="957.9" r="2.1" fill="#f84848"/>
<circle cx="150.3" cy="952.5" r="2.1" fill="#f84848"/>
<path d="M48.6,860.25V977.2H165.5" fill="none" stroke="#000" stroke-width="2.1" stroke-linejoin="miter"/>
<path d="M43.20,861.31L48.60,861.31" stroke="#000" stroke-width="1.9" fill="none" />
<text x="41.6" y="864.0100000000001" font-size="7" font-weight="normal" text-anchor="end" fill="#222" >300</text>
<path d="M43.20,899.94L48.60,899.94" stroke="#000" stroke-width="1.9" fill="none" />
<text x="41.6" y="902.6400000000001" font-size="7" font-weight="normal" text-anchor="end" fill="#222" >200</text>
<path d="M43.20,938.57L48.60,938.57" stroke="#000" stroke-width="1.9" fill="none" />
<text x="41.6" y="941.2700000000001" font-size="7" font-weight="normal" text-anchor="end" fill="#222" >100</text>
<path d="M43.20,977.20L48.60,977.20" stroke="#000" stroke-width="1.9" fill="none" />
<text x="41.6" y="979.9000000000001" font-size="7" font-weight="normal" text-anchor="end" fill="#222" >0</text>
<path d="M63.09,977.20L63.09,982.80" stroke="#000" stroke-width="1.9" fill="none" />
<text x="63.09" y="990.8" font-size="7" font-weight="normal" text-anchor="middle" fill="#222" >-7</text>
<path d="M92.16,977.20L92.16,982.80" stroke="#000" stroke-width="1.9" fill="none" />
<text x="92.16000000000001" y="990.8" font-size="7" font-weight="normal" text-anchor="middle" fill="#222" >-6</text>
<path d="M121.23,977.20L121.23,982.80" stroke="#000" stroke-width="1.9" fill="none" />
<text x="121.23000000000002" y="990.8" font-size="7" font-weight="normal" text-anchor="middle" fill="#222" >-5</text>
<path d="M150.30,977.20L150.30,982.80" stroke="#000" stroke-width="1.9" fill="none" />
<text x="150.3" y="990.8" font-size="7" font-weight="normal" text-anchor="middle" fill="#222" >-4</text>
<text x="107.2" y="1004.7" font-size="11" font-weight="bold" text-anchor="middle" fill="#000" >Log [M]</text>
<text transform="translate(12,921) rotate(-90)" font-size="10.1" font-weight="bold" text-anchor="middle">Mitochondrial <tspan font-size="6.5" dy="-3.5">3</tspan><tspan dy="3.5">H-Gln</tspan></text>
<text transform="translate(25.2,921) rotate(-90)" font-size="10.1" font-weight="bold" text-anchor="middle" fill="#000">Uptake (pmol/g)</text>
<path d="M57.0,853.3L59.4,855.7L57.0,858.1L54.6,855.7Z" fill="#10c010"/>
<circle cx="56.6" cy="871.3" r="2.5" fill="#f84848"/>
<text x="63.4" y="858.5" font-size="8.3" font-weight="normal" text-anchor="start" fill="#333" >V-9302</text>
<text x="106.4" y="858.5" font-size="8.3" font-weight="normal" text-anchor="start" fill="#333" >IC50 = 16.406 &#181;M</text>
<text x="63.4" y="873.7" font-size="8.3" font-weight="normal" text-anchor="start" fill="#333" >iMQT_020</text>
<text x="106.4" y="873.7" font-size="8.3" font-weight="normal" text-anchor="start" fill="#333" >IC50 = 6.156 &#181;M</text>
<text x="177.2" y="845.8" font-size="16" font-weight="bold" text-anchor="start" fill="#000" >M</text>
<clipPath id="cm"><rect x="190" y="855" width="130" height="125.5"/></clipPath><g clip-path="url(#cm)">
<path d="M204.16,977.68L315.31,886.50" stroke="#868686" stroke-width="2.1" fill="none" />
<path d="M206.79,978.47L298.76,861.53" stroke="#f84848" stroke-width="2.1" fill="none" />
<path d="M222.03,979.25L283.52,860.22" stroke="#1414e0" stroke-width="2.1" fill="none" />
<path d="M231.75,979.25L258.55,857.07" stroke="#10c010" stroke-width="2.1" fill="none" />
</g>
<rect x="236.6" y="962.3" width="3.4" height="3.4" fill="#868686"/>
<rect x="243.2" y="943.1" width="3.4" height="3.4" fill="#868686"/>
<rect x="250.3" y="947.9" width="3.4" height="3.4" fill="#868686"/>
<rect x="266.1" y="892.7" width="3.4" height="3.4" fill="#868686"/>
<rect x="297.1" y="898.7" width="3.4" height="3.4" fill="#868686"/>
<path d="M252.1,886.6V893.4M249.9,886.6h4.4M249.9,893.4h4.4" stroke="#10c010" stroke-width="1.3" fill="none"/>
<path d="M238.2,958.5V961.5M236.0,958.5h4.4M236.0,961.5h4.4" stroke="#10c010" stroke-width="1.3" fill="none"/>
<path d="M238.2,958.0l2,2l-2,2l-2,-2Z" fill="#10c010"/>
<path d="M244.4,927.9l2,2l-2,2l-2,-2Z" fill="#10c010"/>
<path d="M252.1,883.1l2,2l-2,2l-2,-2Z" fill="#10c010"/>
<path d="M238.2,967.3V970.3M236.0,967.3h4.4M236.0,970.3h4.4" stroke="#f84848" stroke-width="1.3" fill="none"/>
<circle cx="238.2" cy="968.8" r="2" fill="#f84848"/>
<circle cx="244.4" cy="927.9" r="2" fill="#f84848"/>
<circle cx="252.1" cy="884.1" r="2" fill="#f84848"/>
<circle cx="267.6" cy="900.7" r="2" fill="#f84848"/>
<path d="M238.2,958.4V969.4M236.0,958.4h4.4M236.0,969.4h4.4" stroke="#1414e0" stroke-width="1.3" fill="none"/>
<path d="M244.4,938.3V946.7M242.2,938.3h4.4M242.2,946.7h4.4" stroke="#1414e0" stroke-width="1.3" fill="none"/>
<path d="M252.1,897.7V913.3M249.9,897.7h4.4M249.9,913.3h4.4" stroke="#1414e0" stroke-width="1.3" fill="none"/>
<path d="M238.2,966.9l2,3.6h-4Z" fill="#1414e0"/>
<path d="M244.4,936.7l2,3.6h-4Z" fill="#1414e0"/>
<path d="M252.1,903.6l2,3.6h-4Z" fill="#1414e0"/>
<path d="M252.1,895.8l2,3.6h-4Z" fill="#1414e0"/>
<path d="M267.6,877.4l2,3.6h-4Z" fill="#1414e0"/>
<path d="M197.60,978.50L315.30,978.50" stroke="#000" stroke-width="2.1" fill="none" />
<path d="M236.70,861.00L236.70,979.50" stroke="#000" stroke-width="2.1" fill="none" />
<path d="M231.40,881.20L236.70,881.20" stroke="#000" stroke-width="1.9" fill="none" />
<text x="229.8" y="883.9000000000001" font-size="7" font-weight="normal" text-anchor="end" fill="#222" >10</text>
<path d="M231.40,929.85L236.70,929.85" stroke="#000" stroke-width="1.9" fill="none" />
<text x="229.8" y="932.5500000000001" font-size="7" font-weight="normal" text-anchor="end" fill="#222" >5</text>
<path d="M198.10,978.50L198.10,984.00" stroke="#000" stroke-width="1.9" fill="none" />
<text x="198.1" y="992.4" font-size="7" font-weight="normal" text-anchor="middle" fill="#222" >-5</text>
<path d="M236.70,978.50L236.70,984.00" stroke="#000" stroke-width="1.9" fill="none" />
<text x="236.7" y="992.4" font-size="7" font-weight="normal" text-anchor="middle" fill="#222" >0</text>
<path d="M275.30,978.50L275.30,984.00" stroke="#000" stroke-width="1.9" fill="none" />
<text x="275.3" y="992.4" font-size="7" font-weight="normal" text-anchor="middle" fill="#222" >5</text>
<path d="M313.90,978.50L313.90,984.00" stroke="#000" stroke-width="1.9" fill="none" />
<text x="313.9" y="992.4" font-size="7" font-weight="normal" text-anchor="middle" fill="#222" >10</text>
<text x="254.5" y="1004.7" font-size="11" font-weight="bold" text-anchor="middle">1/[<tspan font-size="6.8" dy="-3.6">3</tspan><tspan dy="3.6">H-Gln], </tspan><tspan font-weight="normal">&#181;</tspan>M<tspan font-size="6.8" dy="-3.6">-1</tspan></text>
<text transform="translate(193.6,916.5) rotate(-90)" font-size="11" font-weight="bold" text-anchor="middle" fill="#000">1/[SLC1A5_var Activity]</text>
<rect x="274.7" y="928" width="3.5" height="3.5" fill="#868686"/>
<path d="M276.4,940.2l2,2l-2,2l-2,-2Z" fill="#10c010"/>
<circle cx="276.4" cy="954.6" r="2" fill="#f84848"/>
<path d="M276.4,965.2l2,3.6h-4Z" fill="#1414e0"/>
<text x="286.1" y="932.5" font-size="8.3" font-weight="normal" text-anchor="start" fill="#333" >Vehicle</text>
<text x="286.1" y="945.1" font-size="8.3" font-weight="normal" text-anchor="start" fill="#333" >V-9302</text>
<text x="286.1" y="957.4" font-size="8.3" font-weight="normal" text-anchor="start" fill="#333" >iMQT_020</text>
<text x="286.1" y="969.8" font-size="8.3" font-weight="normal" text-anchor="start" fill="#333" >GPNA</text>
<text x="336.6" y="845.8" font-size="16" font-weight="bold" text-anchor="start" fill="#000" >N</text>
<rect x="389.0" y="935.5" width="6.3" height="44.9" fill="#10c010" stroke="#0a0a0a" stroke-width="0.7"/>
<rect x="397.1" y="940.9" width="6.6" height="39.5" fill="#f84848" stroke="#0a0a0a" stroke-width="0.7"/>
<path d="M392.2,930.7l1.7,1.7l-1.7,1.7l-1.7,-1.7Z" fill="#10c010"/>
<path d="M392.7,933.8l1.7,1.7l-1.7,1.7l-1.7,-1.7Z" fill="#10c010"/>
<circle cx="399.9" cy="936.3" r="1.9" fill="#f84848"/>
<circle cx="401.2" cy="938.6" r="1.9" fill="#f84848"/>
<circle cx="400.7" cy="940.9" r="1.9" fill="#f84848"/>
<rect x="407.7" y="937.8" width="6.3" height="42.6" fill="#10c010" stroke="#0a0a0a" stroke-width="0.7"/>
<rect x="415.8" y="915.4" width="6.6" height="65.0" fill="#f84848" stroke="#0a0a0a" stroke-width="0.7"/>
<path d="M410.9,936.1l1.7,1.7l-1.7,1.7l-1.7,-1.7Z" fill="#10c010"/>
<circle cx="419.1" cy="914.6" r="1.9" fill="#f84848"/>
<circle cx="419.7" cy="915.4" r="1.9" fill="#f84848"/>
<rect x="426.9" y="940.2" width="6.3" height="40.2" fill="#10c010" stroke="#0a0a0a" stroke-width="0.7"/>
<rect x="435.0" y="932.4" width="6.6" height="48.0" fill="#f84848" stroke="#0a0a0a" stroke-width="0.7"/>
<path d="M430.1,935.4l1.7,1.7l-1.7,1.7l-1.7,-1.7Z" fill="#10c010"/>
<path d="M430.1,938.5l1.7,1.7l-1.7,1.7l-1.7,-1.7Z" fill="#10c010"/>
<circle cx="437.9" cy="932.4" r="1.9" fill="#f84848"/>
<circle cx="438.8" cy="931.6" r="1.9" fill="#f84848"/>
<rect x="445.8" y="927.8" width="6.3" height="52.6" fill="#10c010" stroke="#0a0a0a" stroke-width="0.7"/>
<rect x="453.9" y="902.2" width="6.6" height="78.2" fill="#f84848" stroke="#0a0a0a" stroke-width="0.7"/>
<path d="M448.5,923.0l1.7,1.7l-1.7,1.7l-1.7,-1.7Z" fill="#10c010"/>
<path d="M449.8,926.1l1.7,1.7l-1.7,1.7l-1.7,-1.7Z" fill="#10c010"/>
<circle cx="456.6" cy="902.2" r="1.9" fill="#f84848"/>
<circle cx="457.8" cy="902.2" r="1.9" fill="#f84848"/>
<rect x="464.7" y="906.9" width="6.3" height="73.5" fill="#10c010" stroke="#0a0a0a" stroke-width="0.7"/>
<rect x="472.8" y="882.1" width="6.6" height="98.3" fill="#f84848" stroke="#0a0a0a" stroke-width="0.7"/>
<path d="M467.3,902.8l1.7,1.7l-1.7,1.7l-1.7,-1.7Z" fill="#10c010"/>
<path d="M468.5,905.2l1.7,1.7l-1.7,1.7l-1.7,-1.7Z" fill="#10c010"/>
<circle cx="475.6" cy="880.9" r="1.9" fill="#f84848"/>
<circle cx="476.9" cy="882.1" r="1.9" fill="#f84848"/>
<rect x="483.6" y="902.2" width="6.3" height="78.2" fill="#10c010" stroke="#0a0a0a" stroke-width="0.7"/>
<rect x="491.7" y="913.8" width="6.6" height="66.6" fill="#f84848" stroke="#0a0a0a" stroke-width="0.7"/>
<path d="M486.8,898.2l1.7,1.7l-1.7,1.7l-1.7,-1.7Z" fill="#10c010"/>
<path d="M487.1,898.2l1.7,1.7l-1.7,1.7l-1.7,-1.7Z" fill="#10c010"/>
<circle cx="495.3" cy="908.8" r="1.9" fill="#f84848"/>
<circle cx="495.0" cy="913.8" r="1.9" fill="#f84848"/>
<path d="M386.5,894.9H502.1" stroke="#222" stroke-width="0.9" stroke-dasharray="1,1.3"/>
<path d="M386.5,911.7H502.1" stroke="#222" stroke-width="0.9" stroke-dasharray="1,1.3"/>
<path d="M386.5,863.1500000000001V980.4H502.1" fill="none" stroke="#000" stroke-width="2.1" stroke-linejoin="miter"/>
<path d="M381.10,864.30L386.50,864.30" stroke="#000" stroke-width="1.9" fill="none" />
<text x="379.5" y="867.0" font-size="7" font-weight="normal" text-anchor="end" fill="#222" >1.5</text>
<path d="M381.10,903.00L386.50,903.00" stroke="#000" stroke-width="1.9" fill="none" />
<text x="379.5" y="905.7" font-size="7" font-weight="normal" text-anchor="end" fill="#222" >1.0</text>
<path d="M381.10,941.70L386.50,941.70" stroke="#000" stroke-width="1.9" fill="none" />
<text x="379.5" y="944.4" font-size="7" font-weight="normal" text-anchor="end" fill="#222" >0.5</text>
<path d="M381.10,980.40L386.50,980.40" stroke="#000" stroke-width="1.9" fill="none" />
<text x="379.5" y="983.1" font-size="7" font-weight="normal" text-anchor="end" fill="#222" >0.0</text>
<path d="M396.20,980.40L396.20,986.00" stroke="#000" stroke-width="1.9" fill="none" />
<text x="396.2" y="1004.7" font-size="11" font-weight="bold" text-anchor="middle" fill="#000" >Q</text>
<path d="M414.90,980.40L414.90,986.00" stroke="#000" stroke-width="1.9" fill="none" />
<text x="414.9" y="1004.7" font-size="11" font-weight="bold" text-anchor="middle" fill="#000" >N</text>
<path d="M434.10,980.40L434.10,986.00" stroke="#000" stroke-width="1.9" fill="none" />
<text x="434.1" y="1004.7" font-size="11" font-weight="bold" text-anchor="middle" fill="#000" >S</text>
<path d="M453.00,980.40L453.00,986.00" stroke="#000" stroke-width="1.9" fill="none" />
<text x="453" y="1004.7" font-size="11" font-weight="bold" text-anchor="middle" fill="#000" >L</text>
<path d="M471.90,980.40L471.90,986.00" stroke="#000" stroke-width="1.9" fill="none" />
<text x="471.9" y="1004.7" font-size="11" font-weight="bold" text-anchor="middle" fill="#000" >P</text>
<path d="M490.80,980.40L490.80,986.00" stroke="#000" stroke-width="1.9" fill="none" />
<text x="490.8" y="1004.7" font-size="11" font-weight="bold" text-anchor="middle" fill="#000" >E</text>
<text x="392.3" y="889.5" font-size="8" font-weight="normal" text-anchor="start" fill="#333" >p &lt; 0.05</text>
<path d="M393.1,847.7l2,2l-2,2l-2,-2Z" fill="#10c010"/>
<circle cx="393.1" cy="862.1" r="2.1" fill="#f84848"/>
<text x="399.70000000000005" y="852.3" font-size="8.3" font-weight="normal" text-anchor="start" fill="#333" >V-9302</text>
<text x="399.70000000000005" y="864.8" font-size="8.3" font-weight="normal" text-anchor="start" fill="#333" >iMQT_020</text>
<text transform="translate(349,921.7) rotate(-90)" font-size="10.6" font-weight="bold" text-anchor="middle">Mitochondrial <tspan font-size="6.6" dy="-3.5">3</tspan><tspan dy="3.5">H-Uptake</tspan></text>
<text transform="translate(362.8,921.7) rotate(-90)" font-size="10.6" font-weight="bold" text-anchor="middle" fill="#000">(Relative to Vehicle)</text>
<text x="505.4" y="845.8" font-size="16" font-weight="bold" text-anchor="start" fill="#000" >O</text>
<rect x="563.0" y="944.0" width="6.3" height="36.4" fill="#10c010" stroke="#0a0a0a" stroke-width="0.7"/>
<rect x="571.1" y="895.3" width="6.6" height="85.1" fill="#f84848" stroke="#0a0a0a" stroke-width="0.7"/>
<path d="M566.2,944.0V938.6" stroke="#10c010" stroke-width="1"/>
<path d="M566.2,936.9l1.7,1.7l-1.7,1.7l-1.7,-1.7Z" fill="#10c010"/>
<path d="M566.2,942.3l1.7,1.7l-1.7,1.7l-1.7,-1.7Z" fill="#10c010"/>
<circle cx="573.8" cy="893.7" r="1.9" fill="#f84848"/>
<circle cx="575.2" cy="895.3" r="1.9" fill="#f84848"/>
<rect x="581.9" y="930.1" width="6.3" height="50.3" fill="#10c010" stroke="#0a0a0a" stroke-width="0.7"/>
<rect x="590.0" y="904.5" width="6.6" height="75.9" fill="#f84848" stroke="#0a0a0a" stroke-width="0.7"/>
<path d="M593.3,904.5V899.1" stroke="#f84848" stroke-width="1"/>
<path d="M585.1,927.6l1.7,1.7l-1.7,1.7l-1.7,-1.7Z" fill="#10c010"/>
<circle cx="593.3" cy="899.1" r="1.9" fill="#f84848"/>
<circle cx="593.3" cy="904.5" r="1.9" fill="#f84848"/>
<rect x="600.8" y="926.2" width="6.3" height="54.2" fill="#10c010" stroke="#0a0a0a" stroke-width="0.7"/>
<rect x="608.9" y="908.4" width="6.6" height="72.0" fill="#f84848" stroke="#0a0a0a" stroke-width="0.7"/>
<path d="M612.2,908.4V904.5" stroke="#f84848" stroke-width="1"/>
<path d="M604.0,923.0l1.7,1.7l-1.7,1.7l-1.7,-1.7Z" fill="#10c010"/>
<circle cx="611.7" cy="904.5" r="1.9" fill="#f84848"/>
<circle cx="613.0" cy="908.4" r="1.9" fill="#f84848"/>
<rect x="619.5" y="933.2" width="6.3" height="47.2" fill="#10c010" stroke="#0a0a0a" stroke-width="0.7"/>
<rect x="627.6" y="907.6" width="6.6" height="72.8" fill="#f84848" stroke="#0a0a0a" stroke-width="0.7"/>
<path d="M630.9,907.6V902.2" stroke="#f84848" stroke-width="1"/>
<path d="M622.7,931.1l1.7,1.7l-1.7,1.7l-1.7,-1.7Z" fill="#10c010"/>
<circle cx="630.9" cy="902.2" r="1.9" fill="#f84848"/>
<circle cx="630.9" cy="907.6" r="1.9" fill="#f84848"/>
<rect x="638.4" y="908.4" width="6.3" height="72.0" fill="#10c010" stroke="#0a0a0a" stroke-width="0.7"/>
<rect x="646.5" y="893.7" width="6.6" height="86.7" fill="#f84848" stroke="#0a0a0a" stroke-width="0.7"/>
<path d="M641.2,905.6l1.7,1.7l-1.7,1.7l-1.7,-1.7Z" fill="#10c010"/>
<path d="M642.2,905.9l1.7,1.7l-1.7,1.7l-1.7,-1.7Z" fill="#10c010"/>
<circle cx="649.3" cy="892.2" r="1.9" fill="#f84848"/>
<circle cx="650.4" cy="893.7" r="1.9" fill="#f84848"/>
<rect x="657.6" y="920.8" width="6.3" height="59.6" fill="#10c010" stroke="#0a0a0a" stroke-width="0.7"/>
<rect x="665.7" y="892.9" width="6.6" height="87.5" fill="#f84848" stroke="#0a0a0a" stroke-width="0.7"/>
<path d="M669.0,892.9V880.2" stroke="#f84848" stroke-width="1"/>
<path d="M660.8,916.0l1.7,1.7l-1.7,1.7l-1.7,-1.7Z" fill="#10c010"/>
<path d="M660.8,919.1l1.7,1.7l-1.7,1.7l-1.7,-1.7Z" fill="#10c010"/>
<circle cx="669.0" cy="880.2" r="1.9" fill="#f84848"/>
<circle cx="669.3" cy="899.9" r="1.9" fill="#f84848"/>
<circle cx="668.7" cy="895.3" r="1.9" fill="#f84848"/>
<path d="M560.2,894.9H677.1" stroke="#222" stroke-width="0.9" stroke-dasharray="1,1.3"/>
<path d="M560.2,911.7H677.1" stroke="#222" stroke-width="0.9" stroke-dasharray="1,1.3"/>
<path d="M560.2,863.1500000000001V980.4H677.1" fill="none" stroke="#000" stroke-width="2.1" stroke-linejoin="miter"/>
<path d="M554.80,864.30L560.20,864.30" stroke="#000" stroke-width="1.9" fill="none" />
<text x="553.2" y="867.0" font-size="7" font-weight="normal" text-anchor="end" fill="#222" >1.5</text>
<path d="M554.80,903.00L560.20,903.00" stroke="#000" stroke-width="1.9" fill="none" />
<text x="553.2" y="905.7" font-size="7" font-weight="normal" text-anchor="end" fill="#222" >1.0</text>
<path d="M554.80,941.70L560.20,941.70" stroke="#000" stroke-width="1.9" fill="none" />
<text x="553.2" y="944.4" font-size="7" font-weight="normal" text-anchor="end" fill="#222" >0.5</text>
<path d="M554.80,980.40L560.20,980.40" stroke="#000" stroke-width="1.9" fill="none" />
<text x="553.2" y="983.1" font-size="7" font-weight="normal" text-anchor="end" fill="#222" >0.0</text>
<path d="M570.20,980.40L570.20,986.00" stroke="#000" stroke-width="1.9" fill="none" />
<text x="570.2" y="1004.7" font-size="11" font-weight="bold" text-anchor="middle" fill="#000" >Q</text>
<path d="M589.10,980.40L589.10,986.00" stroke="#000" stroke-width="1.9" fill="none" />
<text x="589.1" y="1004.7" font-size="11" font-weight="bold" text-anchor="middle" fill="#000" >N</text>
<path d="M608.00,980.40L608.00,986.00" stroke="#000" stroke-width="1.9" fill="none" />
<text x="608" y="1004.7" font-size="11" font-weight="bold" text-anchor="middle" fill="#000" >S</text>
<path d="M626.70,980.40L626.70,986.00" stroke="#000" stroke-width="1.9" fill="none" />
<text x="626.7" y="1004.7" font-size="11" font-weight="bold" text-anchor="middle" fill="#000" >L</text>
<path d="M645.60,980.40L645.60,986.00" stroke="#000" stroke-width="1.9" fill="none" />
<text x="645.6" y="1004.7" font-size="11" font-weight="bold" text-anchor="middle" fill="#000" >P</text>
<path d="M664.80,980.40L664.80,986.00" stroke="#000" stroke-width="1.9" fill="none" />
<text x="664.8" y="1004.7" font-size="11" font-weight="bold" text-anchor="middle" fill="#000" >E</text>
<text x="564.1" y="889.5" font-size="8" font-weight="normal" text-anchor="start" fill="#333" >p &lt; 0.05</text>
<path d="M569.4,847.7l2,2l-2,2l-2,-2Z" fill="#10c010"/>
<circle cx="569.4" cy="862.1" r="2.1" fill="#f84848"/>
<text x="576.0" y="852.3" font-size="8.3" font-weight="normal" text-anchor="start" fill="#333" >V-9302</text>
<text x="576.0" y="864.8" font-size="8.3" font-weight="normal" text-anchor="start" fill="#333" >iMQT_020</text>
<text transform="translate(524.8,921.7) rotate(-90)" font-size="10.6" font-weight="bold" text-anchor="middle">Cellular <tspan font-size="6.6" dy="-3.5">3</tspan><tspan dy="3.5">H-Uptake</tspan></text>
<text transform="translate(538.6,921.7) rotate(-90)" font-size="10.6" font-weight="bold" text-anchor="middle" fill="#000">(Relative to Vehicle)</text>
</svg>
</body></html>
